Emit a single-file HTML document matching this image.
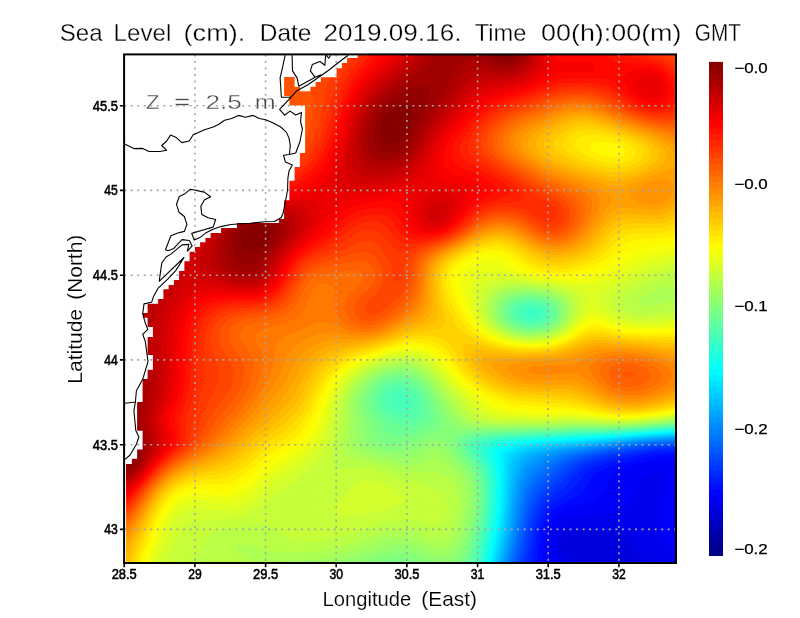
<!DOCTYPE html>
<html><head><meta charset="utf-8"><title>Sea Level</title>
<style>
html,body{margin:0;padding:0;background:#fff;}
body{width:800px;height:618px;overflow:hidden;}
svg{display:block;font-family:"Liberation Sans",sans-serif;}
</style></head><body>
<svg width="800" height="618" viewBox="0 0 800 618">
<rect width="800" height="618" fill="#fff"/>
<defs><clipPath id="c"><rect x="124.1" y="54.4" width="551.9" height="508.6"/></clipPath><clipPath id="h"><rect x="126.6" y="54.4" width="549.4" height="507.70000000000005"/></clipPath></defs>
<g clip-path="url(#c)">
<g clip-path="url(#h)">
<rect x="124.1" y="54.4" width="551.9" height="508.6" fill="#0000df"/>
<path fill="#0000ec" d="M676.1 50.4v516h-26l-2-2.7l-1.1-1.3l-2.9-2.8l-0.9-1.2l-2.5-4l-0.6-1.2l-1.2-2.8l-1.7-4l-1.1-2.4l-0.8-1.6l-2.5-4l-0.7-0.8l-3.2-3.2l-0.8-0.6l-4-2.2l-3.8-1.2h-0.2l-4-0.6l-4-0.2h-4l-4 0.2l-4 0.1l-4 0.2h-8l-8-0.6l-4-0.1l-4 0.1l-4 0.8l-0.2 0.1l-3.8 2l-2.2 2l-1.8 2.3l-0.9 1.7l-1.2 4l-0.2 4l1 4l1.3 2.4l1.2 1.6l2.8 2.6l2.1 1.4l1.9 1.4l4 2.2l0.8 0.4l3.2 2.4l2.6 1.6h-458.6v-516z"/>
<path fill="#0000f9" d="M676.1 50.4v502.2l-3.5-2.2l-0.5-0.3l-3.6-3.7l-0.4-0.5l-2.6-3.5l-1.4-2.3l-0.9-1.7l-1.7-4l-1.3-4l-0.1-0.7l-0.7-3.3l-0.6-4l-0.4-4l-0.1-4l0.2-4l0.4-4l0.6-4l0.6-2.5l0.2-1.5l1.8-8l1.1-4l1-4l0.1-4l-0.2-0.8l-1.9-3.2l-2.1-1.1l-4-0.5l-4 0.3l-4 1l-0.9 0.3l-3.1 1.8l-2.9 2.2l-1.1 1.8l-1.1 2.2l-1.6 8l-1.3 3.7l-0.1 0.3l-2.2 4l-4 4l-1.7 1.2l-4 2.4l-0.7 0.4l-3.3 1.5l-4 1.6l-2.6 0.9l-1.4 0.4l-4 1.2l-4 1.1l-4 0.9l-1.9 0.4l-2.1 0.4l-4 0.7l-4 0.5l-8 0.6l-4 0.4l-4 0.5l-3.9 0.9h-0.1l-4 1.6l-4 2.3l-0.1 0.1l-3.9 3.6l-0.3 0.4l-2.7 4l-1 1.9l-0.8 2.1l-1.2 4l-0.8 4l-0.4 4l0.2 4l0.8 4l1.5 4l0.7 1.7l1.3 2.3l1.4 4h-434.7v-516z"/>
<path fill="#0006ff" d="M676.1 50.4v409l-4-0.1l-4-0.2l-4 0.1l-4 0.4l-4 0.5l-8 1.4l-4 0.9h-0.2l-3.8 1.2l-8 2.4l-1.4 0.4l-2.6 1.1l-4 1.6l-3.5 1.3l-0.5 0.3l-4 2.3l-2.4 1.4l-1.6 1.6l-2.2 2.4l-1.8 3.9l-0.1 0.1l-1 4l-1.6 4l-1.3 1.7l-1.7 2.3l-2.3 1.9l-2.8 2.1l-1.2 0.7l-4 2.1l-2.6 1.2l-1.4 0.5l-4 1.4l-4 1.2l-3.1 0.9l-0.9 0.2l-4 1.2l-4 1.4l-2.8 1.2l-1.2 0.5l-4 2.2l-1.8 1.3l-2.2 1.7l-2.3 2.3l-1.7 1.9l-1.4 2.1l-2.4 4l-1.6 4l-1.3 4l-1.1 4l-0.2 1.1l-0.5 2.9l-0.4 4l-0.2 4l0.1 4l0.4 4l1 8h-424.4v-516z"/>
<path fill="#0013ff" d="M676.1 50.4v403.9h-8l-1.9 0.1l-2.1 0.1l-4 0.4l-4 0.5l-4 0.6l-4 0.7l-4 0.8l-4 0.7l-1 0.2l-3 0.9l-4 1.1l-4 1l-4 0.9l-0.2 0.1l-3.8 1.2l-4 1.3l-4 1.1l-1.4 0.4l-2.6 1.1l-4 1.6l-3 1.3l-1 0.7l-4 2.7l-0.8 0.6l-3.2 3.7l-0.3 0.3l-2.4 4l-1.3 2.2l-1.1 1.8l-2.9 3.7l-0.2 0.3l-3.8 3.3l-0.9 0.7l-3.1 2l-3.5 2l-0.5 0.2l-4 2.1l-3.1 1.7l-0.9 0.5l-4 2.3l-1.7 1.2l-2.3 1.7l-2.6 2.3l-1.4 1.3l-2.3 2.7l-1.7 2.3l-1 1.7l-2.1 4l-0.9 1.9l-0.8 2.1l-1.3 4l-1.1 4l-0.8 3.1l-0.2 0.9l-0.7 4l-1 8l-0.3 4l-0.2 4l-0.2 8h-417.4v-516z"/>
<path fill="#0020ff" d="M676.1 50.4v401.2h-4l-4 0.1l-4 0.2l-4 0.3l-8 0.8l-8 1.2l-1.6 0.2l-2.4 0.6l-8 1.8l-4 0.8l-3.7 0.8l-0.3 0.1l-4 1.1l-8 2l-3.4 0.8l-0.6 0.2l-8 2.6l-3.4 1.2l-0.6 0.3l-4 2.1l-2.9 1.6l-1.1 0.9l-3.6 3.1l-0.4 0.4l-3 3.6l-1 1.4l-2 2.6l-2 2.5l-1.3 1.5l-2.7 2.7l-1.4 1.3l-2.6 2l-2.7 2l-1.3 0.8l-4 2.8l-0.6 0.4l-3.4 2.5l-1.8 1.5l-2.2 1.9l-2 2.1l-2 2.2l-1.3 1.8l-2.7 4v0.1l-1.9 3.9l-1.7 4l-0.4 1.1l-0.9 2.9l-1.1 4l-1 4l-0.9 4l-0.1 0.3l-0.7 3.7l-1.2 8l-0.7 4l-0.6 4l-0.5 4l-0.3 3.9v0.1h-412v-516z"/>
<path fill="#002dff" d="M676.1 50.4v399l-4 0.1h-4l-8 0.4l-4 0.3l-2 0.2l-10 1.5l-12 2.1l-2.2 0.4l-1.8 0.4l-4 1l-4 0.9l-4 0.8l-4 0.9h-0.2l-3.8 1l-4 1.1l-4 1l-3.3 0.9l-0.7 0.3l-4 1.5l-4 1.7l-1.2 0.5l-2.8 1.8l-3.3 2.2l-0.7 0.6l-3.6 3.4l-0.4 0.4l-3.1 3.6l-0.9 1l-2.6 3l-4 4l-1.4 1.3l-3.2 2.7l-0.8 0.6l-4 3.2l-0.3 0.2l-3.7 3.1l-0.9 0.9l-3.1 3l-4 5l-2.4 4l-1.6 3.1l-0.4 0.9l-1.6 4l-1.3 4l-0.7 2.1l-0.5 1.9l-1 4l-0.9 4l-0.8 4l-0.8 3.7v0.3l-0.8 4l-0.7 4l-0.8 4l-0.9 4l-0.8 4v0.4l-0.4 3.6h-407.6v-516z"/>
<path fill="#0039ff" d="M676.1 50.4v397.3h-4l-4 0.1l-4 0.2l-8 0.6l-4 0.4l-4 0.5l-4 0.4l-3.6 0.5l-0.4 0.1l-4 0.7l-8 1.6l-8 1.4l-1 0.2l-3 0.7l-8 1.8l-4 0.8l-3.2 0.7l-0.8 0.2l-4 1.2l-4 1.1l-4 1.3l-0.6 0.2l-3.4 1.5l-4 2l-0.8 0.5l-3.2 2.3l-2.2 1.7l-1.8 1.7l-2.4 2.3l-1.6 1.7l-2.2 2.3l-1.8 1.9l-2.1 2.1l-1.9 1.7l-2.5 2.3l-1.5 1.3l-3.1 2.7l-0.9 0.8l-3.5 3.2l-0.5 0.5l-3.2 3.5l-0.8 0.9l-2.2 3.1l-1.8 2.8l-0.7 1.2l-1.9 4l-1.4 3.4l-0.2 0.6l-1.3 4l-1.2 4l-1 4l-0.3 1.1l-0.6 2.9l-0.9 4l-2.4 12l-0.1 0.3l-0.8 3.7l-0.9 4l-1 4l-0.9 4l-0.4 3.1l-0.1 0.9h-403.9v-516z"/>
<path fill="#0046ff" d="M676.1 50.4v395.7h-4l-8 0.2l-1 0.1l-3 0.2l-8 0.8l-8 1l-4 0.6l-4 0.5l-4 0.6l-1.9 0.3l-2.1 0.4l-8 1.6l-4 0.7l-4 0.8l-3.1 0.5l-0.9 0.2l-16 3.6l-0.7 0.2l-3.3 1l-4 1.4l-4 1.5l-0.3 0.1l-3.7 2l-3.4 2l-0.6 0.5l-4 3.1l-0.5 0.4l-3.5 3.3l-0.7 0.7l-3.3 3.2l-0.8 0.8l-3.2 3l-1.1 1l-2.9 2.6l-1.5 1.4l-2.5 2.3l-1.8 1.7l-2.2 2.3l-1.4 1.7l-2.6 3.4l-0.4 0.6l-2.3 4l-1.3 2.4l-0.7 1.6l-1.5 4l-1.4 4l-0.4 1.3l-0.7 2.7l-1 4l-1.8 8l-0.5 2.3l-0.3 1.7l-1.6 8l-0.9 4l-1 4l-0.2 0.9l-0.8 3.1l-2 8l-0.5 4h-400.7v-516z"/>
<path fill="#0053ff" d="M676.1 50.4v394.4l-8 0.2l-8 0.4l-8 0.6l-4 0.4h-0.3l-3.7 0.5l-20 3l-3.2 0.5l-0.8 0.2l-4 0.7l-4 0.8l-4 0.7l-4 0.8l-4 0.7l-0.6 0.1l-3.4 0.8l-4 0.9l-8 2l-1.1 0.3l-2.9 1.1l-4 1.6l-3 1.3l-5 3l-1.5 1l-2.5 2l-2.4 2l-1.6 1.5l-2.8 2.5l-1.2 1.1l-3.2 2.9l-0.8 0.7l-3.7 3.3l-0.3 0.3l-3.9 3.7l-0.1 0.1l-3.5 3.9l-0.5 0.6l-2.4 3.4l-1.6 2.5l-0.8 1.5l-1.9 4l-1.3 3.2l-0.3 0.8l-2.4 8l-1 4l-0.3 1.3l-0.6 2.7l-3.2 16l-0.2 0.9l-0.6 3.1l-0.9 4l-1 4l-1.1 4l-0.4 1.3l-0.7 2.7l-1 4l-0.5 4h-397.8v-516z"/>
<path fill="#0060ff" d="M676.1 50.4v393.2l-8 0.2l-8 0.4l-4 0.3l-4 0.4l-4 0.3l-4 0.5l-4 0.4l-2.6 0.3l-1.4 0.2l-4 0.6l-4 0.7l-8 1.2l-4 0.7l-4 0.6h-0.2l-3.8 0.7l-4 0.8l-4 0.7l-4 0.8l-4 0.7l-1.6 0.3l-6.4 1.6l-8 2.2l-0.5 0.2l-3.5 1.5l-4 1.8l-1.4 0.7l-2.6 1.7l-3.4 2.3l-0.6 0.5l-4 3.2l-0.3 0.3l-3.7 3.2l-1 0.8l-3 2.6l-1.6 1.4l-2.4 2.2l-1.9 1.8l-2.1 2.2l-1.5 1.8l-2.5 3.2l-0.5 0.8l-2.3 4l-1.2 2.4l-0.7 1.6l-1.5 4l-1.3 4l-0.5 1.8l-0.6 2.2l-1.8 8l-0.8 4l-0.8 3.9v0.1l-0.8 4l-0.7 4l-0.8 4l-0.9 4l-0.8 3.5l-0.1 0.5l-1 4l-1.1 4l-1.2 4l-1 4l-0.5 4h-395.1v-516z"/>
<path fill="#006cff" d="M676.1 50.4v392h-4l-12 0.6l-4 0.3l-12 1.2l-12 1.5l-3.6 0.4l-0.4 0.1l-4 0.6l-4 0.7l-16 2.4l-1.1 0.2l-2.9 0.5l-4 0.8l-4 0.7l-8 1.6l-2.2 0.4l-1.8 0.5l-4 1.1l-4 1.2l-3.5 1.2l-0.5 0.2l-4 1.9l-3.6 1.9l-0.4 0.3l-4 2.7l-1.4 1l-2.6 2l-4 3.2l-3.4 2.8l-0.6 0.6l-3.8 3.4l-0.2 0.2l-3.5 3.8l-0.5 0.5l-2.5 3.5l-1.5 2.4l-0.8 1.6l-1.8 4l-1.6 4l-1.2 4l-2 8l-0.6 2.8l-0.2 1.2l-0.8 4l-1.4 8l-1.6 8v0.2l-0.7 3.8l-1.8 8l-1.1 4l-0.4 1.4l-0.7 2.6l-1.1 4l-1 4l-0.5 4h-392.7v-516z"/>
<path fill="#0079ff" d="M676.1 50.4v391h-4l-4 0.2l-4 0.1l-4 0.3l-4 0.2l-2.3 0.2l-1.7 0.2l-8 0.8l-24 3h-0.1l-3.9 0.6l-4 0.7l-18 2.7l-2 0.4l-8 1.4l-4 0.8l-4 0.9l-2.4 0.5l-1.6 0.5l-4 1.2l-4 1.4l-2.4 0.9l-1.6 0.8l-4 2.1l-2 1.1l-2 1.4l-3.8 2.6l-0.2 0.2l-4 3l-1 0.8l-3 2.5l-1.7 1.5l-2.3 2.3l-1.5 1.7l-2.5 3.2l-0.5 0.8l-2.3 4l-1.2 2.4l-0.7 1.6l-1.4 4l-1.2 4l-0.7 2.5l-0.3 1.5l-0.9 4l-0.8 4l-0.7 4l-0.8 4l-0.5 3.1l-0.2 0.9l-0.6 4l-1.4 8l-0.8 4l-0.9 4l-0.1 0.3l-0.9 3.7l-1 4l-1.1 4l-1 3.2l-0.2 0.8l-0.9 4l-0.5 4h-390.4v-516z"/>
<path fill="#0086ff" d="M676.1 50.4v390l-8 0.2l-8 0.4l-12 0.9l-4 0.4l-0.9 0.1l-3.1 0.4l-28 3.5l-0.6 0.1l-3.4 0.5l-20 3l-3.2 0.5l-0.8 0.1l-12 2.4l-4 0.9l-2.5 0.6l-1.5 0.5l-4 1.4l-4 1.5l-1.5 0.6l-2.5 1.3l-4 2.3l-0.8 0.4l-3.2 2.2l-2.7 1.8l-1.3 1l-3.6 3l-0.4 0.3l-3.6 3.7l-0.4 0.5l-2.6 3.5l-1.4 2.2l-0.9 1.8l-1.8 4l-1.3 3.6l-0.1 0.4l-1.1 4l-1 4l-0.9 4l-0.7 4l-0.2 0.8l-0.5 3.2l-0.7 4l-1.2 8l-1.4 8l-0.2 1.1l-0.5 2.9l-1.6 8l-1 4l-0.9 3.3l-0.2 0.7l-2.2 8l-0.9 4l-0.5 4h-388.2v-516z"/>
<path fill="#0093ff" d="M676.1 50.4v389l-8 0.2l-4 0.2l-16 1.2l-12 1.2l-1.9 0.2l-2.1 0.3l-28 3.5l-1.3 0.2l-2.7 0.4l-8 1.2l-4 0.5l-12 1.8l-0.8 0.1l-3.2 0.6l-4 0.8l-4 0.9l-4 1l-2.7 0.7l-1.3 0.5l-4 1.5l-5 2l-3 1.6l-4 2.3l-0.1 0.1l-3.9 2.8l-1.6 1.2l-2.4 2.2l-1.7 1.8l-2.3 2.9l-0.8 1.1l-2.2 4l-1 2l-0.8 2l-1.3 4l-1.1 4l-1 4l-2.1 12l-1.2 8l-0.5 3.4l-0.1 0.6l-1.2 8l-1.4 8l-0.8 4l-0.5 2.4l-0.3 1.6l-2 8l-1.1 4l-0.6 2l-0.5 2l-0.9 4l-0.5 4h-386.1v-516z"/>
<path fill="#009fff" d="M676.1 50.4v388l-4 0.1l-8 0.4l-4 0.3l-4 0.2l-4 0.4l-4 0.3l-20 2l-2.5 0.3l-1.5 0.2l-28 3.5l-2.6 0.3l-1.4 0.2l-4 0.6l-4 0.5l-4 0.6l-4 0.5l-8 1.2l-2.7 0.4l-1.3 0.3l-4 0.8l-8 2l-3.1 0.9l-0.9 0.3l-4 1.6l-4 1.7l-0.9 0.4l-3.1 1.8l-3.4 2.2l-0.6 0.4l-3.9 3.6l-0.1 0.1l-3 3.9l-1 1.6l-1.2 2.4l-1.7 4l-1.1 3.2l-1.2 4.8l-0.9 4l-1.4 8l-0.5 3.3l-0.1 0.7l-0.5 4l-0.6 4l-1 8l-1.2 8l-0.6 3.4l-0.1 0.6l-0.7 4l-1.6 8l-1 4l-0.6 2.3l-0.4 1.7l-2.2 8l-0.9 4l-0.4 4h-384.1v-516z"/>
<path fill="#00acff" d="M676.1 50.4v387.2l-8 0.2l-8 0.4l-2.4 0.2l-1.6 0.1l-4 0.4l-4 0.3l-24 2.4l-4 0.5l-4 0.4l-16 2l-4 0.4l-8 1l-4 0.4l-8 1l-4 0.6l-4 0.5l-8 1.2l-4 0.7l-0.8 0.1l-3.2 0.7l-4 1.1l-4 1l-3.9 1.2h-0.1l-4 1.7l-4 1.9l-0.7 0.4l-3.3 2.3l-1.9 1.7l-2.1 2.3l-1.2 1.7l-2.3 4l-0.5 1.1l-1.1 2.9l-1.2 4l-1 4l-0.7 3.3l-0.1 0.7l-0.7 4l-0.5 4l-0.6 4l-2 16l-0.1 1l-0.4 3l-0.5 4l-0.6 4l-1.4 8l-1.6 8l-2 8l-1.1 4l-1 4l-0.8 4l-0.5 4h-382.1v-516z"/>
<path fill="#00b9ff" d="M676.1 50.4v386.3l-4 0.1l-12 0.6l-12 0.9l-1.1 0.1l-2.9 0.3l-20 2l-4 0.5l-12 1.2l-4 0.5l-4 0.4l-4 0.5l-4 0.4l-4 0.5l-16 1.6l-0.5 0.1l-3.5 0.4l-4 0.6l-4 0.5l-4 0.6l-4 0.7l-4 0.6l-3 0.6l-1 0.3l-4 1l-4 1.2l-4 1.3l-0.5 0.2l-3.5 1.8l-3.7 2.2l-0.3 0.3l-3.5 3.7l-0.5 0.7l-1.8 3.3l-1.6 4l-0.6 1.9l-0.5 2.1l-0.9 4l-0.7 4l-0.6 4l-1 8l-0.3 2.3l-0.2 1.7l-0.8 8l-0.5 4l-0.4 4l-0.5 4l-1.2 8l-0.4 2.6l-0.2 1.4l-0.7 4l-0.8 4l-1.8 8l-0.5 1.9l-0.5 2.1l-1.1 4l-1 4l-0.8 4l-0.4 4h-380.2v-516z"/>
<path fill="#00c6ff" d="M676.1 50.4v385.5l-8 0.2l-4 0.3l-4 0.2l-16 1.2l-4 0.4l-2.3 0.2l-1.7 0.2l-36 3.6l-1.8 0.2l-2.2 0.2l-4 0.5l-24 2.4l-4 0.3l-4 0.5l-1.4 0.1l-2.6 0.4l-4 0.5l-12 2.1l-4 0.8l-0.8 0.2l-3.2 1l-4 1.3l-4 1.6l-0.2 0.1l-3.8 2.7l-1.5 1.3l-2.5 3.5l-0.3 0.5l-1.5 4l-1 4l-0.8 4l-0.4 2.1l-0.3 1.9l-0.5 4l-1.2 12l-0.3 4l-1.2 12l-0.5 4v0.1l-0.5 3.9l-0.5 4l-1.2 8l-0.7 4l-0.8 4l-0.3 1.3l-0.6 2.7l-0.9 4l-2 8l-0.5 1.9l-0.5 2.1l-0.8 4l-0.4 4h-378.3v-516z"/>
<path fill="#00d2ff" d="M676.1 50.4v384.6l-4 0.1l-8 0.4l-20 1.5l-4 0.4l-4 0.3l-4 0.4l-3.2 0.3l-0.8 0.1l-24 2.4l-4 0.3l-8 0.8l-4 0.3l-0.9 0.1l-3.1 0.3l-4 0.4l-4 0.3l-4 0.4l-4 0.3l-16 1.6l-4 0.5l-1.9 0.2l-2.1 0.3l-4 0.7l-8 1.6l-4 0.9l-1.8 0.5l-2.2 0.8l-4 1.8l-2.7 1.4l-1.3 1.1l-2.6 2.9l-1.4 3l-0.4 1l-0.9 4l-0.7 4l-0.4 4l-0.5 4l-0.3 4l-0.4 4l-0.3 4l-0.1 1.6l-0.2 2.4l-0.6 8l-1.2 12l-1 8l-0.6 4l-0.4 2.6l-0.2 1.4l-0.7 4l-0.8 4l-1.8 8l-2 8l-0.9 4l-0.8 4l-0.4 4h-376.4v-516z"/>
<path fill="#00dfff" d="M676.1 50.4v383.8l-4 0.1l-2.8 0.1l-1.2 0.1l-4 0.2l-20 1.5l-4 0.4l-4 0.3l-8 0.8l-4 0.3l-4 0.4h-0.3l-3.7 0.4l-4 0.3l-8 0.8l-4 0.3l-4 0.4l-4 0.3l-4 0.4l-12 0.9l-2.8 0.2l-1.2 0.1l-4 0.3l-4 0.4l-4 0.3l-12 1.2l-12 1.5l-1.3 0.2l-2.7 0.5l-4 0.9l-4 1l-4 1.1l-1.7 0.5l-2.3 1.1l-4 2.6l-0.4 0.3l-2.6 4l-1 3.7l-0.1 0.3l-0.8 8l-0.4 8l-0.3 4l-0.4 8l-0.3 4l-0.2 4l-0.3 4l-0.4 4l-0.3 4l-0.5 4v0.3l-0.4 3.7l-0.6 4l-0.5 4l-1.4 8l-0.8 4l-0.3 1.3l-0.6 2.7l-0.9 4l-1 4l-0.9 4l-1 4l-0.7 4l-0.4 4h-374.5v-516z"/>
<path fill="#00ecff" d="M676.1 50.4v383l-4 0.1l-8 0.4l-4 0.3l-3.4 0.2h-0.6l-4 0.4l-8 0.6l-4 0.4l-4 0.3l-4 0.4l-4 0.3l-4 0.4l-4 0.3l-4 0.4l-4 0.3l-2.5 0.2l-1.5 0.1l-4 0.4l-4 0.3l-4 0.4l-20 1.5l-4 0.2l-12 0.9l-3.2 0.2l-0.8 0.1l-4 0.3l-4 0.4l-4 0.5l-4 0.4l-4 0.5l-8 1.2l-3.5 0.6l-0.5 0.1l-4 1l-4 1.2l-4 1.4l-0.7 0.3l-3.3 2.5l-1.5 1.5l-1.5 4l-0.4 4l-0.2 8v4l-0.2 8l-0.2 4v0.5l-0.1 3.5l-0.2 4l-0.3 4l-0.2 4l-0.3 4l-0.8 8l-1 8l-0.6 4l-0.5 2.9l-0.2 1.1l-0.7 4l-0.8 4l-1.8 8l-0.5 2.2l-0.4 1.8l-1 4l-0.9 4l-0.7 4l-0.4 4h-372.6v-516z"/>
<path fill="#00f9ff" d="M676.1 50.4v382.1l-12 0.6l-16 1.2l-1.3 0.1l-2.7 0.2l-4 0.4l-4 0.3l-4 0.4l-8 0.6l-4 0.4l-20 1.5l-2.4 0.2l-1.6 0.1l-20 1.5l-4 0.2l-4 0.3l-4 0.2l-8 0.6l-4 0.2l-4 0.4l-4 0.3l-2.3 0.2l-1.7 0.2l-8 1l-8 1.2l-8 1.4l-0.8 0.2l-3.2 1l-4 1.6l-2.9 1.4l-1.1 1.1l-2.1 2.9l-0.6 4l0.1 4l0.4 8l0.2 8v4l-0.2 8l-0.6 12l-0.3 4l-0.9 9l-0.4 3l-0.5 4l-0.6 4l-1.4 8l-0.8 4l-0.3 1.3l-0.6 2.7l-1.8 8l-1 4l-0.6 2.8l-0.3 1.2l-0.6 4l-0.4 4h-370.7v-516z"/>
<path fill="#06fff9" d="M676.1 50.4v381.3l-12 0.6l-20 1.5l-4 0.4l-2.8 0.2l-1.2 0.1l-4 0.3l-4 0.4l-32 2.4l-4 0.2l-4 0.3l-4 0.2l-1.2 0.1l-2.8 0.2l-4 0.2l-4 0.3l-4 0.2l-4 0.3l-4 0.2l-4 0.3l-4 0.2l-8 0.6l-12 1.2l-3.2 0.3l-0.8 0.1l-8 1.2l-4 0.7l-4 0.8l-4 0.9l-1.2 0.3l-2.8 1.2l-4 2.4l-0.5 0.4l-1.9 4l0.1 4l1.2 8l0.4 4l0.3 4l0.2 8v8l-0.2 4l-0.1 4l-0.9 12l-0.4 4l-0.5 4l-1.2 8l-0.5 3l-0.2 1l-0.7 4l-0.8 4l-1.8 8l-0.5 2.1l-0.4 1.9l-1 4l-0.9 4l-0.6 4l-0.3 4h-368.8v-516z"/>
<path fill="#13ffec" d="M676.1 50.4v380.5l-4 0.1l-4 0.3l-4 0.2l-16 1.2l-4 0.4l-12 0.9l-4 0.4h-0.5l-3.5 0.3l-12 0.9l-4 0.2l-4 0.3l-4 0.2l-4 0.3l-4 0.2l-4 0.3l-12 0.6l-4 0.3l-8 0.4h-0.3l-3.7 0.2l-4 0.3l-4 0.2l-16 1.2l-8 0.8l-4 0.5l-4 0.4l-3.1 0.4l-0.9 0.1l-4 0.7l-4 0.8l-4 1l-4 1.2l-0.7 0.2l-3.3 2.3l-1.7 1.7l-0.7 4l0.7 4l1 4l0.7 3.3l0.2 0.7l0.6 4l0.4 4l0.3 4l0.2 4v8l-0.2 8l-0.2 4l-0.3 4l-0.8 8l-0.5 4l-1.2 8l-0.7 4l-1.8 9l-0.7 3l-2.7 12l-0.6 2.8l-0.3 1.2l-0.6 4l-0.4 4h-366.7v-516z"/>
<path fill="#20ffdf" d="M676.1 50.4v379.7l-4 0.1l-2.7 0.2l-1.3 0.1l-4 0.2l-8 0.6l-4 0.4l-16 1.2l-4 0.4l-8 0.6l-4 0.2l-3.7 0.3h-0.3l-4 0.3l-4 0.2l-4 0.3l-12 0.6l-4 0.3l-36 1.8l-4 0.3l-3.7 0.2h-0.3l-8 0.6l-4 0.4l-4 0.3l-4 0.4l-4 0.5l-4 0.4l-8 1l-2.4 0.4l-1.6 0.3l-4 1l-4 1.3l-3.4 1.4l-0.6 0.6l-2.5 3.4l0.1 4l1.3 4l1.1 3l1.5 5l0.8 4l0.6 4l0.4 4l0.4 8v4l-0.2 8l-0.2 4l-0.3 4l-0.8 8l-0.5 4l-1.2 8l-0.5 2.7l-0.2 1.3l-0.8 4l-2.7 12l-0.3 1.5l-0.6 2.5l-1.8 8l-0.6 4l-0.3 4h-364.7v-516z"/>
<path fill="#2dffd2" d="M676.1 50.4v378.9l-4 0.1l-4 0.3l-4 0.2l-4 0.4l-1.8 0.1l-2.2 0.2l-16 1.2l-4 0.4l-8 0.6l-4 0.2l-8 0.6l-12 0.6l-3 0.2l-1 0.1l-4 0.2l-4 0.1l-44 2.2l-4 0.3l-4 0.2l-12 0.9h-0.2l-3.8 0.3l-12 1.2l-8 1l-8 1.4l-0.4 0.1l-3.6 1.2l-4 2l-1.2 0.8l-1.8 4l0.8 4l1.8 4l0.4 0.9l1.4 3.1l1.4 4l1.1 4l0.1 0.7l0.6 3.3l0.5 4l0.3 4l0.2 4v8l-0.1 4l-0.2 4l-0.3 4l-0.8 8l-0.2 1.5l-0.3 2.5l-0.6 4l-0.7 4l-2.4 12l-1.8 8l-1 4l-0.9 4l-0.3 1.6l-0.5 2.4l-0.7 4l-0.3 4h-362.5v-516z"/>
<path fill="#39ffc6" d="M676.1 50.4v378l-8 0.4l-4 0.3l-4 0.4l-8 0.6l-3.6 0.3h-0.4l-4 0.4l-16 1.2l-4 0.2l-4 0.3l-28 1.4l-4 0.1l-8 0.4h-0.6l-3.4 0.2l-4 0.1l-28 1.4l-4 0.3l-4 0.2l-4 0.3l-4 0.2l-12 0.9l-4 0.4h-0.2l-3.8 0.4l-4 0.4l-8 1.2l-4 0.8l-4 1l-0.6 0.2l-3.4 2l-2.5 2l-0.8 4l1.4 4l1.9 3.5l0.2 0.5l2.2 4l1.6 3.7l0.1 0.3l1.2 4l0.9 4l0.6 4l0.4 4l0.3 4l0.1 4v4l-0.6 12l-0.4 4l-1 8l-0.6 4l-0.7 4l-1.6 8l-1.8 8l-0.9 3.8l-0.1 0.2l-0.9 4l-1 4l-0.8 4l-0.7 4l-0.3 4h-360.2v-516z"/>
<path fill="#46ffb9" d="M676.1 50.4v377.2l-8 0.4l-4 0.3l-4 0.4l-12 0.9l-4 0.4l-4 0.3l-1.5 0.1l-2.5 0.2l-8 0.6l-4 0.2l-4 0.3l-12 0.6l-4 0.1l-4 0.2l-4 0.1l-4 0.2l-4 0.1l-4 0.2l-4 0.1l-8 0.4l-4 0.1l-12 0.6h-0.4l-3.6 0.2l-20 1l-8 0.6l-4 0.2l-16 1.2l-4 0.4l-3.6 0.4l-0.4 0.1l-4 0.6l-4 0.8l-4 1.2l-3.4 1.3l-0.6 0.5l-3.3 3.5l-0.1 4l1.7 4l1.7 2.5l3.3 5.5l0.7 1.2l1.3 2.8l1.5 4l1 4l0.2 0.9l0.5 3.1l0.5 4l0.3 4l0.1 4v4l-0.2 8l-0.3 4l-0.4 4l-0.5 4v0.1l-0.6 3.9l-0.6 4l-0.8 4l-0.7 4l-0.9 4l-0.4 1.9l-0.5 2.1l-1 4l-0.9 4l-1 4l-0.6 2.6l-0.3 1.4l-1 4l-0.7 4l-0.3 4h-357.7v-516zM527.3 310.4l-2.2 4l3 2.4l4 1.4l4-0.8l4-3l-2.8-4l-1.2-0.5l-4-0.4l-4 0.5z"/>
<path fill="#53ffac" d="M676.1 50.4v376.4l-4 0.1l-8 0.6l-4 0.4l-12 0.9l-4 0.4l-16 1.2h-0.7l-3.3 0.2l-16 0.8l-12 0.3l-4 0.2l-8 0.2l-4 0.2l-4 0.1l-4 0.2l-4 0.1l-16 0.8l-4 0.1l-12 0.6l-3.3 0.2h-0.7l-4 0.3l-8 0.4l-4 0.3l-4 0.2l-16 1.2l-8 1l-3.2 0.6l-0.8 0.2l-4 1.3l-4 1.8l-1.2 0.7l-2.5 4l0.3 4l2 4l1.4 1.9l1.4 2.1l2.6 3.7l0.2 0.3l2.2 4l1.6 3.6l0.1 0.4l1.2 4l0.8 4l0.6 4l0.3 4l0.2 4l0.1 4l-0.1 4l-0.2 4l-0.3 4l-0.4 4l-0.5 4l-0.6 4l-0.7 4l-0.5 2.9l-0.2 1.1l-2.7 12l-1 4l-0.1 0.6l-0.9 3.4l-2 8l-0.9 4l-0.2 0.9l-0.6 3.1l-0.4 4h-355v-516zM523.7 306.4l-3.6 2.5l-1.5 1.5l-0.6 4l2.1 3.2l0.6 0.8l3.4 1.8l4 1.3l4 0.5l4-0.3l4-1.1l4-2.2l2.1-4l-0.9-4l-1.2-1.2l-4-2.8h-0.1l-3.9-0.9l-4-0.4l-4 0.3l-4 0.9zM391.2 394.4l-2.3 4l0.2 4l2.5 4l0.5 0.4l4 2.6l2.8 1l1.2 0.3l4 0.3l3.2-0.6l0.8-0.3l4-3.7l0.5-4l-0.5-2l-0.7-2l-3-4l-0.3-0.3l-4-2.1l-4-0.9l-4 0.6l-4 2z"/>
<path fill="#60ff9f" d="M676.1 50.4v375.5l-4 0.2l-8 0.6l-4 0.4l-12 0.9l-4 0.4l-12 0.9l-4 0.2l-4 0.3l-8 0.4l-4 0.1l-1.9 0.1l-2.1 0.1l-32 0.8l-8 0.4l-4 0.1l-8 0.4l-4 0.1l-12 0.6l-4 0.1l-24 1.2l-3.2 0.2h-0.8l-4 0.3l-4 0.2l-4 0.3l-8 0.8l-4 0.6l-4 0.8l-3.9 1h-0.1l-4 2.1l-2.4 1.9l-1.6 3.9v0.3l0.7 3.8l2.2 4l1.1 1.5l1.8 2.5l2.2 2.8l0.9 1.2l2.5 4l0.6 1.1l1.3 2.9l1.4 4l1 4l0.3 1.9l0.3 2.1l0.4 4l0.2 4l0.1 4l-0.1 4l-0.2 4l-0.3 4l-0.4 4v0.3l-0.5 3.7l-1.4 8l-1.6 8l-0.5 2.2l-0.4 1.8l-1.1 4l-2 8l-0.5 1.8l-0.6 2.2l-1.2 4l-1 4l-0.8 4l-0.4 3.8v0.2h-352v-516zM526.3 302.4l-2.2 0.4l-4 1.4l-3.9 2.2l-0.1 0.1l-2.7 3.9l-0.3 4l2.2 4l0.8 0.7l4 2.7l1.1 0.6l2.9 1l4 0.8l4 0.4l4-0.2l4-0.8l3.6-1.2l0.4-0.2l4-3.1l0.6-0.7l1.7-4l-0.5-4l-1.8-2.6l-1.4-1.4l-2.6-1.6l-4-1.6l-3.6-0.8l-0.4-0.1l-4-0.3l-4 0.2zM392.7 386.4l-0.6 0.2l-4 2.1l-2.3 1.7l-1.7 1.9l-1.5 2.1l-1.5 4v4l1.4 4l1.6 2.3l1.4 1.7l2.6 2.3l2.5 1.7l1.5 1l4 1.8l4 1.1l4 0.5l4-0.1l1.4-0.3l2.6-0.6l4-2.1l1.5-1.3l2.3-4l0.2-1l0.3-3l-0.3-2.2l-0.3-1.8l-1.4-4l-2.2-4l-0.1-0.1l-3.5-3.9l-0.5-0.4l-4-2.7l-2.3-0.9l-1.7-0.6l-4-0.5l-4 0.3z"/>
<path fill="#6cff93" d="M676.1 50.4v374.6l-4 0.2l-4 0.3l-4 0.4l-4 0.3l-1.8 0.2l-2.2 0.2l-8 0.6l-4 0.4l-8 0.6l-4 0.2l-4 0.3l-12 0.6l-20 0.5h-4l-12 0.3l-4 0.2l-3.8 0.1h-0.2l-4 0.2l-4 0.1l-8 0.4l-4 0.1l-8 0.4l-4 0.1l-4 0.2l-4 0.1l-8 0.4l-4 0.1l-12 0.6l-4 0.1l-4 0.3l-8 0.4l-4 0.4l-1.5 0.1l-2.5 0.3l-4 0.5l-4 0.8l-4 1.1l-3.3 1.3l-0.7 0.5l-3.5 3.5l-0.5 2.2l-0.3 1.8l1 4l2.3 4l1 1.3l2.1 2.7l1.9 2.3l1.3 1.7l2.7 3.7l0.2 0.3l2.1 4l1.6 4l0.1 0.2l1 3.8l0.7 4l0.5 4l0.3 4l0.1 4l-0.1 4l-0.2 4l-0.3 4l-0.4 4l-1.2 8l-0.4 2.2l-0.4 1.8l-0.8 4l-1 4l-0.9 4l-0.9 3.5l-0.1 0.5l-1.2 4l-1.1 4l-1.2 4l-0.4 1.4l-0.9 2.6l-1.2 4l-1 4l-0.5 4h-348.4v-516zM516.1 302.4l-4 2.9l-1.1 1.1l-2 4l0.1 4l1.9 4l1.1 1.1l3.4 2.9l0.6 0.3l4 1.8l4 1.3l2.8 0.6l1.2 0.2l4 0.2l4-0.1l2.2-0.3l1.8-0.3l4-1.4l4-2l0.5-0.3l3.5-3.6l0.3-0.4l1.5-4l-0.3-4l-1.5-2.9l-0.7-1.1l-3.3-2.6l-2.4-1.4l-1.6-0.7l-4-1.1l-4-0.7l-4-0.3h-4l-4 0.4l-4 0.9zM390.8 382.4l-2.7 1.1l-4 2.2l-1 0.7l-3 2.7l-1.2 1.3l-2.6 4l-0.2 0.7l-1 3.3l-0.2 4l0.9 4l0.3 0.7l1.7 3.3l2.3 3.1l0.8 0.9l3.2 3.2l1 0.8l3 2.5l2.5 1.5l1.5 1l4 1.8l4 1l2.2 0.2l1.8 0.2l2.8-0.2l1.2-0.1l4-0.7l4-1.2l4-1.8l0.4-0.2l3.6-2.9l1-1.1l1.7-4l0.3-4l-0.6-4l-1.2-4l-1.2-3.1l-0.4-0.9l-2.2-4l-1.4-2l-1.5-2l-2.5-2.7l-1.5-1.3l-2.5-1.8l-4-2.1l-0.3-0.1l-3.7-1l-4-0.4l-4 0.2l-4 0.8z"/>
<path fill="#79ff86" d="M676.1 50.4v373.7l-4 0.2l-4 0.3l-8 0.8l-4 0.3l-4 0.4l-3.4 0.3h-0.6l-4 0.4l-4 0.3l-4 0.2l-4 0.3l-4 0.2l-4 0.3l-4 0.1l-4 0.2l-12 0.3h-8l-4 0.1h-4l-16 0.4l-8 0.4l-4 0.1l-12 0.6l-3.7 0.1h-0.3l-4 0.2l-8 0.2l-4 0.2l-8 0.2l-4 0.2l-4 0.1l-4 0.2l-4 0.1l-16 0.8l-8 0.6l-4 0.5l-4 0.6l-4 1l-4 1.7l-2.3 1.4l-1.7 2.5l-0.8 1.5l-0.1 4l0.9 2.4l0.5 1.6l2.4 4l1.1 1.3l2.1 2.7l1.9 2.2l1.5 1.8l2.5 3.1l0.6 0.9l2.5 4l0.9 1.9l0.9 2.1l1.2 4l0.9 4l0.6 4l0.3 4l0.1 2.1l0.1 1.9l-0.1 4v0.4l-0.2 3.6l-0.3 4l-0.5 4l-0.6 4l-0.7 4l-0.8 4l-0.9 4v0.2l-1 3.8l-2.2 8l-0.8 3l-0.3 1l-1.4 4l-1.3 4l-1 3l-2 5l-1.3 4l-0.7 3.9v0.1h-344v-516zM516.1 299.3l-4 1.9l-1.8 1.2l-2.2 2.2l-1.4 1.8l-1.4 4l0.2 4l1.8 4l0.8 0.9l3 3.1l1 0.7l4 2.2l2.5 1.1l1.5 0.5l4 1l4 0.6l4 0.2l4-0.1l4-0.6l4-1l1.7-0.6l2.3-1.1l4-2.7l0.3-0.2l3.1-4l0.6-1.5l0.9-2.5l-0.1-4l-0.8-2l-0.9-2l-3.1-3.2l-1-0.8l-3-1.7l-4-1.5l-2.8-0.8l-1.2-0.3l-4-0.6l-4-0.3h-4l-4 0.3l-4 0.6zM391.2 378.4l-3.1 1l-4 1.8l-2.1 1.2l-1.9 1.3l-3.3 2.7l-0.7 0.7l-2.8 3.3l-1.2 2.1l-1 1.9l-1.3 4l-0.4 4l0.6 4l1.4 4l0.7 1.5l1.4 2.5l2.6 3.9l0.1 0.1l3 4l0.9 1.5l2.1 2.5l1.9 2.7l4 4l2.1 1.3l1.9 0.9l4 1l4 0.1l4-0.6l4-1l1-0.4l3-1l4-1.5l3.7-1.5l0.3-0.1l4-1.8l3.9-2.1l0.1-0.1l4-3.7l0.1-0.2l1.5-4l0.1-4l-0.8-4l-0.9-3.1l-0.3-0.9l-1.6-4l-1.8-4l-0.3-0.5l-1.9-3.5l-2.1-3.1l-0.6-0.9l-3.3-4l-0.1-0.1l-4-3.6l-0.5-0.3l-3.5-2.2l-4-1.7l-0.4-0.1l-3.6-0.8l-4-0.3l-4 0.2l-4 0.7z"/>
<path fill="#86ff79" d="M676.1 50.4v372.8l-4 0.2l-4 0.3l-8 0.8l-4 0.3l-8 0.8l-8 0.6l-2.1 0.2l-1.9 0.1l-4 0.3l-12 0.6l-8 0.2h-4l-4 0.1h-16l-4 0.1h-4l-4 0.1l-4 0.2l-4 0.1l-4 0.2l-4 0.1l-8 0.4l-4 0.1l-4 0.2l-8 0.2l-4 0.2l-20 0.5l-4 0.2l-4 0.1h-0.1l-3.9 0.1l-4 0.1l-4 0.2l-4 0.1l-12 0.6l-8 0.8l-4 0.6l-4 0.9l-1.9 0.6l-2.1 1.4l-2.3 2.6l-0.4 4l0.8 4l1.9 4v0.1l2.5 3.9l1.5 1.9l1.7 2.1l2.3 2.5l1.3 1.5l2.7 3.2l0.6 0.8l2.8 4l0.6 1.1l1.4 2.9l1.5 4l1.1 4v0.1l0.6 3.9l0.4 4l0.2 4l-0.2 8l-0.8 8l-0.2 1.1l-0.5 2.9l-1.6 8l-1 4l-0.9 3.7l-0.1 0.3l-2.4 8l-1.3 4l-0.2 0.6l-1.3 3.4l-1.6 4l-1.1 2.6l-0.8 1.4l-2.1 4l-1.1 2.5l-0.9 1.5l-1.4 4h-37.8l-3.9-3.7l-0.4-0.3l-3.6-1.7l-4-1.5l-4-1l-4-0.2l-4 0.1l-2.1 0.3l-1.9 0.3l-4 1.1l-4 1.3l-3.4 1.3l-0.6 0.4l-4.8 3.6h-255.2v-516zM511.1 298.4l-3 1.8l-2.6 2.2l-1.4 1.8l-1.3 2.2l-1.1 4l0.4 4l1.7 4l0.3 0.3l3.2 3.7l0.8 0.6l4 2.7l1.3 0.7l2.7 1.2l4 1.3l4 0.9l4 0.6h0.7l3.3 0.2l4-0.2h0.3l3.7-0.5l4-0.9l4-1.5l2.2-1.1l1.8-1.2l3.4-2.8l0.6-0.7l2.3-3.3l1.4-4l0.1-4l-1.3-4l-2.5-3.3l-0.6-0.7l-3.4-2.3l-3.2-1.7l-0.8-0.3l-4-1.2l-4-0.9l-4-0.6l-4-0.3l-4-0.1l-4 0.2l-4 0.5l-4 0.9l-4 1.3zM394.4 374.4l-2.3 0.4l-4 1.1l-4 1.5l-2 1l-2 1.1l-4 2.6l-0.4 0.3l-3.6 3.3l-0.7 0.7l-3 4l-0.3 0.5l-1.9 3.5l-1.3 4l-0.5 4l0.2 4l0.9 4l1.5 4l1.1 2.5l0.8 1.5l1.8 4l1.4 3.7l0.1 0.3l2.6 8l1.3 2.4l1.1 1.6l2.9 2.5l2.2 1.5l1.8 0.8l4 1.3l4 0.9l4 0.4l4-0.2l4-0.8l4-1.4l4-2l4-2.1l1.7-0.9l2.3-1.1l4-1.8l2.7-1.1l1.3-0.6l4-1.6l3.9-1.8l0.1-0.1l4-3.6l0.2-0.3l0.9-4l-0.3-4l-0.8-3.1l-0.2-0.9l-1.4-4l-1.7-4l-0.7-1.4l-1.2-2.6l-2.1-4l-0.7-1.2l-1.6-2.8l-2.4-3.7l-0.2-0.3l-3.1-4l-0.7-0.8l-3.1-3.2l-0.9-0.9l-4-3l-0.2-0.1l-3.8-2l-4-1.4l-2.7-0.6l-1.3-0.2l-4-0.3l-4 0.2z"/>
<path fill="#93ff6c" d="M676.1 50.4v371.8l-2.5 0.2l-1.5 0.1l-4 0.3l-12 1.2l-4 0.3l-4 0.4l-20 1.5l-4 0.2h-1.1l-2.9 0.1l-8 0.2h-20l-4-0.1l-4 0.1h-4l-12 0.3l-8 0.4l-4 0.1l-4 0.2l-8 0.2l-4 0.2l-12 0.3h-4l-28 0.7h-4l-8 0.2h-4l-4 0.1h-4l-8-0.2l-4-0.3l-4-0.8l-3.4-1.7l-0.6-0.5l-2.7-3.5l-1.3-2.4l-0.7-1.6l-1.8-4l-1.5-3.2l-0.4-0.8l-2.1-4l-1.5-2.7l-0.7-1.3l-2.3-4l-1-1.5l-1.5-2.5l-2.5-3.8l-0.1-0.2l-2.9-4l-1-1.2l-2.4-2.8l-1.6-1.6l-2.6-2.4l-1.4-1.1l-4-2.6l-0.6-0.3l-3.4-1.5l-4-1.2l-4-0.7l-4-0.2l-4 0.3l-4 0.7l-4 1l-4 1.3l-0.7 0.3l-3.3 1.5l-4 2.2l-4 3l-1.6 1.3l-2.4 2.4l-1.4 1.6l-2.6 3.5l-0.3 0.5l-2.1 4l-1.4 4l-0.2 1.2l-0.5 2.8v4l0.5 4l1 4l1.2 4l1.1 4l0.7 3.6l0.1 0.4l1 8l1 4l1.9 3.1l0.7 0.9l3.3 2.6l2.3 1.4l1.7 0.8l4 1.5l4 1.3l1.3 0.4l2.7 0.7l4 0.7l4 0.5l4 0.2l4-0.4l4-0.9l1.9-0.8l2.1-0.9l4-2.3l1.3-0.8l2.7-1.6l4-2.3l0.3-0.1l3.7-1.6l4-1.2l4-0.7l4 0.2l4 1.8l1.2 1.5l2.8 3.8l0.1 0.2l2.4 4l1.5 2l1.3 2l2.7 3.1l0.7 0.9l3.3 3.6l0.4 0.4l3.6 4l3 4l1 1.5l1.4 2.5l1.8 4l0.8 2.5l0.4 1.5l0.8 4l0.5 4l0.2 4v4l-0.2 4l-0.3 4l-0.5 4l-0.6 4l-0.3 1.4l-0.6 2.6l-0.9 4l-2.2 8l-0.3 1.2l-1 2.8l-2.8 8l-0.2 0.4l-1.7 3.6l-2 4l-0.3 0.5l-2.5 3.5l-1.5 2l-2.2 2l-1.8 1.9l-3.5 2.1l-0.5 0.5l-4 1.8l-4 0.1l-4-1.3l-1.8-1.1l-2.2-0.7l-4-1.7l-3.2-1.6l-0.8-0.3l-8-3.6l-0.4-0.1l-3.6-1.4l-4-1.1l-4-0.8l-4-0.2l-4 0.2l-4 0.6l-4 0.8l-4 1.1l-2.6 0.8l-1.4 0.5l-4 1.3l-4 1.4l-2.2 0.8l-1.8 0.8l-4 1.7l-3.7 1.5l-0.3 0.2l-4 2.9l-1.2 0.9h-234.8v-516zM514.3 294.4l-2.2 0.6l-4 1.7l-2.9 1.7l-1.1 0.9l-2.9 3.1l-1.1 1.9l-1 2.1l-0.7 4l0.5 4l1.2 2.9l0.5 1.1l3.2 4l0.3 0.3l4 3.1l0.9 0.6l3.1 1.6l4 1.6l2.6 0.8l1.4 0.4l4 0.7l4 0.5l4 0.2l4-0.2l4-0.4l4-0.8l1.4-0.4l2.6-0.9l4-2l1.9-1.1l2.1-1.7l2.4-2.3l1.6-2.3l1.1-1.7l1.4-4l0.2-4l-0.9-4l-1.8-2.9l-0.8-1.1l-3.2-2.8l-1.8-1.2l-2.2-1.1l-4-1.5l-4-1.2l-1.2-0.2l-2.8-0.5l-4-0.5l-4-0.4l-4-0.1l-4 0.1l-4 0.3l-4 0.7z"/>
<path fill="#9fff60" d="M676.1 50.4v370.8l-4 0.2l-4 0.4l-4 0.5l-0.9 0.1l-3.1 0.3l-8 0.8l-8 0.6l-4 0.4l-4 0.2l-4 0.3l-8 0.4l-12 0.3h-8l-4-0.1h-4l-8-0.2h-4l-4 0.1h-4l-4 0.1l-4 0.2l-4 0.1l-8 0.4l-2.4 0.1l-1.6 0.1l-20 0.5h-4l-4 0.1h-4l-4 0.1h-4l-8 0.2h-4l-4 0.1h-8l-12-0.3l-4-0.3l-3.9-0.5h-0.1l-4-0.9l-4-1.5l-2.6-1.6l-1.4-1.2l-2.4-2.8l-1.6-2.4l-0.9-1.6l-2.3-4l-0.8-1.3l-1.6-2.7l-2.4-3.8l-0.1-0.2l-2.6-4l-1.3-1.9l-1.4-2.1l-2.6-3.8l-0.1-0.2l-2.9-4l-1-1.3l-2.2-2.7l-1.8-2.1l-1.9-1.9l-2.1-1.9l-2.6-2.1l-1.4-1l-4-2.2l-1.8-0.8l-2.2-0.8l-4-1.1l-4-0.5l-4-0.1l-4 0.4l-4 0.6l-4 0.9l-1.9 0.6l-2.1 0.7l-4 1.6l-3.5 1.7l-0.5 0.3l-4 2.5l-1.8 1.2l-2.2 1.8l-2.4 2.2l-1.6 1.8l-1.9 2.2l-2.8 4l-2 4l-1.3 3.5l-0.2 0.5l-0.8 4l-0.3 4l0.2 4l0.5 4l0.6 3.4l0.1 0.6l0.6 4l0.4 4v8l0.3 4l1.4 4l1.2 1.7l2 2.3l2 1.4l4 2.2l0.9 0.4l3.1 1.2l8 2.6l0.7 0.2l3.3 0.9l4 1.1l4 0.9l4 0.7l3 0.4l1 0.1l4 0.2l3.4-0.3l0.6-0.1l4-0.9l4-1.6l2.5-1.4l1.5-0.8l4-2.5l1.3-0.7l2.7-1.4l4-1.3l4-0.2l4 1.3l2.2 1.6l1.8 1.4l2.4 2.6l1.6 1.5l2.3 2.5l1.7 1.7l2.2 2.3l1.8 1.8l2.1 2.2l1.9 2l1.6 2l2.4 3.2l0.5 0.8l2.1 4l1.6 4l0.9 4l0.6 4l0.4 4v4l-0.1 4l-0.4 4l-0.5 4l-0.7 4l-0.4 2.3l-0.4 1.7l-2.2 8l-1.2 4l-0.2 0.6l-1.3 3.4l-1.7 4l-1 2.4l-0.9 1.6l-2.4 4l-0.7 1.1l-2.6 2.9l-1.4 1.3l-4 2.5l-0.7 0.2l-3.3 1l-4 0.3l-4-0.5l-3.3-0.8l-0.7-0.2l-4-1.4l-4-1.6l-1.8-0.8l-2.2-1l-4-1.7l-3.3-1.3l-0.7-0.3l-4-1.1l-4-0.7l-4-0.2l-4 0.2l-4 0.6l-4 0.9l-2.1 0.6l-1.9 0.5l-4 1.3l-4 1.4l-2.2 0.8l-1.8 0.6l-4 1.4l-4 1.3l-4 1.4l-4 1.2l-4 1.3l-2.7 0.8l-1.3 0.5l-4 1.4l-4 1.3l-2.8 0.8l-1.2 0.7l-4 2l-2.9 1.3h-209.1v-516zM506.2 294.4l-2.1 1.1l-3.9 2.9l-0.1 0.1l-3 3.9l-1 2.5l-0.5 1.5l-0.5 4l0.7 4l0.3 0.8l1.4 3.2l2.6 3.5l0.4 0.5l3.6 3.2l1.1 0.8l2.9 1.7l4 2l0.8 0.3l3.2 1.1l4 1l4 0.7l4 0.4l4 0.2l4-0.2l4-0.4l4-0.7l4-1.2l2.3-0.9l1.7-0.8l4-2.4l1.1-0.8l2.9-2.8l1.2-1.2l2.6-4l0.2-0.7l1.2-3.3l0.4-4l-0.6-4l-1-2l-1.1-2l-2.9-3.1l-1.1-0.9l-2.9-1.8l-4-1.8l-1.1-0.4l-2.9-0.9l-4-0.9l-4-0.7l-4-0.5l-4-0.4l-4-0.2h-4l-4 0.2l-4 0.5l-4 0.8l-4 1.3z"/>
<path fill="#acff53" d="M676.1 50.4v369.7l-4 0.3l-4 0.4l-4 0.5l-4 0.4l-4 0.5l-2.1 0.2l-1.9 0.2l-4 0.3l-4 0.4l-4 0.3l-4 0.2l-4 0.3l-8 0.4l-4 0.1h-4l-4 0.1l-4-0.1h-4l-16-0.4h-12l-8 0.2l-4 0.2l-4 0.1l-4 0.2l-4 0.1l-4 0.2l-12 0.3h-4l-4 0.1h-8l-4 0.1h-8l-4 0.1h-8l-8-0.2l-8-0.4l-4-0.5l-4-0.6l-4-1.1l-1.8-0.6l-2.2-1.1l-4-2.9l-3.4-4l-0.6-0.9l-2-3.1l-2-3l-0.7-1l-2.7-4l-0.6-0.8l-2.3-3.2l-1.7-2.3l-1.2-1.7l-2.8-3.9l-0.1-0.1l-2.9-4l-1-1.3l-2.1-2.7l-1.9-2.3l-1.5-1.7l-2.5-2.5l-1.6-1.5l-2.4-1.9l-3-2.1l-1-0.6l-4-2l-4-1.4l-4-0.9l-4-0.3h-4l-4 0.3l-4 0.7l-1.1 0.2l-2.9 0.7l-4 1.2l-4 1.5l-1.5 0.6l-2.5 1.2l-4 2.1l-1.1 0.7l-2.9 2l-2.6 2l-1.4 1.2l-2.9 2.8l-1.1 1.3l-2.2 2.7l-1.8 2.7l-0.9 1.3l-2 4l-1.1 2.9l-0.4 1.1l-1 4l-0.5 4l-0.1 4l0.2 4l0.3 4l0.2 4l-0.1 4l-0.6 8l-0.1 4l0.4 4l1.5 4l0.2 0.3l3.5 3.7l0.5 0.4l4 2.1l3.6 1.5l0.4 0.1l4 1.3l4 1.1l4 1.2l1.2 0.3l2.8 0.8l8 2.4l3.1 0.8l0.9 0.3l4 1l4 0.8l4 0.6l4 0.2l4-0.2l4-0.7l4-1.2l2.3-0.8l1.7-0.7l4-1.7l4-1.3l4-0.2l4 1.1l4 2.3l0.6 0.5l3.4 2.5l1.7 1.5l2.3 2l4 4l1.6 2l2.4 3.3l0.4 0.7l2 4l1.5 4l0.8 4l0.5 4l0.2 4l-0.1 4l-0.3 4l-0.5 4l-0.5 3l-0.2 1l-1 4l-1.1 4l-1.2 4l-0.5 1.3l-1.1 2.7l-1.8 4l-1.1 2.3l-1.1 1.7l-2.8 4l-0.1 0.1l-4 3.4l-0.9 0.5l-3.1 1.3l-4 0.6l-4-0.3l-4-0.9l-1.9-0.7l-2.1-0.8l-4-1.8l-3.2-1.4l-0.8-0.4l-4-1.8l-4-1.4l-1.5-0.4l-2.5-0.7l-4-0.6l-4-0.1l-4 0.2l-4 0.7l-2.4 0.5l-1.6 0.4l-4 1.1l-4 1.3l-3.3 1.2l-0.7 0.2l-4 1.5l-4 1.4l-4 1.5l-8 2.6l-2.6 0.8l-1.4 0.4l-4 1.2l-4 1.1l-8 2l-4 0.9l-4 0.8l-8 1.4l-1.6 0.2l-2.4 0.4l-8 1.2l-16 1.6l-4 0.5l-2.5 0.3l-1.5 0.4l-4 1.3l-4 1.8l-0.8 0.5h-155.2v-516zM508.8 290.4l-0.7 0.2l-4 1.4l-4 2.2l-0.3 0.2l-3.7 3.4l-0.5 0.6l-2.4 4l-1.1 4l-0.2 4l0.2 0.8l0.6 3.2l1.7 4l1.7 2.4l1.2 1.6l2.8 2.7l1.5 1.3l2.5 1.6l4 2.3l0.2 0.1l3.8 1.5l4 1.3l4 1l1.3 0.2l2.7 0.4l4 0.4l4 0.1l4-0.1l4-0.4l2.5-0.4l1.5-0.3l4-1.1l4-1.5l2.3-1.1l1.7-1l4-2.9l0.1-0.1l3.8-4l0.1-0.1l2.4-3.9l1.6-4v-0.3l0.6-3.7l-0.4-4l-1.6-4l-2.6-3.3l-0.6-0.7l-3.4-2.4l-2.9-1.6l-1.1-0.5l-4-1.4l-4-1.1l-4-0.9l-0.8-0.1l-3.2-0.5l-4-0.5l-4-0.4l-4-0.2l-4-0.1l-4 0.1l-4 0.3l-4 0.5z"/>
<path fill="#b9ff46" d="M676.1 50.4v235.2l-4 0.1l-4 0.4l-1.5 0.3l-2.5 0.6l-8 2.8l-1.4 0.6l-2.6 1.4l-4 2l-1.3 0.6l-2.7 2l-2.9 2l-1.1 2.1l-1 1.9l1 1.1l4 2.1l4 0.5l4-0.3l4-0.8l8-1.8l3-0.8l1-0.4l4-1.5l4-0.8v119.4l-4 0.3l-8 0.8l-4 0.5l-4 0.4l-4 0.5l-8 0.8h-0.5l-3.5 0.3l-4 0.2l-4 0.3l-4 0.2l-8 0.2h-12l-8-0.2l-4-0.2l-12-0.3h-12l-4 0.2l-8 0.2l-4 0.2l-20 0.5h-32l-4-0.1h-4l-4-0.1l-4-0.2l-4-0.3l-4-0.5l-2.6-0.4l-1.4-0.3l-4-1.3l-4-1.7l-1.1-0.7l-2.9-2.4l-1.6-1.6l-2.4-3.1l-0.7-0.9l-2.8-4l-0.5-0.6l-2.5-3.4l-1.5-1.9l-1.6-2.1l-2.4-2.9l-0.8-1.1l-3.1-4l-0.1-0.1l-4-5.2l-2.1-2.7l-1.9-2.3l-1.4-1.7l-2.6-2.9l-1.1-1.1l-2.9-2.7l-1.6-1.3l-2.4-1.8l-3.8-2.2l-0.2-0.1l-4-1.8l-4-1.2l-4-0.7l-3.4-0.2h-2.2l-2.4 0.1l-4 0.4l-4 0.7l-4 0.9l-4 1.1l-2.3 0.8l-1.7 0.6l-4 1.7l-3.6 1.7l-0.4 0.2l-4 2.4l-2.2 1.4l-1.8 1.4l-3.2 2.6l-4 4l-0.8 1l-2.3 3l-1.7 2.5l-0.9 1.5l-2.1 4l-1 2.6l-0.6 1.4l-1.1 4l-0.7 4l-0.3 4l-0.2 4v4l-0.2 4l-0.3 4l-0.5 4l-0.1 0.3l-0.6 3.7l-0.5 4l-0.3 4l0.2 4l1.1 4l0.1 0.2l2.7 3.8l1.3 1l4 2.2l2.4 0.8l1.6 0.5l8 1.8l4 0.8l4 0.9l4 1.1l8 2.4l1.5 0.5l2.5 0.9l4 1.4l4 1.2l1.9 0.5l2.1 0.6l4 0.9l4 0.7l4 0.3l4 0.1l4-0.2l8-0.8l4-0.3l4 0.1l4 0.9l4 1.6l0.1 0.1l3.9 2.7l1.5 1.3l2.5 2.6l1.1 1.4l2.5 4l0.4 0.8l1.1 3.2l1 4l0.6 4l0.2 4l-0.2 4l-0.5 4l-0.8 4l-0.9 4l-0.5 1.6l-0.8 2.4l-1.7 4l-1.5 3.1l-0.6 0.9l-2.9 4l-0.5 0.6l-4 2.9l-1.4 0.5l-2.6 0.7h-4l-3.7-0.7l-0.3-0.1l-4-1.5l-4-1.7l-1.7-0.7l-2.3-1l-4-1.6l-4-1.3l-0.6-0.1l-3.4-0.8l-4-0.4l-4-0.1l-4 0.4l-4 0.6l-1.2 0.3l-2.8 0.6l-4 1.1l-4 1.3l-2.9 1l-1.1 0.4l-4 1.4l-4 1.5l-12 4.2l-1.6 0.5l-2.4 0.7l-12 3.6l-12 2.7l-4 0.8l-1.2 0.2l-2.8 0.4l-8 1l-4 0.3l-8 0.4h-4l-8-0.2l-4-0.2l-8-0.8l-4-0.5l-3-0.4l-5-1l-4-1l-4-1.2l-2.2-0.8l-1.8-0.6l-4-1l-4-0.6l-4 0.4l-4 1.8l0.9 4l3.1 2.4l1.7 1.6l2.3 1.9l1.7 2.1l2.1 4l0.8 4h-128.6v-516zM499.9 290.4l-3.8 2.4l-1.9 1.6l-2.1 2.5l-1 1.5l-1.7 4l-0.8 4l0.1 4l0.9 4l1.7 4l0.8 1.1l2 2.9l2 2l2.1 2l1.9 1.4l4 2.6l4 1.9l4 1.5l2 0.6l2 0.5l4 0.9l4 0.5l4 0.4l4 0.1l4-0.1l4-0.4l4-0.6l4-1l1-0.3l3-1.1l4-1.9l1.7-1l2.3-1.6l3-2.4l1-1.1l2.6-2.9l1.4-2.2l1.2-1.8l1.6-4l0.8-4v-4l-1.1-4l-2.5-3.8l-0.2-0.2l-3.8-3.2l-1.2-0.8l-2.8-1.4l-4-1.6l-3.2-1l-0.8-0.2l-4-0.9l-4-0.8l-4-0.6l-4-0.5l-4-0.4l-4-0.3l-4-0.2h-4l-4 0.1l-4 0.4l-4 0.6l-4 1.1l-4 1.6z"/>
<path fill="#c6ff39" d="M676.1 50.4v224h-0.1l-3.9 0.4l-4 0.8l-4 1.1l-4 1.2l-1.4 0.5l-2.6 1l-4 1.7l-2.9 1.3l-1.1 0.5l-4 2l-3.2 1.5l-0.8 0.4l-4 2.1l-2.8 1.5l-1.2 0.7l-4 2.6l-1 0.7l-3 2.9l-1 1.1l-1.6 4l0.7 4l1.9 2.4l1.6 1.6l2.4 1.2l4 1.5l4 0.9l3.4 0.4h0.6l4 0.1l2.2-0.1l1.8-0.1l4-0.5l4-0.6l4-0.7l4-0.8l4-0.7l3.2-0.6l0.8-0.2l4-0.5v108.3l-4 0.3l-0.9 0.1l-3.1 0.3l-8 1l-20 2l-4 0.3l-4 0.2l-3.5 0.2h-0.5l-4 0.2h-4l-4 0.1l-8-0.2l-3.9-0.1h-0.1l-16-0.8l-8-0.2h-8l-4 0.1l-4 0.2l-4 0.1l-4 0.2l-4 0.1l-4 0.2l-4 0.1h-4l-4 0.1h-8l-4-0.1h-4l-4-0.1h-4l-16-0.4l-8-0.6l-4-0.6l-4-0.8l-4-1.1l-1.1-0.4l-2.9-1.6l-3.3-2.4l-0.7-0.6l-3-3.4l-1-1.2l-2.1-2.8l-1.9-2.3l-1.3-1.7l-2.7-3.2l-0.7-0.8l-3.3-3.8l-0.2-0.2l-3.4-4l-0.4-0.4l-2.9-3.6l-1.1-1.3l-2.1-2.7l-1.9-2.3l-1.4-1.7l-2.6-3.1l-0.8-0.9l-3.2-3.3l-0.8-0.7l-3.2-2.7l-1.8-1.3l-2.2-1.4l-4-2.1l-1.2-0.5l-2.8-1l-4-1l-4-0.6l-4-0.1l-4 0.2l-4 0.4l-4 0.8l-4 0.9l-1.6 0.4l-2.4 0.7l-4 1.3l-4 1.5l-1.1 0.5l-2.9 1.3l-4 2.1l-1.1 0.6l-2.9 1.9l-3 2.1l-1 0.8l-3.6 3.2l-0.4 0.4l-3.3 3.6l-0.7 0.9l-2.4 3.1l-1.6 2.5l-0.9 1.5l-2.1 4l-1.6 4l-1.2 4l-0.9 4l-0.6 4l-1.2 12l-0.6 4l-0.8 4l-1.8 8l-0.3 1.7l-0.5 2.3l-0.8 4l-0.7 4l-0.6 4l-0.5 4l-0.1 4l1.5 4l1.7 1.5l4 0.9l4-0.1l12-0.9h4l4 0.2l4 0.5l4 0.7l4 0.9l1 0.3l3 1l8 3h0.1l3.9 1.6l4 1.5l2.8 0.9l1.2 0.4l4 1.3l4 1.1l4 0.8l2.1 0.4l1.9 0.4l4 0.8l4 0.9l4 1l3.1 0.9l0.9 0.4l4 1.9l2.8 1.7l1.2 0.9l3.1 3.1l0.9 1.2l1.5 2.8l1.4 4l0.6 4l-0.2 4l-0.8 4l-1.5 4l-1 1.9l-1.8 2.1l-2.2 1.9l-4 1.3l-4-0.1l-4-1l-4-1.2l-3.1-0.9l-0.9-0.3l-4-1.1l-4-0.8l-4-0.5l-4-0.1l-4 0.2l-4 0.5l-4 0.7l-4 0.9l-1.9 0.5l-2.1 0.5l-8 2.4l-3.1 1.1l-0.9 0.3l-8 2.6l-3.2 1.1l-0.8 0.2l-4 1.3l-4 1.2l-4 1.3l-12 3.3l-2.5 0.7l-1.5 0.3l-4 0.9l-4 0.8l-4 0.7l-4 0.5l-4 0.4l-4 0.1h-4l-4-0.4l-4-0.7l-4-1l-4-1.4l-0.4-0.2l-3.6-2.1l-2.9-1.9l-1.1-0.9l-3.6-3.1l-0.4-0.4l-4-3.1l-0.8-0.5l-3.2-1.5l-4-0.8l-4-0.2l-4 0.3l-4 0.4l-12 1.5l-4 0.6l-4 0.7l-4 0.8l-4 0.9l-4 1.1l-0.6 0.2l-3.4 1.5l-4 2.2l-0.6 0.3l-3.4 3.2l-0.8 0.8l-2.7 4l-0.5 1.2l-1.4 2.8l-1.7 4l-0.9 1.9l-1.5 2.1l-2.5 2.2l-3.7 1.8l-0.3 0.1l-4 1.7l-4 2.1l-0.2 0.1l-3.2 4h-60.6v-516zM500.4 286.4l-0.3 0.1l-4 1.7l-3.4 2.2l-0.6 0.5l-3.3 3.5l-0.7 1.2l-1.5 2.8l-1.1 4l-0.4 4l0.3 4l1.1 4l1.6 3.6l0.2 0.4l2.7 4l1.1 1.2l2.7 2.8l1.3 1l4 2.9l0.2 0.1l3.8 2l4 1.8l0.5 0.2l3.5 1.1l4 1.1l4 0.7l4 0.6l4 0.3l4 0.1l4-0.2l4-0.3l4-0.6l4-0.9l4-1.3l1.6-0.6l2.4-1.1l4-2.3l1-0.6l3-2.4l1.9-1.6l3.5-4l2.6-4l1.9-4l1.1-4l0.3-4l-0.7-4l-2-4l-0.6-0.7l-3.4-3.3l-0.6-0.4l-4-2.2l-3.2-1.4l-0.8-0.3l-4-1.2l-4-1l-8-1.4l-0.7-0.1l-3.3-0.5l-4-0.5l-8-0.8l-4-0.3l-4-0.2h-4l-4 0.1l-4 0.4l-4 0.7z"/>
<path fill="#d2ff2d" d="M676.1 50.4v216.8l-4 0.5l-4 0.8l-4 0.9l-3.3 1l-0.7 0.2l-4 1.4l-4 1.5l-8 3.6l-16 8l-2.5 1.3l-1.5 0.8l-4 2.4l-1.3 0.8l-2.7 2.2l-2.1 1.8l-1.9 3l-0.6 1l-0.6 4l1.1 4l0.1 0.1l2.7 3.9l1.3 1.1l3.7 2.9l0.3 0.1l4 1.8l4 1.3l3.7 0.8l0.3 0.1l4 0.4l4 0.2h4l4-0.2l4-0.3l2.2-0.2l1.8-0.2l8-1.2l4-0.7l4-0.6l4-0.3v101.3l-4 0.3l-4 0.5l-6 0.9l-2 0.2l-4 0.5l-12 1.2l-8 0.6l-12 0.6h-8l-8-0.2l-8-0.4l-4-0.3l-4-0.2l-4-0.3l-4-0.1l-4-0.2h-12l-4 0.1l-4 0.2l-8 0.2l-4 0.2h-4l-4 0.1h-4l-4-0.1h-4l-24-0.6l-8-0.4l-4-0.4l-4-0.5l-1.3-0.2l-2.7-0.7l-4-1.3l-4-1.9l-0.1-0.1l-3.9-3.2l-0.8-0.8l-3.2-3.6l-0.3-0.4l-3.4-4l-0.3-0.3l-3.4-3.7l-0.6-0.6l-3.3-3.4l-0.7-0.7l-3-3.3l-1-1l-2.6-3l-1.4-1.6l-4-4.8l-1.3-1.6l-2.7-3.2l-0.7-0.8l-3.3-3.7l-0.3-0.3l-3.7-3.5l-0.6-0.5l-3.4-2.6l-2.2-1.4l-1.8-1.1l-4-1.8l-3.4-1.1l-0.6-0.2l-4-0.8l-4-0.4h-4l-4 0.3l-4 0.5l-2.9 0.6l-1.1 0.2l-4 1l-4 1.1l-4 1.2l-1.4 0.5l-2.6 1l-4 1.6l-3 1.4l-1 0.5l-4 2.2l-2.1 1.3l-1.9 1.3l-3.5 2.7l-0.5 0.4l-3.9 3.6l-0.1 0.1l-3.4 3.9l-3 4l-1.6 2.6l-0.9 1.4l-2 4l-1.1 2.5l-0.6 1.5l-1.3 4l-1.1 4l-0.8 4l-0.2 1.4l-0.4 2.6l-1.4 8l-0.8 4l-1 4l-0.4 1.4l-0.7 2.6l-2.6 8l-0.7 1.7l-0.9 2.3l-2 4l-1.1 1.9l-1.4 2.1l-2.6 3.5l-0.4 0.5l-3.6 3.9l-4.1 4.1l-3.9 3.8l-0.3 0.2l-3.7 3.5l-0.6 0.5l-3.4 3.1l-1.2 0.9l-2.8 2.3l-2.3 1.7l-1.7 1.3l-4 2.7l-4 2.9l-1.7 1.1l-2.3 1.7l-3.3 2.3l-0.7 0.5l-4 3l-0.6 0.5l-3.4 2.7l-1.6 1.3l-2.4 1.8l-3.1 2.2l-0.9 0.6l-4 2.5l-1.5 0.9l-2.5 1.3l-4 1.7l-2.7 1l-1.3 0.5l-4 1.1l-4 1l-4 0.7l-4 0.5l-2.4 0.2l-1.6 0.2l-4 0.3l-16 0.8l-4 0.4l-4 0.7l-4 1l-1.4 0.6l-2.6 1.4l-3.3 2.6l-0.7 0.7l-2.5 3.3l-1.5 2.3l-0.9 1.7l-1.9 4l-1.2 2.5l-0.6 1.5l-1.7 4l-1.7 3.1l-0.4 0.9l-2.1 4l-1.5 2.4l-0.8 1.6l-1.8 4l-1.1 4h-44.3v-516zM500.5 282.4l-0.4 0.1l-4 1.1l-4 1.7l-1.8 1.1l-2.2 1.7l-2.3 2.3l-1.7 2.6l-0.8 1.4l-1.3 4l-0.6 4v4l0.6 4l1.2 4l0.9 1.9l1 2.1l2.7 4l0.3 0.4l3.3 3.6l0.7 0.5l4 3.2l0.4 0.3l3.6 2.1l4 2l4 1.5l4 1.3l4 0.9l1 0.2l3 0.5l4 0.5l4 0.2l4 0.1l4-0.1l4-0.3l4-0.6l4-0.8l4-1.2l4-1.6l1.6-0.7l2.4-1.3l4-2.6l0.1-0.1l3.9-3.3l0.8-0.7l3.2-3.7l0.3-0.3l2.8-4l0.9-1.8l1.3-2.2l1.6-4l0.8-4v-4l-1.3-4l-3.2-4l-3.2-2.2l-3.1-1.8l-0.9-0.4l-4-1.4l-4-1.2l-4-0.9l-0.4-0.1l-3.6-0.7l-4-0.7l-4-0.6l-4-0.5l-4-0.6l-4-0.4l-4-0.5h-0.4l-3.6-0.4l-8-0.6l-4-0.1l-4 0.1l-4 0.4zM360.1 481.6l4-1.3l4-0.5l4 0.2l4 0.9l4 1.2l0.8 0.3l3.2 1.5l4 1.8l1.6 0.7l2.4 1.5l4 2.2l0.7 0.3l3.3 2.7l1.9 1.3l2.1 3.6l0.3 0.4l-0.3 0.6l-1.6 3.4l-2.4 1.3l-4 2.1l-1.3 0.6l-2.7 0.9l-4 1.2l-4 1.3l-1.9 0.6l-2.1 0.5l-8 2l-4 0.9l-3.1 0.6l-0.9 0.2l-4 0.5l-4 0.4l-4 0.3l-4 0.1h-4l-4-0.5l-4-0.9l-0.2-0.1l-2.2-4l1.6-4l0.8-1l1.9-3l2.1-2.3l1.2-1.7l2.8-3.1l0.7-0.9l3.3-3.6l0.4-0.4l3.6-3.5l0.5-0.5l3.5-2.6l2.2-1.4z"/>
<path fill="#dfff20" d="M676.1 50.4v210.4l-4 0.5l-4 0.8l-1.1 0.3l-2.9 0.7l-8 2.2l-3.2 1.1l-4.8 1.8l-4 1.7l-1 0.5l-3 1.4l-4 2l-1.1 0.6l-2.9 1.4l-4 2.1l-1.1 0.5l-2.9 1.4l-4 1.9l-1.5 0.7l-2.5 1.2l-4 2l-1.5 0.8l-2.5 1.6l-3.8 2.4l-0.2 0.2l-4 3.5l-0.5 0.3l-2.4 4l1 4l1.9 1.7l1.5 2.3l2.5 2.2l1.6 1.8l2.4 1.8l2.6 2.2l1.4 0.9l4 2.3l1.6 0.8l2.4 0.9l4 1.3l4 0.9l4 0.7l2.3 0.2l1.7 0.1l4 0.2h4l4-0.1l3.7-0.2h0.3l8-0.8l12-1.5l4-0.3v95.7l-4 0.3l-4 0.5l-4 0.6l-4 0.5l-4 0.6l-4 0.5l-4 0.4l-4 0.3l-4 0.4l-4 0.2l-4 0.3l-12 0.3l-12-0.3l-4-0.3l-4-0.2l-16-1.2h-1l-3-0.2l-4-0.1h-8l-8 0.2l-2.5 0.1h-1.5l-12 0.3h-8l-12-0.3l-4-0.2l-4-0.1l-4-0.2l-4-0.3l-4-0.2l-8-0.8l-4-0.7l-4-0.8l-2.2-0.7l-1.8-0.7l-4-2.3l-1.5-1l-2.5-2.2l-4-4l-1.6-1.8l-2.4-2.2l-1.7-1.8l-2.3-2.1l-2-1.9l-2-1.8l-4-4l-2.1-2.2l-1.9-2l-1.7-2l-2.3-2.6l-1.2-1.4l-2.8-3.4l-0.5-0.6l-3.5-4l-3.8-4l-0.2-0.2l-4-3.5l-0.4-0.3l-3.6-2.5l-2.8-1.5l-1.2-0.6l-4-1.6l-4-1.1l-4-0.6l-1.2-0.1l-2.8-0.2l-4 0.1l-0.5 0.1l-3.5 0.4l-4 0.6l-4 0.8l-4 1l-4 1.1l-0.3 0.1l-3.7 1.1l-4 1.4l-4 1.5l-4 1.8l-4 1.9l-4 2.4l-3 1.9l-5 4l-4 3.9l-0.1 0.1l-3.4 4l-0.5 0.7l-2.4 3.3l-1.6 2.6l-0.8 1.4l-2.1 4l-1.1 2.6l-0.6 1.4l-1.4 4l-1.2 4l-0.8 3.4l-0.2 0.6l-0.9 4l-0.8 4l-1 4l-1.1 4l-1.2 4l-1.4 4l-1.6 4l-1.9 4l-1.9 3.3l-0.4 0.7l-3 4l-0.6 0.7l-3.2 3.3l-0.8 0.8l-3.8 3.2l-0.2 0.1l-4 3.1l-1.1 0.8l-2.9 2.2l-2.7 1.8l-1.3 1l-4 2.8l-0.4 0.2l-3.6 2.6l-2.1 1.4l-1.9 1.4l-3.8 2.6l-0.2 0.1l-4 3l-1.3 0.9l-2.7 2.1l-2.4 1.9l-1.6 1.3l-3.1 2.7l-4.5 4l-0.4 0.3l-4 3.4l-0.3 0.3l-3.7 2.8l-1.8 1.2l-2.2 1.4l-4 2.1l-1.2 0.5l-2.8 1.2l-4 1.2l-4 0.9l-4 0.5l-4 0.2l-4-0.1l-4-0.2l-4-0.4l-8-1l-4-0.3h-4l-4 0.4l-4 1l-1.5 0.6l-2.5 1.3l-3.8 2.7l-0.2 0.1l-3.5 3.9l-0.5 0.6l-2.2 3.4l-1.8 3.1l-0.4 0.9l-3.4 8l-0.2 0.6l-1.1 3.4l-1.4 4l-1.5 3.8l-0.1 0.2l-1.4 4l-1.8 4l-0.7 1.6l-1 2.4l-1.5 4l-0.9 4h-36.6v-516zM495.9 278.4l-3.8 0.8l-4 1.5l-2.8 1.7l-1.2 0.9l-3 3.1l-1 1.5l-1.3 2.5l-1.3 4l-0.5 4l0.1 4l0.4 4l0.9 4l1.4 4l0.3 0.6l1.6 3.4l2.4 3.5l0.3 0.5l3.6 4l0.1 0.1l4 3.3l0.7 0.6l3.3 2.1l3.4 1.9l0.6 0.3l4 1.7l4 1.4l1.9 0.6l2.1 0.6l4 0.8l4 0.6l4 0.5l4 0.2h4l4-0.1l4-0.3l4-0.5l4-0.8l3.8-1h0.2l4-1.5l4-1.8l1.3-0.7l2.7-1.7l3.3-2.3l0.7-0.6l3.8-3.4l0.2-0.3l3.4-3.7l0.6-0.8l2.7-3.2l1.3-2.2l1.5-1.8l2.5-4v-0.1l2.6-3.9l1.4-3.5l0.6-0.5l0.3-4l-0.9-0.6l-2.5-3.4l-1.5-0.8l-4-2.7l-0.8-0.5l-3.2-1.3l-4-1.5l-4-1.2l-4-0.9l-4-0.8l-4-0.7l-4-0.6l-4-0.5l-3.4-0.5l-0.6-0.1l-4-0.6l-4-0.5l-8-1.2l-12-1.5l-1.4-0.1l-2.6-0.3l-4-0.3l-4-0.1l-4 0.1l-4 0.6z"/>
<path fill="#ecff13" d="M676.1 50.4v204.1l-4 0.6l-4 0.8l-4 1l-4 0.9l-2.3 0.6l-1.7 0.4l-4 1.1l-4 1.2l-3.6 1.3l-0.4 0.1l-4 1.7l-4 1.9l-4 2l-4 2.2l-0.2 0.1l-3.8 2l-4 1.9l-0.2 0.1l-3.8 1.7l-4 1.7l-1.6 0.6l-2.4 1l-4 1.5l-4 1.3l-0.6 0.2l-3.4 1.1l-4 0.9l-4 0.5l-4-0.1l-4-0.3l-4-0.5l-4-0.6l-8-1h-0.3l-3.7-0.4l-20-2.5l-4-0.6l-3.2-0.5l-0.8-0.1l-20-4l-4-1l-8-1.6l-4-0.5l-4-0.3l-4 0.2l-4 0.8l-4 1.8l-1 0.7l-3 2.4l-1.3 1.6l-2.3 4l-0.4 1.4l-0.6 2.6l-0.4 4l0.1 4l0.5 4l0.4 2.2l0.3 1.8l0.9 4l1.2 4l1.6 3.8l2.1 4.2l1.9 2.8l0.8 1.2l3.2 3.6l0.4 0.4l4.5 4l3.1 2.1l3.1 1.9l0.9 0.5l4 1.9l4 1.6h0.1l3.9 1.2l4 1l4 0.8l4 0.6l4 0.3l1.1 0.1l2.9 0.1l4 0.1l4-0.1l0.9-0.1l3.1-0.2l4-0.5l4-0.7l4-1l4-1.3l0.7-0.3l3.3-1.4l4-2.1l0.8-0.5l3.2-2.2l2.5-1.8l1.5-1.3l3-2.7l1-1l3.1-3l0.9-1.1l3.2-2.9l0.8-1l4-3h0.1l3.9-1.7l4 0.1l4 1.3l0.5 0.3l3.5 1.5l4 2.2l0.5 0.3l3.5 1.6l4 1.7l1.9 0.7l2.1 0.6l4 1l4 0.7l4 0.6l4 0.3l4 0.2h8l4-0.2l8-0.6l4-0.4l4-0.3l4-0.4l4-0.2v90.5l-2.4 0.2l-1.6 0.1l-4 0.6l-4 0.5l-4 0.6l-12 1.5l-4 0.4l-2.7 0.3l-1.3 0.1l-4 0.3l-4 0.2l-8 0.2h-8l-8-0.4l-4-0.3l-1.8-0.1l-2.2-0.2l-4-0.4l-4-0.5l-4-0.4l-8-0.6l-4-0.2l-4-0.1h-12l-12 0.3h-8l-8-0.2l-20-1l-4-0.3l-3.9-0.4h-0.1l-4-0.6l-4-0.8l-4-1.1l-3.9-1.5h-0.1l-4-2.4l-2.1-1.6l-1.9-1.4l-2.9-2.6l-1.1-0.9l-3.5-3.1l-0.5-0.3l-4-3.4l-0.3-0.3l-3.7-3.1l-4-3.6l-1.3-1.3l-2.7-2.6l-1.3-1.4l-2.7-2.9l-0.9-1.1l-3.1-3.6l-0.4-0.4l-3.3-4l-0.3-0.3l-3.3-3.7l-0.7-0.8l-3.3-3.2l-0.7-0.7l-4-3.1l-0.3-0.2l-3.7-2.3l-3.6-1.7l-0.4-0.2l-4-1.3l-4-0.9l-4-0.4l-4-0.1l-4 0.2l-4 0.5l-4 0.8l-4 0.9l-2.1 0.5l-1.9 0.5l-4 1.1l-4 1.2l-3.7 1.2l-0.3 0.1l-8 3l-4 1.8l-4 2.1l-1.8 1l-2.2 1.4l-3.7 2.6l-0.3 0.2l-4 3.4l-0.4 0.4l-3.6 3.7l-0.3 0.3l-3.3 4l-0.4 0.6l-2.4 3.4l-1.6 2.7l-0.8 1.3l-2 4l-1.2 2.7l-0.5 1.3l-1.5 4l-1.3 4l-0.7 2.3l-0.5 1.7l-1.1 4l-1.2 4l-1.2 3.9v0.1l-1.4 4l-1.5 4l-1.1 2.7l-0.6 1.3l-2 4l-1.4 2.5l-1 1.5l-3 3.9l-4.1 4.1l-3.9 3.1l-1.2 0.9l-2.8 2l-3.2 2l-0.8 0.6l-4 2.5l-1.4 0.9l-2.6 1.7l-3.6 2.3l-0.4 0.3l-4 2.7l-1.4 1l-2.6 1.8l-3 2.2l-1 0.7l-4 3.1l-0.2 0.2l-3.8 3.1l-1 0.9l-3 2.6l-1.6 1.4l-2.4 2.2l-2.1 1.8l-1.9 1.6l-3 2.4l-1 0.7l-4 2.6l-1.2 0.7l-2.8 1.4l-4 1.6l-4 1l-4 0.6l-4 0.2l-4-0.2l-4-0.4l-1-0.2l-3-0.4l-8-1.2l-4-0.3h-4l-4 0.4l-4 0.9l-1.6 0.6l-2.4 1l-4 2.4l-0.8 0.6l-3.2 2.8l-1.1 1.2l-2.9 3.5l-0.4 0.5l-3.6 6l-2.7 6l-1.3 3l-0.4 1l-1.3 4l-1.4 4l-0.9 2.4l-0.5 1.6l-1.4 4l-1.6 4l-0.5 1.3l-1.1 2.7l-1.6 4l-1.3 3.4l-0.2 0.6l-0.7 4h-31.1v-516z"/>
<path fill="#f9ff06" d="M676.1 50.4v197.6l-4 0.6l-4 1l-3.6 0.8l-0.4 0.1l-8 1.6l-4 0.7l-4 0.9l-2.9 0.7l-1.1 0.3l-4 1.2l-4 1.6l-1.9 0.9l-2.1 1l-4 2.2l-1.3 0.8l-2.7 1.6l-4 2.3l-0.1 0.1l-3.9 2l-4 2h-0.1l-3.9 1.6l-4 1.5l-2.7 0.9l-1.3 0.4l-4 1.2l-4 1.1l-4 0.8l-3 0.5l-1 0.2l-4 0.4l-4 0.3l-4 0.1h-4l-4-0.1l-8-0.4l-4-0.3l-1.7-0.2l-2.3-0.2l-8-1.2l-4-0.7l-4-0.8l-4-0.9l-1-0.2l-3-0.9l-4-1.3l-4-1.4l-1.3-0.4l-2.7-1.3l-4-1.9l-1.8-0.8l-2.2-1.3l-4-2l-1.6-0.7l-2.4-0.9l-4-0.8l-4-0.1l-4 0.4l-4 1l-1.1 0.4l-2.9 1.3l-4 2.1l-0.9 0.6l-3.1 2.6l-1.5 1.4l-2.5 3.5l-0.3 0.5l-1.2 4l-0.4 4l0.4 4l0.9 4l0.6 2.2l0.5 1.8l1.3 4l1.4 4l0.8 2.2l0.6 1.8l1.6 4l1.8 3.9l0.1 0.1l2.1 4l1.8 2.5l1 1.5l3 3.4l0.5 0.6l3.5 3.2l1 0.8l3 2.2l2.8 1.8l1.2 0.7l4 2l2.9 1.3l1.1 0.5l4 1.4l4 1.1l4 0.9l0.4 0.1l3.6 0.6l4 0.5l4 0.4l8 0.2l4-0.2l4-0.3l4-0.4l4-0.7l0.5-0.1l3.5-0.8l4-1.2l4-1.5l1.1-0.5l2.9-1.4l4-2.4l0.4-0.2l3.6-2.6l1.9-1.4l2.1-1.8l2.8-2.2l1.2-1.1l3.8-2.9l0.2-0.2l4-2.4l4-1.2h4l4 0.7l4 1.3l4 1.7l0.3 0.1l3.7 1.3l4 1.3l4 1.2l0.9 0.2l3.1 0.6l4 0.6l4 0.5l4 0.3l4 0.2h8l8-0.2l4-0.2l8-0.6l8-0.4v85.4l-4 0.4l-8 1.4h-0.1l-3.9 0.6l-12 1.5l-4 0.4l-4 0.3l-4 0.4l-8 0.4h-8l-4-0.1l-4-0.2l-4-0.3l-8-0.8l-12-1.5l-4-0.4l-3.7-0.3h-0.3l-4-0.4l-4-0.2l-8-0.2h-8l-4 0.1h-4l-12-0.3l-8-0.4l-8-0.6l-8-0.8l-4-0.5l-4-0.6l-0.3-0.1l-3.7-0.9l-4-1.2l-4-1.7l-0.4-0.2l-3.6-2l-3-2l-1-0.6l-4-2.9l-0.7-0.5l-3.3-2.3l-2.2-1.7l-1.8-1.3l-3.4-2.7l-0.6-0.4l-4-3.3l-0.3-0.3l-3.7-3.4l-0.7-0.6l-3.3-3.4l-0.5-0.6l-3.5-3.9l-0.1-0.1l-3.3-4l-0.6-0.7l-2.8-3.3l-1.2-1.4l-2.4-2.6l-1.6-1.7l-2.6-2.3l-1.4-1.2l-4-2.8l-4-2.2l-4-1.5l-0.9-0.3l-3.1-0.8l-4-0.7l-4-0.3l-4 0.1l-4 0.4l-4 0.6l-3.1 0.7l-0.9 0.2l-4 0.9l-8 2.2l-2.2 0.7l-1.8 0.5l-4 1.3l-4 1.4l-2.4 0.8l-1.6 0.6l-4 1.7l-3.9 1.7l-0.1 0.1l-4 2.1l-3 1.8l-1 0.7l-4.4 3.3l-4.5 4l-3.1 3.3l-0.6 0.7l-3.1 4l-0.3 0.4l-2.5 3.6l-1.5 2.6l-0.8 1.4l-2 4l-1.2 2.8l-0.5 1.2l-1.6 4l-1.4 4l-0.5 1.5l-0.9 2.5l-2.8 8l-0.3 0.9l-1.2 3.1l-1.7 4l-1.1 2.6l-0.7 1.4l-2.1 4l-1.2 2.1l-1.3 1.9l-2.7 3.6l-4.4 4.4l-3.6 2.8l-1.8 1.2l-2.2 1.5l-4 2.4l-0.1 0.1l-3.9 2.3l-2.8 1.7l-1.2 0.8l-4 2.5l-1.1 0.7l-5.8 4l-1.1 0.8l-4 3l-0.3 0.2l-3.7 3l-1.3 1l-2.7 2.3l-2 1.7l-2 1.8l-2.6 2.2l-1.4 1.3l-3.3 2.7l-0.7 0.6l-4 2.9l-0.7 0.5l-3.3 2l-4 1.8l-0.5 0.2l-3.5 1.1l-4 0.7l-4 0.3l-4-0.2l-4-0.4l-4-0.5l-4-0.6l-4-0.4h-0.1l-3.9-0.2l-4 0.1l-0.5 0.1l-3.5 0.5l-4 1l-4 1.5l-1.9 1l-2.1 1.2l-3.9 2.8l-0.1 0.1l-4 3.9l-3 4l-1 1.3l-1.6 2.7l-2.3 4l-0.1 0.3l-1.6 3.7l-1.7 4l-0.7 1.6l-0.9 2.4l-2.8 8l-0.3 0.8l-1.1 3.2l-1.4 4l-1.5 3.6l-0.1 0.4l-1.6 4l-1.7 4l-0.6 1.9l-0.6 2.1l-0.7 4h-26.7v-516z"/>
<path fill="#fff900" d="M676.1 50.4v191l-4 0.7l-1.4 0.3l-2.6 0.6l-4 0.9l-4 0.7l-8 1l-4 0.4l-3.1 0.4l-0.9 0.1l-4 0.8l-4 1l-4 1.5l-1.3 0.6l-2.7 1.4l-4 2.6h-0.1l-3.9 2.8l-1.6 1.2l-6 4l-0.4 0.2l-4 2.3l-3.2 1.5l-0.8 0.4l-4 1.6l-4 1.4l-1.8 0.6l-2.2 0.7l-4 1.2l-4 1l-4 0.9l-1.2 0.2l-2.8 0.5l-4 0.6l-4 0.3l-4 0.2l-4 0.1l-4-0.1l-4-0.2l-4-0.3l-4-0.5l-3.7-0.6l-0.3-0.1l-4-0.9l-4-1.1l-4-1.2l-2-0.7l-2-0.9l-4-2l-2.1-1.1l-1.9-1.3l-3.9-2.7l-0.1-0.1l-4-2.8l-1.8-1.1l-2.2-1.2l-4-1.6l-4-1.1l-1-0.1l-3-0.2l-4 0.2h-0.2l-3.8 0.7l-4 1.2l-4 1.4l-1.8 0.7l-2.2 1.1l-4 2.1l-1.3 0.8l-2.7 2l-2.6 2l-1.4 1.5l-2 2.5l-2 3.7l-0.1 0.3l-0.9 4v4l0.5 4l0.5 1.9l0.6 2.1l1.6 4l1.7 4l0.1 0.3l1.7 3.7l1.9 4l0.4 0.8l1.5 3.2l2.1 4l0.4 0.7l1.9 3.3l2.1 2.9l0.8 1.1l3.2 3.7l0.3 0.3l3.7 3.4l0.6 0.6l3.4 2.5l2.2 1.5l1.8 1l4 2.2l1.7 0.8l2.3 1l4 1.5l4 1.3l4 1l4 0.8l4 0.7l4 0.4l4 0.3l4 0.1h4l4-0.1l4-0.3l4-0.4l4-0.6l4-0.9l3.1-0.8l0.9-0.3l4-1.4l4-1.7l1.3-0.6l2.7-1.5l4-2.5h0.1l3.9-2.8l1.8-1.2l2.2-1.7l3.6-2.3l0.4-0.3l4-2.1l4-1l4-0.1l4 0.6l4 1l4 1.2l2 0.7l2 0.6l8 2l4 0.7l4 0.6l0.9 0.1l3.1 0.3l4 0.3l4 0.2l4 0.1h12l4-0.2l4-0.1l8-0.4l4-0.1v80.6l-4 0.4l-4 0.6l-4 0.8l-4 0.7l-4 0.6l-1.2 0.2l-2.8 0.3l-4 0.5l-8 0.8l-4 0.3l-4 0.2l-8 0.2l-8-0.2l-8-0.6l-4-0.5l-4-0.4l-4-0.6h-0.1l-3.9-0.7l-8-1.2l-8-1l-4-0.3l-8-0.4l-12-0.3h-4l-3.2-0.1h-0.8l-12-0.6l-4-0.3l-8-0.8l-4-0.5l-4-0.6l-4-0.8l-1.8-0.4l-2.2-0.6l-4-1.2l-4-1.6l-1.3-0.6l-2.7-1.2l-4-2.2l-0.9-0.6l-3.1-1.8l-3.4-2.2l-0.6-0.3l-4-2.7l-1.4-1l-2.6-1.8l-2.9-2.2l-1.1-0.8l-3.7-3.2l-0.3-0.2l-4-3.8l-3.7-4l-0.3-0.4l-3.1-3.6l-0.9-1.1l-2.3-2.9l-1.7-2.1l-1.6-1.9l-2.4-2.7l-1.2-1.3l-2.8-2.7l-1.6-1.3l-2.4-1.9l-4-2.4l-4-1.8l-4-1.3l-4-0.8l-4-0.4l-4-0.1l-4 0.2l-3.4 0.5l-0.6 0.1l-4 0.7l-8 2l-4 1.1l-0.2 0.1l-3.8 1.1l-8 2.4l-1.5 0.5l-2.5 0.8l-8 2.8l-0.9 0.4l-3.1 1.3l-4 1.9l-1.6 0.8l-2.4 1.4l-4 2.5l-0.1 0.1l-3.9 3l-1.2 1l-2.8 2.6l-1.4 1.4l-2.6 2.9l-1 1.1l-3 4l-2.6 4l-1.4 2.5l-0.9 1.5l-1.9 4l-1.2 2.6l-0.6 1.4l-1.7 4l-1.5 4l-3.2 8l-1 2.4l-0.7 1.6l-1.9 4l-1.4 2.9l-0.6 1.1l-2.2 4l-1.2 1.9l-1.5 2.1l-2.5 3.3l-0.6 0.7l-3.4 3.3l-0.8 0.7l-3.2 2.5l-2.2 1.5l-1.8 1.2l-4 2.4l-0.7 0.4l-3.3 1.9l-3.6 2.1l-0.4 0.3l-4 2.5l-1.9 1.2l-5.6 4l-0.5 0.4l-4 3l-0.7 0.6l-3.3 2.7l-1.6 1.3l-2.4 2l-2.3 2l-1.7 1.4l-3.1 2.6l-0.9 0.8l-4 3.1l-0.1 0.1l-3.9 2.6l-2.5 1.4l-1.5 0.8l-4 1.5l-4 1l-4 0.4h-4l-4-0.2l-4-0.4l-4-0.3l-4-0.2l-4 0.1l-4 0.3l-4 0.6l-1.5 0.4l-2.5 0.7l-4 1.5l-4 2l-4 2.8l-1.2 1l-2.8 2.5l-1.4 1.5l-2.6 3.1l-0.7 0.9l-2.7 4l-0.6 1l-1.6 3l-2.1 4l-0.3 0.6l-1.4 3.4l-1.7 4l-0.9 2.3l-0.6 1.7l-1.5 4l-1.4 4l-0.5 1.2l-1 2.8l-1.5 4l-1.5 3.6l-0.2 0.4l-1.5 4l-1.6 4l-0.7 2.3l-0.5 1.7l-0.5 4h-23v-516z"/>
<path fill="#ffec00" d="M676.1 50.4v184.7l-4 0.8l-4 1l-4 0.8l-4 0.6l-1.6 0.1l-2.4 0.2l-12 0.6l-4 0.3l-4 0.5l-4 0.9l-4 1.4l-0.2 0.1l-3.8 2.1l-2.6 1.9l-1.4 1.1l-3.4 2.9l-0.6 0.5l-3.9 3.5h-0.1l-4 3.2l-1.2 0.8l-2.8 1.8l-4 2.2h-0.1l-3.9 1.8l-4 1.6l-1.7 0.6l-2.3 0.8l-4 1.3l-4 1.1l-3.1 0.8l-0.9 0.2l-4 0.9l-4 0.6l-4 0.5l-4 0.3h-4l-4-0.1l-4-0.3l-4-0.6l-4-0.8l-2.9-0.7l-1.1-0.3l-4-1.5l-4-1.8l-0.8-0.4l-3.2-1.9l-4-2.8l-4-3.1l-0.3-0.2l-3.7-2.6l-2.1-1.4l-1.9-1l-4-1.7l-4-1.3h-0.2l-3.8-0.5h-4l-4 0.3l-0.9 0.2l-3.1 0.7l-4 1.2l-4 1.4l-1.8 0.7l-2.2 1l-4 2l-2.1 1l-1.9 1.2l-4 2.5l-0.5 0.3l-3.5 3.1l-1 0.9l-2.9 4l-0.1 0.2l-1.5 3.8l-0.7 4l-0.1 4l0.5 4l0.9 4l0.9 2.8l0.5 1.2l1.7 4l1.8 3.8l0.1 0.2l2.1 4l1.8 3.4l0.3 0.6l2.2 4l2.5 4l2.9 4l0.1 0.2l3.3 3.8l0.7 0.7l3.7 3.3l0.3 0.2l4 3l1.2 0.8l2.8 1.7l4 2.1l0.3 0.2l3.7 1.7l4 1.6l2.1 0.7l1.9 0.6l4 1.2l4 0.9l4 0.7l4 0.5l4 0.4l4 0.3l4 0.1l8-0.2l4-0.3l2.2-0.2l1.8-0.2l4-0.5l4-0.8l4-1l4-1.3l0.6-0.2l3.4-1.3l4-1.9l1.5-0.8l6.5-3.9l0.1-0.1l3.9-2.5l2.6-1.5l1.4-0.9l4-1.7l4-1l4-0.1l4 0.4l4 0.8l10 2.5l6 1.2l4 0.7l4 0.5l4 0.4l4 0.3l4 0.2l12 0.3h8l8-0.2h4l4-0.1v75.7l-4 0.5l-2.6 0.5l-1.4 0.2l-12 2.1l-4 0.6l-8 1l-0.7 0.1l-3.3 0.3l-4 0.3l-4 0.2l-4 0.1h-4l-4-0.1l-8-0.4l-3.6-0.4l-0.4-0.1l-4-0.5l-8-1.4l-4-0.8l-4-0.7l-2.8-0.5l-1.2-0.3l-4-0.7l-8-1.2l-4-0.4l-8-0.6l-8-0.4l-4-0.1l-4-0.2l-1.8-0.1l-2.2-0.1l-4-0.2l-8-0.6l-4-0.4l-4-0.5l-4-0.6l-4-0.7l-3.7-0.9l-0.3-0.1l-4-1.1l-4-1.3l-3.6-1.5l-0.4-0.1l-4-1.8l-4-2.1l-4-2.2l-2.9-1.8l-1.1-0.6l-4-2.6l-1.1-0.8l-2.9-2.1l-2.5-1.9l-1.5-1.2l-3.1-2.8l-0.9-0.8l-3.1-3.2l-0.9-1l-2.6-3l-1.4-1.7l-1.8-2.3l-2.2-2.9l-0.9-1.1l-3.1-4l-3.5-4l-0.5-0.5l-4-3.5l-4-2.7l-2.5-1.3l-1.5-0.7l-4-1.4l-4-1l-4-0.5l-4-0.2l-4 0.1l-4 0.4l-4 0.7l-4 0.9l-4 1.1l-2.2 0.6l-1.8 0.5l-8 2.4l-3.7 1.1l-0.3 0.1l-8 2.4l-4 1.3l-0.6 0.2l-3.4 1.1l-4 1.5l-4 1.6l-4 1.9l-3.4 1.9l-0.6 0.4l-4 2.6l-1.4 1l-2.6 2.1l-2.2 1.9l-4 4l-1.8 2.1l-1.5 1.9l-2.5 3.4l-0.4 0.6l-2.5 4l-2.2 4l-1.9 4l-1 2.2l-0.8 1.8l-1.7 4l-1.5 3.5l-0.2 0.5l-1.8 4l-1.9 4l-0.1 0.2l-2 3.8l-2 3.6l-0.3 0.4l-2.5 4l-1.2 1.8l-1.6 2.2l-2.4 2.9l-1 1.1l-3 2.9l-1.3 1.1l-2.7 2.1l-2.8 1.9l-1.2 0.8l-4 2.4l-1.4 0.8l-2.6 1.5l-4 2.4l-0.2 0.1l-3.8 2.4l-2.3 1.6l-1.7 1.2l-3.8 2.8l-0.2 0.2l-4 3.1l-0.8 0.7l-3.2 2.6l-1.6 1.4l-2.4 2l-2.5 2l-1.5 1.3l-3.4 2.7l-0.6 0.4l-4 2.9l-1.1 0.7l-2.9 1.7l-4 1.9l-1.4 0.4l-2.6 0.8l-4 0.7l-4 0.3h-12l-4 0.1l-4 0.3l-4 0.5l-4 0.8l-2 0.5l-2 0.6l-4 1.6l-3.8 1.8l-0.2 0.1l-4 2.6l-1.7 1.3l-2.3 2l-2.1 2l-1.9 2.1l-1.6 1.9l-2.4 3.3l-0.5 0.7l-2.4 4l-1.1 1.9l-1 2.1l-2 4l-1 2.3l-0.7 1.7l-1.6 4l-1.7 4v0.1l-1.4 3.9l-1.6 4l-1 2.6l-0.6 1.4l-1.5 4l-1.7 4l-1.6 4l-1.4 4l-1 4l-0.2 1.4l-0.3 2.6h-19.7v-516zM592.8 142.4l-0.7 0.5l-2.3 3.5l2.3 3.6l0.3 0.4l3.7 2.3l2.8 1.7l1.2 0.4l4 1.3l4 1l4 0.5l4-0.2l4-1l4-2v-0.1l0.8-3.9l-0.8-0.8l-3.4-3.2l-0.6-0.3l-4-1.5l-4-1.4l-2.8-0.8l-1.2-0.2l-4-0.5l-4-0.2l-4 0.2z"/>
<path fill="#ffdf00" d="M676.1 50.4v179l-4 0.8l-0.7 0.2l-3.3 0.9l-4 0.9l-4 0.5l-4 0.3l-8 0.2h-8l-4 0.2l-4 0.5l-2.3 0.5l-1.7 0.4l-4 1.6l-3.5 2l-0.5 0.3l-4 3.3l-0.5 0.4l-8 8l-3.5 3l-1.2 1l-2.8 2l-3.3 2l-0.7 0.4l-4 1.9l-3.9 1.7h-0.1l-4 1.5l-4 1.4l-3.9 1.1h-0.1l-4 1.1l-4 0.8l-4 0.7l-4 0.4l-4 0.2l-4-0.1l-4-0.4l-4-0.7l-4-1l-3-1l-1-0.4l-4-1.9l-2.9-1.7l-1.1-0.7l-4-2.8l-0.7-0.5l-5.5-4l-1.8-1.1l-4-2.5l-0.7-0.4l-3.3-1.5l-4-1.4l-4-1l-1.5-0.1l-2.5-0.2l-4 0.1l-0.7 0.1l-3.3 0.5l-4 0.9l-4 1.3l-3.8 1.3l-0.2 0.1l-8 3.6l-0.7 0.3l-3.3 1.8l-4 2.1l-0.2 0.1l-3.8 2.6l-1.9 1.4l-2.1 2l-1.8 2l-2.2 3.3l-0.4 0.7l-1.3 4l-0.7 4l-0.2 4l0.4 4l0.7 4l1.1 4l0.4 1.3l1 2.7l1.7 4l1.3 2.7l0.7 1.3l2 4l1.3 2.4l0.9 1.6l2.3 4l0.8 1.2l1.9 2.8l2.1 2.6l1.1 1.4l2.9 2.8l1.4 1.2l2.6 2l2.9 2l1.1 0.6l4 2.3l2.1 1.1l1.9 0.9l4 1.8l3.3 1.3l0.7 0.3l4 1.3l4 1.2l4 0.9l1.3 0.3l2.7 0.6l4 0.6l4 0.5l4 0.3l4 0.2l4 0.1l8-0.2l4-0.3l4-0.4l4-0.5l4-0.7l0.8-0.2l3.2-0.7l4-1.1l4-1.5l1.8-0.7l2.2-1l6-3l2-1.2l4-2.3l1.1-0.5l2.9-1.6l4-1.6l3.7-0.8l0.3-0.1l4-0.2l4 0.3h0.1l3.9 0.6l4 0.8l4 0.9l4 0.8l4 0.7l8 1l4 0.4l4 0.3l12 0.6l8 0.2h4l4 0.1h12v70.8l-4 0.4l-4 0.8l-4 0.9l-4 0.8l-12 1.8l-4 0.5l-4 0.4l-4 0.3l-4 0.2l-4 0.1h-4l-4-0.1l-4-0.3l-4-0.4l-4-0.5l-8-1.4l-3.6-0.7l-8.4-2.1l-8-1.8l-8-1.6l-4-0.6l-4-0.5l-4-0.4l-4-0.3l-4-0.2l-4-0.3l-4-0.2h-0.8l-3.2-0.2l-8-0.4l-4-0.3l-4-0.4l-4-0.5l-4-0.6l-4-0.8l-3.1-0.8l-0.9-0.2l-4-1.1l-4-1.4l-3.2-1.3l-0.8-0.3l-4-1.8l-4-2l-4-2.2l-2.8-1.7l-1.2-0.7l-4-2.7l-0.9-0.6l-3.1-2.4l-2-1.6l-2-1.8l-2.3-2.2l-1.7-1.8l-1.9-2.2l-2.1-2.6l-1.1-1.4l-2.9-4l-2.8-4l-1.2-1.9l-1.6-2.1l-2.4-3l-0.9-1l-3.1-3l-1.2-1l-2.8-1.9l-4.2-2.1l-3.8-1.4l-4-0.9l-4-0.6l-4-0.2h-4l-4 0.4l-4 0.6l-4 0.8l-4 1.1l-0.7 0.2l-3.3 1l-8 2.4l-1.8 0.6l-2.2 0.7l-8 2.4l-3.1 0.9l-0.9 0.3l-8 2.4l-4 1.3h-0.1l-3.9 1.4l-4 1.6l-2.2 1l-1.8 0.9l-4 2.3l-1.4 0.8l-2.6 1.8l-2.9 2.2l-1.1 0.9l-3.4 3.1l-0.6 0.6l-3.1 3.4l-0.9 1.1l-2.3 2.9l-1.7 2.5l-1 1.5l-2.4 4l-0.6 1.2l-1.5 2.8l-1.9 4l-0.6 1.4l-1.2 2.6l-1.9 4l-0.9 2.1l-1 1.9l-2 4l-1 1.8l-1.3 2.2l-2.5 4l-0.2 0.3l-2.6 3.7l-1.4 1.9l-1.8 2.1l-2.2 2.5l-1.5 1.5l-2.5 2.3l-2 1.7l-2 1.5l-3.6 2.5l-0.4 0.2l-4 2.5l-2.1 1.3l-1.9 1.1l-4 2.5l-0.7 0.4l-3.3 2.2l-2.5 1.8l-1.5 1.1l-3.8 2.9l-0.2 0.2l-4 3.3l-0.7 0.5l-3.3 2.8l-1.5 1.2l-2.5 2.1l-2.4 1.9l-1.6 1.3l-3.7 2.7l-0.3 0.2l-4 2.6l-2.3 1.2l-1.7 0.9l-4 1.5l-4 1.1l-3.2 0.5l-4.8 0.6l-8 0.6l-4 0.4l-4 0.5l-4 0.7l-4 0.9l-0.9 0.3l-3.1 1l-4 1.6l-3 1.4l-1 0.5l-4 2.5l-1.4 1l-2.6 2l-2.1 2l-1.9 1.9l-1.9 2.1l-2.1 2.6l-1 1.4l-2.7 4l-0.3 0.5l-1.9 3.5l-2.1 3.9l-0.1 0.1l-3.6 8l-0.3 0.7l-1.3 3.3l-1.7 4l-3.2 8l-1.7 4l-0.1 0.3l-1.5 3.7l-1.7 4l-0.8 2.1l-0.7 1.9l-1.2 4l-0.9 4l-0.4 4h-16.8v-516zM577.5 138.4l-1.4 1.7l-1.6 2.3l0.2 4l1.4 2l1.5 2l2.5 1.7l3.3 2.3l0.7 0.4l4 1.9l3.6 1.7l0.4 0.1l4 1.5l4 1.3l3.9 1.1h0.1l4 0.7l4 0.5h4l4-0.3l4-0.8l0.2-0.1l3.8-1.5l4-2.2l0.5-0.3l3.2-4l-0.2-4l-3.3-4l-0.2-0.1l-4-2.4l-2.7-1.5l-1.3-0.5l-4-1.5l-4-1.4l-2-0.6l-6-1.5l-8-1.6l-4-0.6l-4-0.3l-4 0.2l-4 0.8l-4 1.5z"/>
<path fill="#ffd200" d="M676.1 50.4v173.7l-4 0.9l-4 1.2l-4 1l-4 0.6l-4 0.3l-4 0.1h-4l-8-0.2h-4l-4 0.3l-4 0.6l-4 1.1l-1 0.4l-3 1.4l-4 2.5l-0.1 0.1l-3.9 3.5l-0.5 0.5l-3.5 3.7l-0.2 0.3l-3.8 4l-4 3.8l-0.2 0.2l-3.8 2.9l-1.7 1.1l-2.3 1.4l-5.2 2.6l-2.8 1.2l-4 1.5l-4 1.3h-0.1l-3.9 1.1l-4 0.9l-4 0.8l-4 0.5l-4 0.2l-4-0.1l-4-0.5l-4-0.8l-4-1.3l-1.9-0.8l-2.1-0.9l-4-2.2l-1.4-0.9l-2.6-1.6l-3.5-2.4l-0.5-0.3l-4-2.6l-1.6-1.1l-2.4-1.4l-4-2.2l-0.9-0.4l-3.1-1.2l-4-1.2l-4-0.8l-4-0.2l-4 0.3l-4 0.6l-4 1.1l-4 1.2l-4 1.6l-4 1.7l-2 0.9l-2 1l-4 1.9l-2.2 1.1l-1.8 1l-4 2.3l-1.2 0.7l-2.8 2.1l-2.4 1.9l-1.6 1.7l-1.9 2.3l-2.1 3.7l-0.2 0.3l-1.2 4l-0.6 4l-0.2 4l0.2 4l0.5 4l0.8 4l0.7 2.7l0.4 1.3l1.3 4l1.5 4l0.8 1.9l0.9 2.1l1.8 4l1.3 3l0.5 1l1.9 4l1.6 2.8l0.8 1.2l3.2 3.9l0.1 0.1l3.9 3.1l1.3 0.9l2.7 1.5l4 1.9l1.3 0.6l2.7 1.1l4 1.6l3.3 1.3l0.7 0.2l4 1.5l4 1.2l3.9 1.1h0.1l4 1l4 0.9l4 0.7l4 0.5l4 0.4l4 0.2l8 0.2l8-0.2l8-0.6l4-0.5l4-0.6l4-0.8l4-1.1l0.3-0.1l3.7-1.1l4-1.6l3-1.3l1-0.5l4-1.9l3.1-1.6l0.9-0.5l4-1.9l4-1.4l0.7-0.2l3.3-0.7l4-0.3l4 0.1l4 0.5l2.3 0.4l1.7 0.3l4 0.6l4 0.7l4 0.6l4 0.5l8 0.8l4 0.3l2.5 0.2l1.5 0.1l4 0.3l8 0.4l4 0.1l8 0.4l8 0.2h4v65.6l-4 0.6l-1.2 0.3l-2.8 0.5l-4 0.9l-12 2.4l-1.5 0.2l-2.5 0.3l-4 0.5l-4 0.4l-4 0.3l-4 0.2l-4 0.1l-8-0.2l-4-0.3l-4-0.5l-4-0.6l-1.3-0.2l-2.7-0.6l-8-2l-4-1.1l-1.2-0.3l-2.8-0.9l-4-1.2l-4-1.1l-3.4-0.8l-0.6-0.2l-8-1.6l-8-1l-4-0.3l-4-0.2l-4-0.3l-4-0.2l-4-0.1l-1-0.1l-3-0.1l-8-0.6l-4-0.4l-4-0.5l-4-0.6l-4-0.8l-4-1l-4-1.2l-4-1.4l-4-1.6l-4-1.8l-3.9-2l-0.1-0.1l-4-2.2l-2.7-1.7l-1.3-0.9l-4-2.8l-0.4-0.3l-3.6-3l-1.1-1l-2.9-2.9l-1-1.1l-3-3.7l-0.2-0.3l-2.8-4l-1-1.8l-1.3-2.2l-2.2-4l-0.5-1.1l-1.6-2.9l-2.4-3.9l-0.1-0.1l-3.4-4l-0.5-0.4l-4-2.7l-2.2-0.9l-1.8-0.7l-4-1.1l-4-0.6l-4-0.4l-4-0.1l-4 0.1l-4 0.4l-4 0.6l-4 0.8l-3.9 1h-0.1l-4 1.2l-8 2.6l-0.5 0.2l-3.5 1.2l-4 1.2l-4 1.3l-4 1.2l-8 2.2l-3.2 0.9l-0.8 0.2l-8 2.4l-4 1.4h-0.1l-3.9 1.6l-4 1.8l-1.1 0.6l-2.9 1.6l-3.6 2.4l-0.4 0.3l-4 3.1l-0.7 0.6l-3.3 3.1l-0.9 0.9l-3.1 3.5l-0.4 0.5l-2.9 4l-0.7 1l-1.9 3l-2.1 3.9l-0.1 0.1l-2 4l-1.9 4l-2 4l-1.9 4l-0.1 0.2l-2.1 3.8l-1.9 3.2l-0.5 0.8l-3.5 5l-2.4 3l-1.6 1.9l-4 4.2l-2 1.9l-2 1.8l-2.8 2.2l-1.2 0.9l-4 2.8l-0.4 0.3l-3.6 2.3l-2.6 1.7l-1.4 0.9l-4 2.6l-0.7 0.5l-3.3 2.3l-2.3 1.7l-1.7 1.3l-3.4 2.7l-0.6 0.5l-4 3.3l-0.2 0.2l-3.8 3.2l-4 3.2l-2.1 1.6l-1.9 1.4l-3.8 2.6l-0.2 0.1l-4 2.4l-3.3 1.5l-0.7 0.3l-4 1.5l-4 1l-4 0.8l-2.3 0.4l-1.7 0.3l-4 0.6l-4 0.7l-8 1.6l-2.8 0.8l-1.2 0.3l-4 1.4l-4 1.6l-1.5 0.7l-2.5 1.3l-4 2.3l-0.5 0.4l-3.5 2.6l-1.6 1.4l-2.4 2.2l-1.7 1.8l-2.3 2.6l-1.1 1.4l-2.9 4l-2.4 4l-1.6 2.7l-0.7 1.3l-2 4l-1.3 2.7l-0.6 1.3l-1.8 4l-1.6 3.6l-0.2 0.4l-3.4 8l-0.4 1l-1.3 3l-1.7 4l-1 2.2l-0.8 1.8l-1.6 4l-1.4 4l-0.2 0.7l-0.9 3.3l-0.6 4l-0.3 4h-14.2v-516zM578.5 130.4l-2.4 0.8l-4 1.9l-2.3 1.3l-1.7 1.4l-2.8 2.6l-1.2 2.2l-0.9 1.8v4l0.9 1.5l1.6 2.5l2.4 2l2.7 2l1.3 0.7l4 2.1l2.4 1.2l1.6 0.6l8.5 3.4l3.5 1.2l4 1.3l4 1.2l1.3 0.3l2.7 0.6l4 0.7l4 0.5l4 0.1l4-0.3l4-0.7l3.8-0.9l0.2-0.1l4-1.5l4-1.9l0.9-0.5l3.1-2.3l1.9-1.7l2.1-3.8l0.1-0.2l-0.4-4l-3.1-4l-0.6-0.4l-4-2.7l-1.5-0.9l-2.5-1.2l-4-1.7l-2.6-1.1l-1.4-0.5l-8-2.6l-2.8-0.9l-1.2-0.3l-4-1.1l-8-2l-2.9-0.6l-1.1-0.2l-4-0.6l-4-0.2l-4 0.1l-4 0.5z"/>
<path fill="#ffc600" d="M676.1 50.4v168.5l-4 1.1l-4 1.4l-3.6 1l-0.4 0.1l-4 0.7l-4 0.4l-4 0.1l-4-0.1l-4-0.2l-8-0.2l-4 0.1l-4 0.4l-4 0.8l-4 1.3l-1.1 0.6l-2.9 1.6l-3.3 2.4l-0.7 0.6l-3.6 3.4l-0.4 0.5l-3.1 3.5l-3.6 4l-1.3 1.4l-2.6 2.6l-1.4 1.3l-3.4 2.7l-0.6 0.4l-4 2.5l-2.1 1.1l-1.9 0.9l-4 1.7l-3.9 1.4h-0.1l-4 1.3l-4 0.9l-4 0.8l-4 0.5l-4 0.2l-4-0.2l-4-0.5l-4-1l-4-1.4l-1.2-0.6l-2.8-1.2l-4-2.2l-0.9-0.6l-3.1-1.7l-3.5-2.3l-4.5-2.7l-2.2-1.3l-1.8-1l-4-2l-2.5-1l-1.5-0.5l-4-1.1l-4-0.6l-4-0.1l-4 0.4l-4 0.7l-4 1.1l-0.4 0.1l-3.6 1.3l-4 1.6l-2.5 1.1l-1.5 0.7l-4 1.9l-3.1 1.4l-0.9 0.5l-7 3.5l-5 3l-1.6 1l-2.4 1.9l-2.4 2.1l-1.6 2l-1.5 2l-1.9 4l-0.6 1.8l-0.6 2.2l-0.6 4l-0.2 4l0.1 4l0.3 4l0.5 4l0.5 2.9l0.2 1.1l0.9 4l2 8l0.9 3.9v0.1l0.7 4l0.1 4l-0.8 2.7l-0.6 1.3l-3.4 2.2l-4 1.1l-4 0.6l-0.9 0.1l-3.1 0.3l-4 0.5l-4 0.6l-4 0.7l-4 0.9l-3.9 1h-0.1l-4 1.2l-4 1.4l-3.9 1.4h-0.1l-8 2.8l-3.4 1.2l-0.6 0.2l-4 1.3l-4 1.2l-4 1.1l-0.9 0.2l-3.1 0.8l-12 3l-0.7 0.2l-3.3 0.9l-4 1.3l-4 1.5l-0.6 0.3l-3.4 1.5l-4 2.2l-0.5 0.3l-3.5 2.3l-2.4 1.7l-1.6 1.3l-3.1 2.7l-0.9 0.9l-2.9 3.1l-1.1 1.4l-2.1 2.6l-1.9 2.9l-0.7 1.1l-2.4 4l-0.9 1.8l-1.2 2.2l-2 4l-0.8 1.8l-1.1 2.2l-2.1 4l-0.8 1.6l-1.4 2.4l-2.5 4l-0.1 0.1l-2.9 3.9l-1.1 1.4l-2.3 2.6l-1.7 1.8l-2.2 2.2l-1.8 1.7l-2.6 2.3l-1.4 1.2l-4 3.2l-4 2.9l-0.9 0.7l-3.1 2.1l-2.7 1.9l-1.3 0.9l-4 2.8l-4 3l-1.7 1.3l-2.3 1.8l-2.6 2.2l-1.4 1.1l-3.4 2.9l-0.6 0.5l-4 3.4l-0.1 0.1l-3.9 3.1l-1.3 0.9l-2.7 2l-4 2.5l-4 2.1l-3.1 1.4l-0.9 0.4l-4 1.4l-4 1.2l-4 1h-0.1l-3.9 0.9l-4 1l-4 0.9l-4 1.1l-0.3 0.1l-3.7 1.2l-4 1.4l-3.4 1.4l-0.6 0.2l-4 2.1l-3 1.7l-1 0.6l-4 2.8l-0.7 0.6l-3.3 2.9l-1.1 1.1l-2.9 3l-4 5l-2.6 4l-1.4 2.2l-1 1.8l-2.2 4l-0.8 1.5l-1.2 2.5l-2 4l-0.8 1.8l-1 2.2l-1.8 4l-1.2 2.6l-0.7 1.4l-1.8 4l-1.5 3.3l-0.3 0.7l-1.9 4l-1.7 4l-0.1 0.2l-1.5 3.8l-1.2 4l-1 4l-0.3 2.6l-0.2 1.4l-0.2 4h-11.6v-516zM574.7 126.4l-2.6 0.9l-4 1.7l-2.8 1.4l-1.2 0.8l-4 2.8l-0.6 0.4l-4 4l-2.1 4l-0.1 4l2 4l0.8 0.7l3.5 3.3l4.5 2.7l2.3 1.3l1.7 0.7l4 1.8l3.8 1.5l0.2 0.1l8 2.8l3.1 1.1l0.9 0.3l4 1.3l4 1.2l4 1.1l0.4 0.1l3.6 0.8l4 0.7l4 0.5l4 0.1l4-0.2l4-0.6l4-0.9l1.3-0.4l2.7-0.9l4-1.5l3.6-1.6l0.4-0.2l4-2.4l2.1-1.4l1.9-1.9l2-2.1l1.6-4l-0.7-4l-2.9-3.8l-0.1-0.2l-3.9-2.8l-1.7-1.2l-2.3-1.1l-4-1.9l-2.1-1l-1.9-0.7l-8-3l-0.9-0.3l-3.1-1l-8-2.6l-1.4-0.4l-2.6-0.8l-8-2.2l-4-1l-4-0.7l-4-0.5l-4-0.1l-4 0.2l-4 0.7zM588.1 337.8l4-0.9l4-0.3h4l4 0.3l4 0.5l4 0.6l3 0.4l1 0.1l8 1l4 0.4l4 0.3l4 0.4l12 0.9l4 0.2l8 0.6l2.1 0.1l1.9 0.1l4 0.3l4 0.2l4 0.1v60.2l-4 0.6l-4 0.9l-4 1l-2.3 0.6l-1.7 0.4l-4 0.7l-4 0.8l-4 0.6l-8 1l-4 0.3l-2.8 0.2l-1.2 0.1h-8l-1.2-0.1l-2.8-0.2l-4-0.4l-4-0.6l-4-0.8l-4-0.9l-4-1.1h-0.2l-3.8-1.3l-4-1.3l-4-1.4h-0.1l-3.9-1.4l-4-1.3l-4-1.1l-0.8-0.2l-3.2-0.7l-4-0.8l-4-0.5l-4-0.4l-8-0.6l-4-0.1l-4-0.2l-4-0.1l-4-0.2l-4-0.3l-1.6-0.1l-2.4-0.2l-4-0.4l-4-0.5l-4-0.7l-4-0.8l-4-1l-1.2-0.4l-2.8-0.9l-4-1.4l-4-1.7l-4-1.9l-3.9-2.1l-0.1-0.1l-4-2.4l-2.2-1.5l-1.8-1.3l-3.5-2.7l-0.5-0.5l-3.6-3.5l-0.4-0.4l-2.9-3.6l-1.1-1.7l-1.5-2.3l-1.9-4l-0.6-1.9l-0.7-2.1l-0.6-4l0.9-4l0.4-0.6l4-1.8l4-0.1l4 0.6l4 0.8l4 0.9l0.7 0.2l3.3 0.9l8 1.8l4 0.7l3.5 0.6l0.5 0.1l4 0.6l4 0.4l4 0.3l4 0.2l4 0.1h4l4-0.1l8-0.4l8-0.8l2.4-0.4l1.6-0.2l4-0.7l4-0.9l4-1.1l3.1-1.1l0.9-0.3l4-1.6l4-1.8l0.8-0.3l3.2-1.5l4-1.7l2.3-0.8z"/>
<path fill="#ffb900" d="M676.1 50.4v163.2l-2.4 0.8l-1.6 0.5l-4 1.7l-4 1.3l-2.3 0.5l-1.7 0.4l-4 0.4l-4 0.1l-4-0.1l-4-0.2l-4-0.3l-4-0.2h-4l-4 0.1l-4 0.6l-4 1.1l-4 1.8l-0.5 0.3l-3.5 2.3l-2 1.7l-2 1.8l-2 2.2l-2 2.1l-1.6 1.9l-2.4 2.9l-0.9 1.1l-3.1 3.4l-0.6 0.6l-3.4 3.2l-0.9 0.8l-3.1 2.3l-2.7 1.7l-1.3 0.7l-4 2l-3.2 1.3l-0.8 0.3l-4 1.3l-4 1l-4 0.7l-4 0.5l-4 0.2l-4-0.2l-4-0.6l-4-1l-4-1.4l-1.6-0.8l-2.4-1l-4-2.1l-1.6-0.9l-2.4-1.3l-4.5-2.7l-7-4l-0.5-0.3l-4-1.8l-4-1.5l-1.7-0.4l-2.3-0.5l-4-0.5h-4l-4 0.4l-4 0.8l-4 1.2l-4 1.5l-2.6 1.1l-1.4 0.6l-4 1.8l-3.3 1.6l-0.7 0.3l-4 2l-3.6 1.7l-0.4 0.2l-4 2.1l-3.3 1.7l-0.7 0.4l-4 2.6l-1.6 1l-2.4 2.1l-1.9 1.9l-2.1 2.9l-0.7 1.1l-1.7 4l-1.1 4l-0.5 3.3l-0.1 0.7l-0.2 4l-0.1 4l0.2 4l0.2 3.6v0.4l0.4 4l0.5 4l0.4 4l0.2 4l-0.2 4l-1 4l-0.3 0.4l-2.9 3.6l-1.1 0.7l-4 2l-3.4 1.3l-0.6 0.2l-8 2.2l-4 1.3l-4 1.2l-8 3l-0.2 0.1l-3.8 1.4l-4 1.6l-2.6 1l-1.4 0.5l-4 1.4l-4 1.3l-2.5 0.8l-1.5 0.4l-4 1.1l-4 1l-4 0.8l-3.1 0.7l-0.9 0.2l-4 0.8l-4 0.9l-4 1l-3.9 1.1h-0.1l-4 1.4l-4 1.7l-4 2l-4 2.5l-0.6 0.4l-3.4 2.5l-1.8 1.5l-2.2 2l-2 2l-2 2.3l-1.4 1.7l-2.6 3.7l-0.2 0.3l-2.4 4l-1.4 2.6l-0.8 1.4l-4 8l-2.1 4l-1.1 2l-1.2 2l-2.7 4l-0.1 0.2l-3 3.8l-1 1.1l-2.7 2.9l-1.3 1.4l-2.8 2.6l-1.2 1.1l-3.3 2.9l-0.7 0.6l-4 3.3l-0.1 0.1l-3.9 3.1l-4 3l-2.4 1.9l-1.6 1.1l-3.7 2.9l-0.3 0.2l-4 3.2l-0.8 0.6l-3.2 2.7l-1.5 1.3l-2.5 2.1l-2.2 1.9l-1.8 1.6l-2.8 2.4l-1.2 1l-3.9 3l-0.1 0.1l-4 2.8l-1.8 1.1l-2.2 1.3l-5.4 2.7l-2.6 1.1l-4 1.5l-4 1.3l-0.3 0.1l-3.7 1.2l-4 1.1l-4 1.2l-1.5 0.5l-2.5 0.8l-4 1.4l-4.8 1.8l-3.2 1.4l-4 2l-4 2.4l-3.2 2.2l-0.8 0.6l-4 3.3l-0.2 0.1l-4 4l-3.3 4l-0.5 0.6l-2.4 3.4l-1.6 2.3l-1.1 1.7l-2.3 4l-0.6 1l-1.6 3l-2.1 4l-0.3 0.7l-1.6 3.3l-2 4l-0.4 0.9l-1.5 3.1l-1.9 4l-2 4l-1.9 4l-2 4l-1.8 4l-0.9 2.5l-0.6 1.5l-1.2 4l-0.7 4l-0.4 4l-0.1 4h-9v-516zM573.6 122.4l-1.5 0.4l-4 1.4l-4 1.6l-1.2 0.6l-2.8 1.5l-4 2.4l-0.2 0.1l-3.8 2.8l-1.7 1.2l-4 4l-2.1 4l-0.2 4l2 4l2 2.1l1.9 1.9l2.1 1.5l3.8 2.5l0.2 0.1l4 2.1l3.9 1.8h0.1l4 1.6l4 1.5l2.6 0.9l1.4 0.5l8 2.6l2.8 0.9l1.2 0.4l4 1.3l4 1.2l4 1.1h0.2l3.8 0.9l4 0.8l4 0.4l4 0.2l4-0.2l4-0.6l4-0.9l2.1-0.6l1.9-0.5l4-1.4l4-1.6l1.2-0.5l2.8-1.3l4-2.1l1.1-0.6l2.9-2l2.6-2l1.4-1.7l1.8-2.3l0.9-4l-0.9-4l-1.8-2.3l-1.3-1.7l-2.7-2.1l-2.6-1.9l-1.4-0.7l-4-2.1l-2.5-1.2l-5.5-2.2l-4-1.5l-0.7-0.3l-3.3-1.1l-8-2.8l-0.4-0.1l-3.6-1.2l-8-2.6l-0.6-0.2l-3.4-1l-4-1.2l-4-1.1l-2.9-0.7l-1.1-0.2l-4-0.6l-4-0.3l-4 0.1l-4 0.5zM584.1 342.4l4-1.3l4-0.9l4-0.4l4-0.1l4 0.2l4 0.3l8 0.8l4 0.5l4 0.3l4 0.4l2.1 0.2l1.9 0.2l4 0.3l4 0.4l4 0.3l8 0.8l4 0.3l12 1.2l4 0.3l4 0.1v54.5l-4 0.7l-3.5 0.9l-0.5 0.1l-12 3l-4 0.8l-0.3 0.1l-3.7 0.6l-8 1l-4 0.3l-4 0.2h-4l-4-0.1l-4-0.3l-4-0.5l-4-0.6l-2.8-0.6l-1.2-0.3l-4-1.2l-4-1.3l-3.5-1.2l-12.5-5l-4-1.4l-4-1.2l-1.7-0.4l-2.3-0.5l-4-0.7l-4-0.5l-4-0.4l-4-0.2l-4-0.1l-4-0.2l-8-0.2l-8-0.4l-4-0.3l-4-0.5h-0.2l-3.8-0.5l-4-0.8l-4-0.9l-4-1.1l-2.2-0.7l-1.8-0.6l-4-1.6l-4-1.8l-4-2.1l-3.3-1.9l-0.7-0.5l-4-2.7l-1-0.8l-3-2.6l-1.6-1.4l-2.4-2.8l-1-1.2l-2.3-4l-0.7-2.2l-0.6-1.8l0.3-4l0.3-0.4l4-3.2l2.4-0.4l1.6-0.2l4 0.2h0.2l3.8 0.5l4 0.5l8 1.2l8 0.8l4 0.3l4 0.2l4 0.1h4l12-0.3l8-0.6l4-0.4l4-0.5l4-0.6l4-0.9l1.3-0.3l2.7-0.6l4-1.2l4-1.4l2.1-0.8l1.9-0.8z"/>
<path fill="#ffac00" d="M676.1 50.4v157.4l-4 1.6l-1.7 1l-2.3 1.1l-4 1.7l-4 1l-1.4 0.2l-2.6 0.3l-4 0.2l-4-0.1l-4-0.3l-8-0.8l-4-0.3h-4l-4 0.3l-3 0.7l-1 0.2l-4 1.6l-3.7 2.2l-0.3 0.2l-4 3.2l-0.5 0.6l-3.5 3.6l-0.4 0.4l-3.3 4l-0.3 0.3l-2.9 3.7l-1.1 1.3l-2.3 2.7l-1.7 1.8l-2.2 2.2l-1.8 1.6l-3.2 2.4l-0.8 0.5l-4 2.3l-2.5 1.2l-1.5 0.7l-4 1.4l-4 1.1l-4 0.7l-0.5 0.1l-3.5 0.4l-4 0.2l-4-0.2l-2.4-0.4l-1.6-0.2l-4-1l-4-1.4l-3.2-1.4l-0.8-0.3l-4-2l-3.1-1.7l-0.9-0.5l-4-2.3l-2-1.2l-2-1.1l-4-2.1l-1.6-0.8l-2.4-1l-4-1.4l-4-0.9l-4-0.4l-4 0.1l-4 0.5l-4 0.9l-4 1.2l-2.6 1l-1.4 0.5l-4 1.8l-3.5 1.7l-0.5 0.3l-4 2l-3.6 1.7l-4.4 2.2l-3.7 1.8l-0.3 0.1l-4 2.2l-3.3 1.7l-0.7 0.4l-4 2.7l-1.2 0.9l-2.8 2.7l-1.2 1.3l-2.6 4l-0.2 0.6l-1.3 3.4l-0.9 4l-0.6 4l-0.3 4l-0.2 4v4l0.1 4v8l-0.2 4l-0.5 4l-0.1 0.3l-1.3 3.7l-2.7 3.8l-0.2 0.2l-3.8 2.8l-2 1.2l-2 0.9l-4 1.7l-4 1.6l-4 1.5l-4 1.7l-1.3 0.6l-2.7 1.1l-4 1.7l-2.7 1.2l-1.3 0.5l-4 1.6l-4 1.5l-1.2 0.4l-2.8 0.9l-4 1.2l-4 1.1l-3.5 0.8l-4.5 0.9l-4 0.6l-4 0.7l-4 0.6l-4 0.7l-2.6 0.5l-1.4 0.3l-4 0.9l-4 1.2l-4 1.6h-0.1l-3.9 1.8l-3.8 2.2l-0.2 0.1l-4 2.7l-1.6 1.2l-2.4 2.1l-2.1 1.9l-1.9 2.1l-1.6 1.9l-2.4 3.3l-0.5 0.7l-2.5 4l-1 1.9l-1.2 2.1l-2.8 5.6l-1.3 2.4l-2.1 4l-0.6 1l-1.9 3l-2.1 3.2l-0.6 0.8l-3.3 4l-0.1 0.1l-3.7 3.9l-0.3 0.3l-3.8 3.7l-0.2 0.1l-4 3.7l-0.2 0.2l-3.8 3.3l-0.7 0.7l-3.3 2.8l-1.3 1.2l-2.7 2.2l-2 1.8l-2 1.6l-2.9 2.4l-1.1 0.9l-3.6 3.1l-0.4 0.3l-4 3.5l-0.2 0.2l-3.8 3.4l-0.7 0.6l-3.3 2.9l-1.2 1.1l-2.8 2.3l-2.1 1.7l-1.9 1.4l-3.7 2.6l-0.3 0.2l-4 2.4l-2.7 1.4l-1.3 0.6l-4 1.8l-3.9 1.6h-0.1l-8 3l-3 1l-1 0.3l-8 3l-1.8 0.7l-2.2 0.9l-4 1.8l-2.5 1.3l-1.5 0.8l-4 2.3l-1.3 0.9l-2.7 1.9l-2.6 2.1l-1.4 1.1l-3.1 2.9l-0.9 0.9l-2.8 3.1l-1.2 1.4l-2 2.6l-2 2.8l-0.8 1.2l-2.6 4l-0.6 1.1l-1.7 2.9l-2.2 4l-0.1 0.2l-2 3.8l-2 3.9v0.1l-2.1 4l-2 4l-2.1 4l-1.8 3.5l-0.3 0.5l-2.1 4l-1.6 3.1l-0.5 0.9l-1.9 4l-1.5 4l-0.1 0.3l-1.2 3.7l-0.6 4l-0.2 8h-6v-516zM574.9 118.4l-2.8 0.6l-4 1.1l-4 1.4l-2.1 0.9l-1.9 0.9l-6.2 3.1l-1.8 1.1l-4 2.3l-1 0.6l-3 2.2l-2.6 1.8l-1.4 1.4l-2.5 2.6l-2 4l0.1 4l0.4 0.7l1.7 3.3l2.3 2.4l1.5 1.6l2.5 1.9l2.8 2.1l1.2 0.7l4 2.3l1.8 1l2.2 1l4 1.8l2.9 1.2l1.1 0.4l8 2.8l2.4 0.8l1.6 0.5l8 2.6l2.8 0.9l1.2 0.4l4 1.3l4 1.2l3.7 1.1l0.3 0.1l4 1.1l4 0.8l4 0.6l4 0.2l4-0.2l4-0.6l4-0.9l3.5-1.1l0.5-0.1l4-1.4l4-1.5l2.6-1l1.4-0.6l4-1.7l3.8-1.7l0.2-0.1l4-2.1l3.1-1.8l0.9-0.7l3.7-3.3l0.3-0.4l2-3.6l0.2-4l-1.5-4l-0.7-0.8l-2.5-3.2l-1.5-1.1l-3.7-2.9l-0.3-0.1l-4-2.2l-3.3-1.7l-0.7-0.3l-8-3.2l-1.3-0.5l-2.7-1l-4-1.3l-4-1.5l-0.7-0.2l-3.3-1.1l-8-2.8l-0.4-0.1l-3.6-1.2l-8-2.8l-4-1.3l-4-1.1l-4-1l-3.1-0.6l-0.9-0.2l-4-0.4h-4l-4 0.4zM584.1 345.8l4-1.3l4-0.9l4-0.6l4-0.2h4l4 0.2l12 0.9l4 0.4l4 0.3l4 0.4l4 0.3l8 0.8l2.7 0.3l1.3 0.2l4 0.4l4 0.5l4 0.6l8 1l4 0.4l4 0.3v48.2l-1.9 0.4l-2.1 0.3l-4 1.1l-8 2.4l-0.6 0.2l-3.4 0.8l-8 1.6l-4 0.6l-4 0.5l-4 0.4l-2.4 0.1l-1.6 0.1h-4l-2.4-0.1l-1.6-0.1l-4-0.4l-4-0.6l-4-0.8l-4-1.1l-3.3-1l-0.7-0.2l-4-1.6l-4-1.7l-1.2-0.5l-2.8-1.3l-4-1.9l-2-0.8l-2-0.9l-4-1.5l-4-1.2l-1.9-0.4l-2.1-0.5l-4-0.6l-4-0.4l-4-0.3l-8-0.2h-4l-8-0.2l-8-0.4l-4-0.4l-4-0.5l-3.6-0.5l-0.4-0.1l-4-0.8l-4-1.1l-4-1.2l-2.3-0.8l-1.7-0.7l-4-1.8l-3.1-1.5l-0.9-0.5l-4-2.5l-1.5-1l-2.5-2l-2.4-2l-1.6-1.9l-1.7-2.1l-1.9-4l0.8-4l2.8-1.8l4-0.9l4-0.2l4 0.1l8 0.4l4 0.1l4 0.2h8l12-0.3l4-0.3l4-0.2l4-0.3l4-0.4l2.9-0.4l1.1-0.1l4-0.5l4-0.6l4-0.8l4-1.1l2.9-0.9l1.1-0.3l4-1.4l4-1.5l2.2-0.8z"/>
<path fill="#ff9f00" d="M676.1 50.4v102.9l-2.9-2.9l-1.1-0.6l-3.4-3.4l-0.6-0.4l-4.8-3.6l-3.2-1.8l-4-2.1l-0.2-0.1l-3.8-1.6l-6-2.4l-10-3.5l-1.4-0.5l-2.6-0.8l-8-2.8l-1.2-0.4l-2.8-1l-4-1.4l-4-1.5l-0.4-0.1l-3.6-1.3l-4-1.5l-3.5-1.2l-0.5-0.2l-4-1.2l-4-1l-4-0.8l-4-0.5l-4-0.1l-4 0.3l-4 0.6l-4 1l-4 1.2l-1.8 0.7l-2.2 0.9l-4 1.8l-2.9 1.3l-1.1 0.5l-4 2.1l-2.8 1.4l-1.2 0.7l-4 2.3l-1.8 1l-5.5 4l-3.5 4l-1.2 2.9l-0.4 1.1l0.4 4v0.1l2.1 3.9l3.8 4l2.1 1.6l3 2.4l1 0.6l4 2.6l1.3 0.8l2.7 1.4l4 2.1l1.1 0.5l2.9 1.3l4 1.6l2.9 1.1l1.1 0.4l4 1.4l4 1.3l2.8 0.9l1.2 0.4l8 2.6l2.8 1l1.2 0.4l4 1.5l4 1.4l2.3 0.7l1.7 0.6l4 1.4l4 1.1l4 0.7l2.1 0.2l1.9 0.2l4-0.1l0.4-0.1l3.6-0.5l4-1.1l4-1.4l2.4-1l5.6-2.1l4-1.6l0.7-0.3l3.3-1.3l12-4.5l4-1.4l2.4-0.8l1.6-0.7l4-1.7l4-1.5v34.2l-2.8 1.7l-1.2 0.6l-4 2.8l-1 0.6l-3 1.5l-4 1.3l-4 0.7l-4 0.2l-4-0.2l-4-0.4l-12-1.8l-4-0.4l-4-0.1l-4 0.6l-4 1.4l-1.8 1.2l-2.2 1.2l-3.3 2.8l-0.7 0.6l-3.3 3.4l-0.7 0.7l-2.7 3.3l-1.3 1.6l-1.8 2.4l-2.2 2.9l-0.8 1.1l-3.1 4l-0.1 0.1l-3.4 3.9l-0.6 0.6l-3.8 3.4l-0.2 0.2l-4 2.7l-1.9 1.1l-2.1 1.1l-4 1.6l-4 1.2l-0.4 0.1l-3.6 0.8l-4 0.5l-4 0.2l-4-0.2l-4-0.6l-2.9-0.7l-1.1-0.3l-4-1.3l-4-1.7l-1.4-0.7l-2.6-1.2l-4-2.2l-1-0.6l-3-1.7l-3.9-2.3h-0.1l-4-2.1l-4-1.8l-0.4-0.1l-3.6-1.2l-4-0.7l-4-0.4l-4 0.1l-4 0.6l-4 0.9l-2.1 0.7l-1.9 0.6l-4 1.7l-3.7 1.7l-0.3 0.1l-4 2.1l-4 2l-4 2.1l-3.5 1.7l-0.5 0.2l-4 2l-3.7 1.8l-0.3 0.2l-4 2.1l-3.1 1.7l-0.9 0.6l-4 2.9l-0.7 0.5l-3.3 3.6l-0.3 0.4l-2.3 4l-1.4 3.9v0.1l-0.9 4l-0.6 4l-0.6 8l-0.1 4l-0.2 4l-0.3 4l-0.4 4l-0.7 4l-0.2 0.6l-1.2 3.4l-2.5 4l-0.3 0.4l-4 3.5l-0.1 0.1l-3.9 2.4l-3 1.6l-1 0.5l-4 1.9l-3.3 1.6l-0.7 0.3l-4 1.9l-3.8 1.8l-0.2 0.1l-4 1.8l-4 1.7l-0.9 0.4l-3.1 1.2l-4 1.4l-4 1.2l-0.7 0.2l-3.3 0.8l-4 0.9l-8 1.2l-8 0.8l-3.7 0.3h-0.3l-4 0.4l-4 0.5l-4 0.7l-4 1l-4 1.3l-0.3 0.1l-3.7 1.5l-4 2.1l-0.7 0.4l-3.3 2l-2.8 2l-1.2 1l-3.5 3l-0.5 0.5l-3.1 3.5l-0.9 1.1l-2.1 2.9l-1.9 3.2l-0.5 0.8l-2.2 4l-1.3 2.7l-0.7 1.3l-2.1 4l-1.2 2.3l-1 1.7l-3 4.8l-2.4 3.2l-1.6 2l-1.7 2l-2.3 2.5l-1.4 1.5l-10.6 10.6l-1.3 1.4l-2.7 2.6l-1.4 1.4l-2.6 2.5l-1.6 1.5l-2.4 2.2l-4 3.6l-2.4 2.2l-1.6 1.4l-2.8 2.6l-1.2 1.1l-3.2 2.9l-0.8 0.8l-3.5 3.2l-0.5 0.4l-4 3.5l-0.1 0.1l-5.2 4l-2.7 1.8l-3.6 2.2l-0.4 0.2l-4 2.2l-3.4 1.6l-0.6 0.3l-8 3.4l-0.8 0.3l-3.2 1.3l-4 1.6l-2.7 1.1l-1.3 0.5l-4 1.8l-3.7 1.7l-0.3 0.1l-4 2.1l-4 2.4l-4 2.7l-0.9 0.7l-3.1 2.5l-1.6 1.5l-2.4 2.2l-1.7 1.8l-2.3 2.5l-1.2 1.5l-2.8 3.6l-0.3 0.4l-2.7 4l-1 1.5l-3.9 6.5l-0.1 0.2l-2.1 3.8l-1.9 3.5l-0.3 0.5l-2.1 4l-1.6 3l-0.5 1l-2.2 4l-1.3 2.4l-1 1.6l-2.3 4l-0.7 1.3l-1.7 2.7l-2.3 3.9l-0.1 0.1l-2.5 4l-1.4 3.1l-0.7 0.9l-1.8 4l-0.5 4l0.3 4l0.2 4h-1.5v-516zM600.1 346l4-0.1h4l4 0.1l8 0.4l8 0.6l8 0.8l4 0.5l4 0.4l4 0.6l4 0.5l3.8 0.6h0.2l4 0.7l4 0.8l4 0.7l4 0.6l4 0.4v41.2l-4 0.7l-4 1.3l-4 1.5l-0.4 0.1l-3.6 1.1l-4 1.1l-4 1l-3.8 0.8h-0.2l-4 0.7l-8 0.8l-4 0.2h-4l-4-0.2l-4-0.5l-4-0.6l-4-1l-4-1.3l-4-1.5l-1.5-0.6l-2.5-1.2l-4-1.9l-1.8-0.9l-2.2-1.2l-4-2l-1.7-0.8l-2.3-1.2l-4-1.6l-4-1.1l-0.4-0.1l-3.6-0.8l-4-0.5l-4-0.3l-4-0.1h-16l-4-0.1l-4-0.2l-4-0.3l-4-0.4l-4-0.5l-4-0.7l-0.3-0.1l-3.7-1l-4-1.2l-4.8-1.8l-3.2-1.6l-4-2.2l-0.3-0.2l-3.7-2.9l-1.3-1.1l-2.7-3.8l-0.2-0.2l0.2-1.2l0.6-2.8l3.4-1.4l4-0.8l4-0.4l4-0.3l4-0.1l4-0.2l4-0.3l4-0.2l4-0.3h0.7l3.3-0.2l8-0.4l12-0.9l4-0.4l4-0.6l4-0.7l3.6-0.8l0.4-0.1l4-0.9l4-1.2l4-1.4l1.1-0.4l2.9-1l4-1.2l4-1l4-0.8h0.3z"/>
<path fill="#ff9300" d="M676.1 50.4v94.2l-4-1.6l-0.9-0.6l-3.1-1.5l-4-2.1l-0.8-0.4l-3.2-1.3l-4-1.7l-2.6-1l-1.4-0.5l-4-1.3l-4-1.4l-2.3-0.8l-1.7-0.5l-4-1.3l-4-1.4l-2.3-0.8l-1.7-0.6l-4-1.3l-12-4.5l-4-1.6l-8-3l-3.2-1l-0.8-0.3l-4-1.1l-4-0.8l-4-0.5l-4-0.1l-4 0.2l-4 0.5l-4 0.9l-4 1.1l-0.4 0.1l-3.6 1.3l-4 1.6l-2.7 1.1l-1.3 0.6l-4 1.9l-3.4 1.5l-4.6 2.3l-3.5 1.7l-0.5 0.3l-4 2.3l-2.4 1.4l-1.6 1.3l-3.3 2.7l-0.7 0.8l-2.3 3.2l-1.2 4l0.5 4l2.2 4l0.8 0.8l3 3.2l5 4l4 2.7l2 1.3l2 1.2l4 2.3l0.9 0.5l3.1 1.6l4 1.9l1.2 0.5l2.8 1.2l4 1.5l3.5 1.3l0.5 0.2l4 1.4l4 1.3l3.2 1.1l0.8 0.3l4 1.4l4 1.5l2.2 0.8l1.8 0.8l4 1.7l3.6 1.5l0.4 0.2l4 2.1l3.5 1.7l0.5 0.4l4 2.7l1.6 0.9l1.9 4l-1.4 4l-2.1 2.7l-0.7 1.3l-3 4l-0.3 0.3l-2.6 3.7l-1.4 1.9l-1.3 2.1l-2.7 3.9l-0.1 0.1l-2.6 4l-1.3 1.8l-1.5 2.2l-2.5 3.2l-0.7 0.8l-3.3 3.5l-0.5 0.5l-3.5 2.9l-1.6 1.1l-2.4 1.5l-4 1.9l-1.7 0.6l-2.3 0.8l-4 1l-4 0.6l-4 0.2l-4-0.1l-4-0.6l-4-0.9l-2.8-1l-1.2-0.4l-4-1.7l-3.9-1.9l-0.1-0.1l-4-2.2l-3-1.7l-1-0.6l-4-2.3l-2.1-1.1l-1.9-1l-4-1.6l-4-1.2l-0.9-0.2l-3.1-0.6l-4-0.2l-4 0.1l-4 0.6l-0.3 0.1l-3.7 0.9l-4 1.4l-4 1.7l-4 2l-3.8 2l-0.2 0.1l-4 2.1l-3.3 1.8l-0.7 0.4l-4 2l-3.3 1.6l-0.7 0.4l-4 1.9l-3.6 1.7l-0.4 0.2l-4 2.2l-2.8 1.6l-1.2 0.8l-4 3.2l-3.3 4l-0.7 1.2l-1.4 2.8l-1.3 4l-0.8 4l-0.5 3.4l-0.1 0.6l-0.4 4l-0.3 4l-0.8 8l-0.5 4l-0.9 4l-1 3.3l-0.3 0.7l-2.1 4l-1.6 2l-1.9 2l-2.1 1.7l-3.2 2.3l-0.8 0.5l-4 2.3l-2.1 1.2l-1.9 1l-4 2.1l-1.6 0.9l-6.4 3.2l-1.7 0.8l-2.3 1l-4 1.6l-3.6 1.4l-0.4 0.1l-4 1.3l-4 1l-4 0.7l-4 0.6l-4 0.4l-4 0.2l-4 0.1h-4l-4-0.1h-4l-4 0.1l-4 0.4l-4 0.6l-4 1.1l-4 1.5l-4 1.8l-4 2.1l-0.1 0.1l-3.9 2.4l-2.2 1.6l-1.8 1.4l-2.8 2.6l-1.2 1.2l-2.4 2.8l-1.6 2.3l-1.1 1.7l-2.3 4l-2 4l-1.9 4l-0.7 1.3l-1.4 2.7l-2.2 4l-0.4 0.7l-2.1 3.3l-1.9 2.7l-0.9 1.3l-3.1 3.9l-0.1 0.1l-3.4 4l-0.5 0.6l-3 3.4l-1 1.1l-2.4 2.9l-1.6 1.8l-1.9 2.2l-3.5 4l-2.6 2.7l-1.2 1.3l-2.8 2.8l-1.1 1.2l-2.9 2.7l-1.3 1.3l-2.7 2.6l-1.5 1.4l-2.5 2.4l-1.6 1.6l-2.4 2.3l-1.8 1.7l-2.2 2.1l-2.1 1.9l-1.9 1.7l-2.8 2.3l-1.2 0.9l-4 2.9l-0.3 0.2l-3.7 2.3l-3 1.7l-8 4l-1 0.4l-4 1.9l-3.9 1.7h-0.1l-8 3.6l-0.7 0.4l-3.3 1.6l-4 2.2l-0.4 0.2l-3.6 2.2l-2.7 1.8l-1.3 0.9l-4 3.1l-4 3.6l-0.4 0.4l-3.6 3.8l-0.2 0.2l-3.3 4l-0.5 0.7l-2.4 3.3l-1.6 2.3l-1.1 1.7l-2.6 4l-0.3 0.6l-2 3.4l-2 3.5l-0.3 0.5l-2.2 4l-1.5 2.7l-0.8 1.3l-2.2 4l-1 1.7l-1.4 2.3l-2.5 4l-0.1 0.2l-2.7 3.8l-1.3 2.1l-1.8 1.9l-2.2 2.8l-2 1.2l-2 1.6v-493.6zM652.1 181.5l4-1.1l4-0.8l4-0.2l4 0.9l3.2 2.1l0.8 1.4l1.4 2.6l-0.5 4l-0.9 1.4l-1.2 2.6l-2.8 3.6l-0.3 0.4l-3.7 2.9l-2 1.1l-2 0.8l-4 0.9l-4 0.2l-4-0.3l-4-0.7l-3.7-0.9l-0.3-0.1l-4-1.9l-4-2v-0.1l-1.8-3.9l1.8-1.8l1.7-2.2l2.3-1.3l4-2.6l0.1-0.1l3.9-1.7l4-1.8l1.2-0.5zM596.1 350.2l4-0.7l4-0.4l4-0.2h8l8 0.4l8 0.6l4 0.5h0.4l3.6 0.5l8 1.2l4 0.8l4 0.7l3.6 0.8l8.4 2.1l4 0.9l4 0.6v32.8l-4 0.9l-4 1.6l-2.5 1.1l-1.5 0.5l-8 2.8l-2.5 0.7l-1.5 0.4l-4 0.9l-4 0.7l-4 0.6l-4 0.3l-4 0.2h-4l-4-0.3l-4-0.5l-4-0.9l-4-1.1l-1.1-0.3l-2.9-1.1l-4-1.8l-2.3-1.1l-1.7-0.9l-4-2.3l-1.5-0.8l-2.5-1.6l-4-2.3l-0.2-0.1l-3.8-2.1l-4-1.7l-0.7-0.2l-3.3-1.1l-4-0.8l-4-0.4h-8l-8 0.4l-4 0.1h-4l-4-0.1l-4-0.2l-4-0.4l-4-0.5l-4-0.7l-1.3-0.3l-2.7-0.8l-4-1.5l-4-1.7l-5-4l-0.1-4l1.1-0.5l4-1.5l4-1l4-0.8l0.9-0.2l3.1-0.3l4-0.4l16-1.2l4-0.2l8-0.6l4-0.4l4-0.5l2.1-0.4l1.9-0.3l4-0.7l4-1l4-1.3l1.8-0.7l2.2-0.7l8-2.6l2.9-0.7z"/>
<path fill="#ff8600" d="M676.1 50.4v89l-3.8-1l-0.2-0.1l-4-1.4l-4-1.5l-2.6-1l-1.4-0.5l-8-2.6l-2.8-0.9l-1.2-0.4l-4-1.2l-4-1.3l-3.5-1.1l-0.5-0.2l-8-2.6l-12-4.5l-1.6-0.7l-2.4-1l-8-3.2l-4-1.5l-4-1.4l-3.3-0.9l-0.7-0.2l-4-0.8l-4-0.5l-4-0.2l-4 0.1l-4 0.5l-4 0.7l-1.5 0.4l-2.5 0.7l-4 1.2l-4 1.5l-4 1.6l-4 1.7l-3 1.3l-1 0.4l-8 3.6l-4 1.9l-4 2.1h-0.1l-3.9 2.5l-2.3 1.5l-1.7 1.5l-2.6 2.5l-1.4 2.2l-1.1 1.8l-0.8 4l0.6 4l1.3 2.4l0.9 1.6l3.1 3.4l0.6 0.6l3.4 2.8l1.5 1.2l2.5 1.7l3.3 2.3l0.7 0.4l4 2.5l1.9 1.1l2.1 1.2l4 2.2l4 2l4 1.8l1.9 0.8l2.1 0.9l8 3l0.3 0.1l3.7 1.4l4 1.4l3.3 1.2l0.7 0.3l4 1.6l4 1.8l0.8 0.3l3.2 1.8l3.9 2.2l0.1 0.1l4 3.3l0.7 0.6l2.5 4l0.4 4l-0.7 4l-1.6 4l-1.3 2.6l-0.6 1.4l-2.1 4l-1.3 2.3l-0.9 1.7l-2.5 4l-0.6 0.9l-2.1 3.1l-1.9 2.4l-1.4 1.6l-2.6 2.6l-1.7 1.4l-2.3 1.7l-4 2.3l-4 1.6l-4 1.2l-4 0.7l-4 0.3l-4-0.1l-4-0.5l-4-0.9l-4-1.4l-2.2-0.9l-1.8-0.8l-4-2l-2.1-1.2l-1.9-1.1l-4-2.3l-1-0.6l-3-1.7l-4.6-2.3l-3.4-1.4l-4-1.1l-4-0.6l-4-0.3l-4 0.3l-4 0.6l-4 1l-4 1.4l-0.1 0.1l-3.9 1.7l-4 2.1l-0.4 0.2l-3.6 2l-3.5 2l-0.5 0.3l-4 2.2l-2.9 1.5l-1.1 0.6l-4 2l-3 1.4l-1 0.5l-4 1.9l-3.4 1.6l-0.6 0.3l-4 2.3l-2.4 1.4l-1.6 1.2l-3.3 2.8l-0.7 0.9l-2.3 3.1l-1.7 3.5l-0.2 0.5l-1.2 4l-0.8 4l-1 8l-0.4 4l-0.5 4l-0.7 4l-0.8 4l-1.3 4l-1.1 2.5l-0.8 1.5l-2.9 4l-0.3 0.4l-3.9 3.6l-0.1 0.1l-4 2.8l-1.6 1.1l-2.4 1.4l-4 2.5l-0.2 0.1l-3.8 2.1l-3.4 1.9l-0.6 0.3l-4 1.9l-3.9 1.8h-0.1l-4 1.5l-4 1.3l-4 1l-1 0.2l-3 0.5l-4 0.4l-4 0.2h-4l-4-0.2l-4-0.5l-3.3-0.4l-0.7-0.1l-4-0.7l-4-0.6l-4-0.5h-4l-4 0.4l-4 0.8l-2 0.7l-2 0.6l-4 1.6l-3.7 1.8l-0.3 0.1l-4 2.1l-3.2 1.8l-0.8 0.5l-4 2.7l-1.1 0.8l-2.9 2.7l-1.2 1.3l-2.8 4l-2.1 4l-1.7 4l-3.2 8l-1 2.2l-0.8 1.8l-2 4l-1.2 2.1l-1.1 1.9l-2.5 4l-0.4 0.6l-2.3 3.4l-1.7 2.2l-1.2 1.8l-2.8 3.7l-0.2 0.3l-3 4l-0.8 1l-2.2 3l-1.8 2.2l-1.4 1.8l-2.6 3.1l-0.8 0.9l-3.2 3.5l-0.4 0.5l-3.6 3.7l-8.3 8.3l-3.7 3.8l-4.2 4.2l-3.8 3.6l-0.5 0.4l-3.5 2.9l-1.3 1.1l-2.7 1.9l-3 2.1l-5 3l-1.7 1l-2.3 1.2l-4 2l-1.5 0.8l-2.5 1.2l-4 1.9l-1.7 0.9l-2.3 1.1l-4 2.1l-1.5 0.8l-2.5 1.4l-4 2.4l-0.3 0.2l-3.7 2.5l-1.9 1.5l-2.1 1.6l-2.7 2.4l-1.3 1.2l-2.8 2.8l-1.2 1.3l-2.3 2.7l-1.7 2l-1.6 2l-2.4 3.3l-0.5 0.7l-2.7 4l-0.8 1.3l-1.7 2.7l-2.3 3.8l-0.1 0.2l-2.4 4l-1.5 2.7l-0.8 1.3l-2.4 4l-0.8 1.5l-1.6 2.5l-2.4 3.7l-0.2 0.3l-3 4l-0.8 1.1l-3 2.9l-1 1.1l-4 2v-487.1zM600.1 353.5l4-0.8l4-0.5l8-0.4l8 0.2l4 0.3l4 0.4l8 1l4 0.7h0.1l3.9 0.8l8 2l4 1.1l0.2 0.1l3.8 1.4l4 1.5l3.5 1.1l0.5 0.3l4 1.1v21.5l-2.7 1.1l-1.3 0.4l-4 2l-2.9 1.6l-1.1 0.5l-8 3.4l-0.3 0.1l-3.7 1.1l-4 1l-4 0.9l-4 0.7l-2.8 0.3l-1.2 0.1l-4 0.2l-4-0.1l-2.9-0.2l-1.1-0.1l-4-0.7l-4-1l-4-1.3l-2.4-0.9l-5.6-2.8l-2.1-1.2l-1.9-1.3l-4-2.6l-0.1-0.1l-3.9-2.9l-1.6-1.1l-2.4-1.9l-3.2-2.1l-0.8-0.7l-4-2.4l-2.6-0.9l-1.4-0.8l-4-1.2l-4-0.2l-4 0.3l-4 0.7l-4 0.9l-1.4 0.3l-2.6 0.3l-4 0.2l-4 0.1l-4-0.1l-4-0.3l-1-0.2l-3-1l-4-2l-1.7-1l1.7-1.4l4-2.5l0.2-0.1l3.8-0.5l4-0.4l4-0.3l4-0.2h8l4 0.2l4 0.1l4-0.2l4-0.6l4-1.5l1-0.6l3-1l4-1.9l2-1.1l6-2.4l4-1.5l0.2-0.1z"/>
<path fill="#ff7900" d="M676.1 50.4v84.9l-4-0.8l-0.4-0.1l-3.6-1l-4-1.1l-4-1.2l-2.4-0.7l-1.6-0.4l-4-1.1l-8-2.4l-0.3-0.1l-3.7-1.1l-8-2.6l-0.8-0.3l-3.2-1.1l-4-1.5l-3.6-1.4l-0.4-0.2l-4-1.6l-4-1.7l-1.2-0.5l-2.8-1.2l-4-1.7l-2.9-1.1l-1.1-0.4l-4-1.4l-4-1.1l-4-0.9l-1.5-0.2l-2.5-0.3l-4-0.2l-4 0.1l-4 0.4h-0.3l-3.7 0.6l-4 1l-4 1.2l-3.7 1.2l-0.3 0.1l-4 1.5l-6 2.4l-2 0.9l-4 1.6l-3.6 1.5l-0.4 0.2l-4 1.7l-4 1.8l-0.6 0.3l-3.4 1.8l-4 2.2l-4 2.9l-1.4 1.1l-2.6 2.8l-1 1.2l-2.1 4l-0.7 4l0.7 4l2.1 4l1 1.1l2.6 2.9l1.4 1.2l3.3 2.8l0.7 0.5l4 2.8l1.1 0.7l2.9 1.8l3.4 2.2l0.6 0.3l4 2.4l2.3 1.3l1.7 0.9l4 2.1l1.9 1l2.1 1l4 1.8l2.8 1.2l1.2 0.5l8 3.2l0.9 0.3l3.1 1.2l4 1.7l2.7 1.1l1.3 0.6l4 2.1l2.4 1.3l1.6 1.1l3.6 2.9l0.4 0.5l2.7 3.5l1.3 4v4.1l-0.7 3.9l-1.3 4l-1.6 4l-0.4 0.7l-1.5 3.3l-2.3 4l-0.2 0.2l-2.6 3.8l-1.4 1.6l-2.2 2.4l-1.8 1.6l-3.3 2.4l-0.7 0.5l-4 1.9l-4 1.5l-0.6 0.1l-3.4 0.7l-4 0.4h-4l-4-0.5l-2.6-0.6l-1.4-0.3l-4-1.4l-4-1.8l-1-0.5l-3-1.6l-4-2.3l-0.2-0.1l-3.8-2.3l-2.9-1.7l-1.1-0.6l-4-2l-3.8-1.4l-0.2-0.1l-4-1l-4-0.6l-4-0.2l-4 0.3l-4 0.6l-3.6 1l-0.4 0.1l-4 1.5l-4 1.8l-1.1 0.6l-2.9 1.5l-4 2.4l-0.1 0.1l-3.9 2.3l-2.9 1.7l-1.1 0.6l-4 2.2l-4 2l-4 1.9l-2.8 1.3l-1.2 0.6l-4 1.9l-3.3 1.5l-0.7 0.4l-4 2.3l-2 1.3l-2 1.7l-2.5 2.3l-1.5 2l-1.3 2l-1.7 4l-1 3.6l-0.1 0.4l-0.8 4l-1 8l-0.6 4l-0.7 4l-0.8 3.9v0.1l-1.3 4l-1.7 4l-1 1.8l-1.5 2.2l-2.5 3l-1 1l-3 2.6l-1.8 1.4l-2.2 1.5l-3.5 2.5l-0.5 0.3l-4 2.5l-2 1.2l-6 3.3l-1.5 0.7l-2.5 1.1l-4 1.7l-3.6 1.2l-4.4 1.1l-4 0.6l-4 0.3h-4l-4-0.4l-4-0.6l-4-0.9l-0.3-0.1l-3.7-1.3l-4-1.5l-3-1.2l-1-0.6l-4-1.7l-4-1.4l-1.5-0.3l-2.5-0.6l-4-0.1l-2.7 0.7l-1.3 0.3l-4 1.5l-4.4 2.2l-3.6 1.7l-4 1.9l-8 3.2l-3.1 1.2l-0.9 0.4l-4 1.9l-3 1.7l-1 0.9l-2.8 3.1l-1.2 2.8l-0.4 1.2l-0.6 4l-0.4 4l-0.5 4l-0.6 4l-1 4l-0.5 1.7l-0.7 2.3l-1.5 4l-1.8 4l-2 4l-2 3.5l-0.3 0.5l-2.3 4l-1.4 2.1l-1.1 1.9l-2.7 4l-0.2 0.3l-2.5 3.7l-1.5 2.1l-1.4 1.9l-2.6 3.4l-0.5 0.6l-3.4 4l-0.1 0.1l-3.5 3.9l-0.5 0.5l-3.3 3.5l-0.7 0.7l-3.2 3.3l-0.8 0.8l-2.9 3.2l-1.1 1.1l-2.7 2.9l-1.3 1.4l-2.5 2.6l-1.5 1.4l-2.6 2.6l-1.4 1.1l-3.4 2.9l-0.6 0.4l-4 2.8l-1.1 0.8l-2.9 1.8l-3.7 2.2l-0.3 0.2l-4 2.2l-3 1.6l-1 0.5l-4 2.1l-2.6 1.4l-1.4 0.7l-4 2.3l-4 2.5l-3.7 2.5l-0.3 0.2l-4 3.1l-4 3.5l-1.2 1.2l-2.8 2.9l-1 1.1l-3 3.4l-0.5 0.6l-3.1 4l-0.4 0.5l-2.5 3.5l-1.5 2.2l-1.2 1.8l-2.6 4l-0.2 0.4l-2.2 3.6l-2.4 4l-2.5 4l-0.9 1.5l-1.6 2.5l-2.4 3.6l-0.3 0.4l-3.1 4l-0.6 0.7l-3.7 3.3l-0.3 0.3l-4 1.8v-482.1zM600.1 358.3l4-1.3l4-1l4-0.6l4-0.3l4-0.2l4 0.1l4 0.3l4 0.4l4 0.6l4 0.7l4 0.8l2.7 0.6l1.3 0.4l4 1.3l4 1.4l2.3 0.9l1.7 0.9l4 2.2l1.5 0.9l2.5 2.3l2 1.7l1.8 4l-1 4l-2.8 3.3l-0.5 0.7l-5 4l-2.5 1.4l-4 2.2l-0.8 0.4l-3.2 1.2l-4 1.3l-4 1.1l-2 0.4l-2 0.3l-4 0.5l-4 0.2l-4-0.1l-4-0.4l-3.1-0.5l-0.9-0.2l-4-1.2l-4-1.6l-2.2-1l-1.8-1l-4-2.5l-0.7-0.5l-3.3-2.7l-1.6-1.3l-2.4-2.5l-1.6-1.5l-2.4-3.3l-0.7-0.7l-1.8-4l0.3-4l2.2-2.8l1-1.2l3-1.9l3.7-2.1z"/>
<path fill="#ff6c00" d="M676.1 50.4v81.1l-4-0.5l-3.1-0.6l-0.9-0.2l-4-0.8l-4-0.9l-8-2l-0.2-0.1l-3.8-1l-4-1.1l-4-1.2l-2.1-0.7l-1.9-0.6l-4-1.3l-8-3l-4-1.7l-3.4-1.4l-0.6-0.3l-8-3.6l-0.3-0.1l-3.7-1.6l-4-1.6l-2.3-0.8l-1.7-0.6l-4-1.1l-4-0.8l-4-0.5l-4-0.3l-4 0.1l-4 0.4l-4 0.6l-4 0.8l-4 1.1l-1.1 0.3l-2.9 0.9l-8 3l-0.3 0.1l-3.7 1.5l-4 1.5l-4 1.6l-4 1.7l-4 1.6l-0.2 0.1l-3.8 1.7l-4 1.9l-0.7 0.4l-3.3 1.9l-3.2 2.1l-0.8 0.6l-3.9 3.4l-0.1 0.2l-2.9 3.8l-1.1 2.3l-0.7 1.7l-0.6 4l0.7 4l0.6 1.1l1.5 2.9l2.5 3l0.8 1l3.2 2.8l1.4 1.2l2.6 1.8l3 2.2l1 0.6l4 2.6l1.3 0.8l2.7 1.6l4 2.4l4 2.3l3 1.7l1 0.6l4 2.1l2.8 1.3l1.2 0.6l4 1.9l3.6 1.5l0.4 0.2l4 1.7l4 1.6l1.1 0.5l2.9 1.3l5.4 2.7l2.6 1.6l3.4 2.4l0.6 0.6l3.2 3.4l0.8 1.5l1.2 2.5l0.7 4l-0.1 4l-0.8 4l-1 3l-0.3 1l-1.7 4l-2 3.5l-0.3 0.5l-2.9 4l-0.8 0.9l-3.3 3.1l-0.7 0.6l-4 2.4l-2 1l-2 0.8l-4 1l-4 0.6h-4l-4-0.5l-4-0.9l-2.9-1l-1.1-0.4l-4-1.8l-3.3-1.8l-0.7-0.4l-4-2.4l-1.9-1.2l-2.1-1.3l-4-2.2l-1-0.5l-3-1.4l-4-1.5l-4-0.9l-1.4-0.2l-2.6-0.3l-4-0.1l-4 0.3l-0.7 0.1l-3.3 0.6l-4 1l-4 1.5l-1.8 0.9l-2.2 1l-4 2.3l-1.1 0.7l-2.9 1.7l-3.6 2.3l-0.4 0.3l-4 2.4l-2.3 1.3l-1.7 1l-4 2.1l-1.9 0.9l-2.1 1l-4 1.8l-2.6 1.2l-1.4 0.6l-4 1.9l-3.2 1.5l-0.8 0.5l-4 2.4l-1.7 1.1l-2.3 2.1l-1.9 1.9l-2.1 3.3l-0.4 0.7l-1.6 4l-1 4l-0.6 4l-0.4 2.6l-0.2 1.4l-0.6 4l-0.7 4l-0.9 4l-1.1 4l-0.5 1.3l-1.1 2.7l-2.2 4l-0.7 1l-2.5 3l-1.5 1.6l-2.6 2.4l-1.4 1.1l-3.6 2.9l-0.4 0.2l-4 2.8l-1.4 1l-2.6 1.6l-4 2.4l-4 2l-4 1.8l-0.6 0.2l-3.4 1.1l-4 0.9l-4 0.6l-4 0.1l-4-0.3l-4-0.7l-4-1.2l-1.5-0.5l-2.5-1.3l-4-2.5l-0.4-0.2l-3.6-3.5l-0.6-0.5l-2.7-4l-0.7-1.8l-1-2.2l-0.7-4l-0.1-4l0.3-4l0.4-4l-0.1-4l-1.9-4l-0.9-0.7l-4-1.6l-4-0.4l-4 0.8l-4 1.9l-3.7 4l-0.3 0.4l-1.8 3.6l-1.8 4l-0.4 1l-1 3l-1.6 4l-1.4 2.6l-0.7 1.4l-3.1 4l-0.2 0.2l-4 3.3l-0.7 0.5l-3.3 1.9l-4 1.7l-1.1 0.4l-2.9 1l-4 1.2l-4 1l-3.5 0.8l-0.5 0.1l-4 1.2l-4 1.4l-3.4 1.3l-0.6 0.4l-3.7 3.6l-0.3 1.5l-0.4 2.5l0.4 1.2l0.8 2.8l1.8 4l1.4 3l0.4 1l1.5 4l0.9 4l0.3 4l-0.2 4l-0.7 4l-1.1 4l-1.1 2.9l-0.4 1.1l-1.7 4l-1.9 4l-2.1 4l-1.9 3.4l-0.3 0.6l-2.5 4l-1.2 1.8l-1.5 2.2l-2.5 3.5l-4 5l-3.1 3.5l-0.9 1l-2.8 3l-1.2 1.3l-2.5 2.7l-1.5 1.7l-2.1 2.3l-1.9 2.2l-1.5 1.8l-2.5 2.8l-0.9 1.2l-3.1 3.4l-0.5 0.6l-4 4l-3.5 3l-1.1 1l-2.9 2.1l-2.6 1.9l-1.4 0.9l-4 2.5l-0.9 0.6l-3.1 1.8l-3.9 2.2l-0.1 0.1l-4 2.2l-2.8 1.7l-1.2 0.7l-4 2.5l-1.2 0.8l-2.8 1.9l-2.7 2.1l-1.3 1l-3.4 3l-0.6 0.5l-4 4l-3.1 3.5l-0.9 1l-2.5 3l-1.5 1.9l-1.6 2.1l-2.4 3.4l-0.5 0.6l-2.7 4l-0.8 1.3l-1.8 2.7l-2.2 3.5l-0.3 0.5l-2.5 4l-1.2 1.9l-1.5 2.1l-2.5 3.8l-0.2 0.2l-3.2 4l-0.6 0.8l-3.8 3.2l-0.2 0.2l-4 1.6v-477.8zM608.1 360.9l4-1.2l4-0.8l4-0.4l4-0.1l4 0.3l4 0.5l4 0.6l4 0.9l4 1.1l1.9 0.6l2.1 0.9l4 1.9l2.3 1.2l1.7 1.4l2.9 2.6l1.1 2.3l0.8 1.7l-0.5 4l-0.3 0.5l-2.4 3.5l-1.6 1.3l-3.7 2.7l-0.3 0.1l-4 1.8l-4 1.4l-2.4 0.7l-1.6 0.3l-4 0.6l-4 0.3l-4-0.1l-4-0.5l-3.1-0.6l-0.9-0.2l-4-1.5l-4.6-2.3l-3.4-2.5l-2-1.5l-2-2.2l-1.6-1.8l-2.3-4l-0.1-0.4l-0.8-3.6l0.8-2.6l0.4-1.4l3.6-3.5l0.7-0.5z"/>
<path fill="#ff6000" d="M676.1 50.4v77.6l-4-0.3l-4-0.5l-4-0.6l-1-0.2l-3-0.5l-8-1.8l-4-1l-2.7-0.7l-1.3-0.3l-4-1.2l-4-1.3l-3.5-1.2l-0.5-0.2l-4-1.5l-4-1.6l-1.7-0.7l-2.3-1l-4-1.9l-2.5-1.1l-1.5-0.7l-4-1.9l-3.1-1.4l-0.9-0.4l-4-1.6l-4-1.4l-4-1l-4-0.8l-4-0.5l-4-0.3l-4 0.1l-4 0.3l-4 0.5l-4 0.8l-1.3 0.3l-2.7 0.7l-4 1.2l-4 1.3l-2.3 0.8l-1.7 0.6l-4 1.6l-8 3l-4 1.6l-3.1 1.2l-0.9 0.4l-4 1.6l-4 1.8l-0.5 0.2l-3.5 1.7l-4 2.2l-0.2 0.1l-3.8 2.6l-1.8 1.4l-2.2 2.1l-1.8 1.9l-2.2 3.2l-0.5 0.8l-1.6 4l-0.4 4l0.6 4l1.9 3.9v0.1l3.2 4l0.8 0.7l3.7 3.3l0.3 0.3l4 2.9l1.1 0.8l2.9 1.9l3.3 2.1l0.7 0.4l4 2.5l1.9 1.1l2.1 1.3l4 2.3l0.6 0.4l3.4 2l3.7 2l0.3 0.2l4 2.1l4 2l4 1.9l4 1.8h0.1l3.9 1.8l4 1.9l0.6 0.3l3.4 1.9l3.4 2.1l0.6 0.5l4 3.5l2.8 4l1.2 3.6l0.1 0.4l0.4 4l-0.4 4l-0.1 0.3l-0.9 3.7l-1.6 4l-1.5 2.6l-0.8 1.4l-3.2 4l-4 3.3l-1.2 0.7l-2.8 1.4l-4 1.4l-4 0.7l-4 0.2l-4-0.5l-4-0.9l-4-1.5l-1.7-0.8l-2.3-1.2l-4-2.2l-0.9-0.6l-3.1-2l-3.4-2l-0.6-0.4l-4-2.2l-3.1-1.4l-0.9-0.4l-4-1.3l-4-0.9l-4-0.4h-4l-4 0.3l-4 0.7l-4 1.1l-2.3 0.9l-1.7 0.6l-4 2l-2.4 1.4l-1.6 0.9l-4 2.6l-0.7 0.5l-3.3 2.1l-2.8 1.9l-1.2 0.7l-4 2.4l-1.6 0.9l-2.4 1.3l-4 2l-1.5 0.7l-2.5 1.1l-4 1.8l-2.7 1.1l-1.3 0.6l-4 1.8l-3.3 1.6l-0.7 0.4l-4 2.5l-1.5 1.1l-2.5 2.5l-1.4 1.5l-2.3 4l-0.3 0.9l-1.1 3.1l-0.9 4l-0.7 4l-1.2 8l-0.1 0.4l-0.8 3.6l-1.1 4l-1.5 4l-0.6 1.3l-1.5 2.7l-2.5 3.7l-0.2 0.3l-3.8 4l-4 3.5l-0.6 0.5l-3.4 2.6l-1.8 1.4l-2.2 1.5l-3.7 2.5l-0.3 0.2l-4 2.2l-3.2 1.6l-0.8 0.3l-4 1.4l-4 1l-4 0.4l-4-0.1l-4-0.7l-4-1.4l-2-0.9l-2-1.4l-3-2.6l-1-1.5l-1.6-2.5l-1.1-4l-0.2-4l0.8-4l1.5-4l0.6-1.1l1.8-2.9l2.2-2.7l1.2-1.3l2.8-2.8l1.4-1.2l2.6-2.7l1.2-1.3l2.3-4l-0.3-4l-3.2-2.9l-3.3-1.1l-0.7-0.1l-4-0.1l-2.1 0.2l-1.9 0.2l-4 0.7l-8 1l-4 0.3l-4 0.4l-4 0.6l-3.9 0.8h-0.1l-4 1.7l-4 2.3l-4 3.9v0.1l-2.6 4l-1.4 2.3l-0.8 1.7l-1.8 4l-1.4 2.8l-0.5 1.2l-2.1 4l-1.4 2.3l-1.2 1.7l-2.8 3.2l-0.9 0.8l-3.1 2.4l-2.8 1.6l-1.2 0.6l-4 1.8l-4 1.2l-1.5 0.4l-2.5 0.7l-4 1l-4 0.8l-4 0.7l-4 0.8h-0.2l-3.8 1.1l-4 1.5l-3.2 1.4l-0.8 0.7l-3.3 3.3l-0.7 2.2l-0.5 1.8l0.5 3.5l0.1 0.5l1.8 4l2.1 3.1l0.6 0.9l2.9 4l0.5 0.8l2.1 3.2l1.9 4l1.2 4l0.4 4l-0.2 4l-0.6 4l-0.8 2.8l-0.3 1.2l-1.4 4l-1.7 4l-0.6 1.3l-1.3 2.7l-2.2 4l-0.5 0.9l-1.9 3.1l-2.8 4l-3 4l-0.3 0.3l-3.1 3.7l-3.6 4l-1.3 1.4l-2.3 2.6l-1.7 1.9l-1.8 2.1l-2.2 2.7l-1 1.3l-3 4l-3.1 4l-0.9 1.1l-2.3 2.9l-1.7 1.8l-2 2.2l-2 1.8l-2.4 2.2l-1.6 1.2l-3.6 2.8l-0.4 0.3l-4 2.6l-1.6 1.1l-2.4 1.5l-4 2.4l-0.1 0.1l-3.9 2.3l-2.6 1.7l-1.4 0.9l-4 2.8l-0.4 0.3l-3.6 2.8l-1.4 1.2l-2.6 2.3l-1.7 1.7l-2.3 2.2l-4 4.5l-1.1 1.3l-2.9 3.5l-0.4 0.5l-3.1 4l-0.5 0.7l-2.4 3.3l-1.6 2.4l-1.1 1.6l-2.7 4l-0.2 0.3l-2.4 3.7l-1.6 2.4l-1.1 1.6l-2.8 4l-0.1 0.2l-3.1 3.8l-0.9 1.1l-3.6 2.9l-0.4 0.4l-4 1.5v-473.9zM612.1 366l4-1.7l4-1l4-0.4l4 0.2l4 0.5l4 1l4 1.2l1.6 0.6l2.4 1.4l3.8 2.6l0.2 0.3l2.1 3.7l-0.4 4l-1.7 2l-1.9 2l-2.1 1.1l-4 1.7l-4 1.2h-0.2l-3.8 0.4l-4-0.1l-2.5-0.3l-1.5-0.3l-4-1.3l-4-1.9l-0.8-0.5l-3.2-2.8l-1.1-1.2l-2.2-4l-0.1-4l2.8-4z"/>
<path fill="#ff5300" d="M676.1 50.4v74.1l-4-0.1l-4-0.2l-4-0.3l-4-0.6l-4-0.7l-1.2-0.2l-2.8-0.6l-4-0.9l-8-2.2l-0.9-0.3l-3.1-1l-8-3l-4-1.7l-4-1.8l-8-4l-1.1-0.5l-2.9-1.5l-4-1.8l-1.8-0.7l-2.2-0.9l-4-1.3l-4-1l-4-0.8h-0.3l-3.7-0.4l-4-0.3l-4 0.1l-4 0.2l-3.1 0.4l-0.9 0.1l-4 0.7l-4 0.9l-4 1.1l-3.8 1.2l-0.2 0.1l-4 1.3l-4 1.5l-2.9 1.1l-1.1 0.4l-8 3l-4 1.6l-4 1.5l-3.7 1.5l-0.3 0.1l-4 1.8l-4 1.9l-0.4 0.2l-3.6 2.1l-3 1.9l-1 0.8l-3.9 3.2l-0.1 0.1l-3.4 3.9l-0.6 0.9l-1.9 3.1l-1.4 4l-0.5 4l0.6 4l1.8 4l1.4 1.9l1.6 2.1l2.4 2.3l1.9 1.7l2.1 1.6l3.2 2.4l0.8 0.5l4 2.6l1.3 0.9l2.7 1.6l3.9 2.4l0.1 0.1l12 7.2l1.1 0.7l2.9 1.7l4 2.2l0.1 0.1l3.9 2.1l8 4l3.9 1.9h0.1l4 2.2l3.3 1.8l0.7 0.4l4 2.9l0.8 0.7l3.2 3.5l0.4 0.5l2 4l0.8 4v4l-0.8 4l-1.6 4l-0.8 1.4l-1.6 2.6l-2.4 2.6l-1.6 1.4l-2.4 1.6l-4 1.8l-2.1 0.6l-1.9 0.4l-4 0.3l-4-0.4l-1.4-0.3l-2.6-0.7l-4-1.6l-3.5-1.7l-4.5-2.7l-4-2.6l-4.5-2.7l-3.5-1.9l-4-1.6l-1.7-0.5l-2.3-0.7l-4-0.7l-4-0.4l-4 0.1l-4 0.3l-4 0.8l-2.1 0.6l-1.9 0.5l-4 1.5l-3.9 2h-0.1l-4 2.4l-2.3 1.6l-1.7 1.1l-4 2.9l-4 2.7l-2 1.3l-2 1.2l-4 2.3l-0.9 0.5l-3.1 1.6l-4 1.8l-1.3 0.6l-2.7 1.1l-4 1.7l-3.1 1.2l-0.9 0.4l-4 1.8l-3.7 1.8l-0.3 0.2l-4 2.6l-1.7 1.2l-2.3 2.6l-1.2 1.4l-2.1 4l-0.7 2.2l-0.6 1.8l-0.9 4l-0.6 4l-1.4 8l-0.5 2l-0.6 2l-1.5 4l-1.9 4v0.1l-2.8 3.9l-1.2 1.6l-2.3 2.4l-1.7 1.6l-2.6 2.4l-1.4 1.1l-3.5 2.9l-0.5 0.4l-4 2.9l-0.9 0.7l-3.1 1.9l-3.8 2.1l-0.2 0.1l-4 1.5l-4 0.9l-4 0.3l-4-0.6l-4-1.5l-1.2-0.7l-2.8-2.9l-0.9-1.1l-1.2-4l0.2-4l1.4-4l0.5-0.7l2.3-3.3l1.7-1.9l2.2-2.1l4.5-4l1.3-1.3l2.6-2.7l1.4-2l1.3-2l1.4-4l0.3-4l-0.9-4l-2.1-3.9l-0.1-0.1l-3.9-3.3l-1.4-0.7l-2.6-1l-4-0.6l-4 0.1l-4 0.5l-5 1l-3 0.7l-8 1.8l-4 0.7l-4 0.8h-0.2l-3.8 0.8l-4 1.1l-4 1.4l-1.4 0.7l-2.6 1.4l-3.6 2.6l-0.4 0.3l-3.4 3.7l-0.6 0.8l-2.1 3.2l-1.9 3.3l-0.4 0.7l-1.9 4l-1.7 3.2l-0.4 0.8l-2.2 4l-1.4 2.1l-1.4 1.9l-2.6 2.8l-1.3 1.2l-2.7 2.1l-3.2 1.9l-0.8 0.4l-4 1.8l-4 1.3l-4 1l-4 0.9l-4 0.7l-8 1.2l-4 0.7l-4 1l-4 1.3l-4 1.7l-4 3.2l-0.8 0.8l-2.3 4l-0.8 4l0.4 4l1.4 4l2.1 3.7l0.2 0.3l2.9 4l0.9 1.1l2.2 2.9l1.8 2.6l0.9 1.4l2 4l1.1 3.8v0.2l0.4 4l-0.2 4l-0.2 1.1l-0.5 2.9l-1.2 4l-1.5 4l-0.8 1.8l-1.1 2.2l-2.2 4l-0.7 1.1l-1.9 2.9l-2.1 2.9l-0.9 1.1l-3.1 3.8l-0.2 0.2l-3.5 4l-0.3 0.3l-3.2 3.7l-3.2 4l-1.6 2.2l-1.3 1.8l-2.6 4l-0.1 0.1l-2.4 3.9l-1.6 2.4l-1 1.6l-2.8 4l-0.2 0.2l-3.2 3.8l-4 4l-0.8 0.6l-4 3.3l-0.2 0.1l-3.8 2.7l-1.8 1.3l-2.2 1.4l-8 5.2l-1.9 1.4l-2.1 1.4l-3.3 2.6l-0.7 0.5l-4 3.5l-4 4l-3.7 4l-0.3 0.4l-3.1 3.6l-0.9 1.1l-2.3 2.9l-1.7 2.2l-1.4 1.8l-2.6 3.6l-0.3 0.4l-2.8 4l-0.9 1.3l-1.9 2.7l-2.1 3.2l-0.6 0.8l-2.8 4l-0.6 0.8l-2.7 3.2l-1.3 1.6l-4 3.2l-4 1.6v-470.4zM286.5 106.4l-2.4 1.1l-2.3 2.9l-1.7 2.8l-0.4 1.2l-1.2 4l-0.8 4l-0.4 4v4l0.5 4l1.2 4l1.1 1.8l3.2 2.2l0.8 0.3l3.1-0.3l0.9-0.1l4-2.5l1.4-1.4l2.6-3.1l0.5-0.9l1.8-4l1.2-4l0.5-3.7v-1.4l-0.1-2.9l-1.1-4l-2.1-4l-0.7-1l-4-2.9l-0.5-0.1l-3.5-0.6zM624.1 372.3l4-1l4 1.5l2.1 1.6l-2.1 2.8l-4 1.1l-4-2.1l-1.7-1.8z"/>
<path fill="#ff4600" d="M267 50.4v4l-0.1 4v4l-0.1 4v20l-0.1 4v4l-0.2 4l-0.1 4l-0.2 4l-0.3 4l-0.2 4l-0.3 4l-0.2 4l-0.2 8v4l0.2 4l0.4 4l0.6 4l1 4l0.9 2.2l1.1 1.8l2.9 2.9l2.6 1.1l1.4 0.4l4 0.1l2.3-0.5l1.7-0.4l4-1.6l3.8-2l0.2-0.1l4-3l1-0.9l3-3l0.9-1l2.9-4l0.2-0.3l2-3.7l1.9-4l0.1-0.3l1.3-3.7l1.1-4l1-4l0.6-3.1l0.2-0.9l0.4-4l0.3-4l0.1-4l-0.2-4l-0.4-4l-0.4-1.8l-0.6-2.2l-1.6-4l-1.8-3.4l-0.4-0.6l-3.5-4l-0.1-0.2l-3.8-3.8l-0.2-0.3l-3-3.7l-1-1.9l-1-2.1l-0.9-4l0.4-4l1.5-3.8l0.1-0.2l3.4-4l0.5-0.8l4-1.6l4 2.3l0.1 0.1l3.9 2l4 1.7l1.3 0.3l2.7 0.5l4-0.3l0.7-0.2l3.3-1.3l3.7-2.7l0.3-0.3l1.6-3.7h342.4v70.5l-8 0.4l-4-0.2l-4-0.3l-4-0.6l-4-0.7l-4-0.9l-0.9-0.2l-3.1-0.8l-4-1.2l-4-1.3l-1.9-0.7l-2.1-0.8l-4-1.7l-3.5-1.5l-0.5-0.2l-4-2.1l-4-2l-4-2.2l-3.1-1.5l-0.9-0.5l-4-1.8l-4-1.6l-0.5-0.1l-3.5-1.1l-4-1l-4-0.7l-4-0.4l-4-0.2h-4l-4 0.2l-4 0.5l-4 0.6l-4 0.8l-4 1l-0.9 0.3l-3.1 0.9l-8 2.8l-8 3l-3.6 1.3l-0.4 0.2l-8 3l-2.2 0.8l-1.8 0.7l-4 1.6l-3.9 1.7h-0.1l-4 2l-3.6 2l-0.4 0.2l-4 2.8l-1.4 1l-2.6 2.3l-1.7 1.7l-2.3 2.8l-0.9 1.2l-2.3 4l-0.8 2.2l-0.7 1.8l-0.5 4l0.5 4l0.7 1.6l1 2.4l2.9 4l0.1 0.1l4 3.9l4 3.1l1.2 0.9l2.8 1.9l3.2 2.1l4.8 3l1.7 1l2.3 1.4l4 2.4l0.3 0.2l3.7 2.3l2.8 1.7l1.2 0.8l4 2.5l1.2 0.7l2.8 1.7l8 4.6l4 2l4 2.2l2.9 1.5l1.1 0.6l4 2.6l1.3 0.8l2.7 2.4l1.7 1.6l2.3 3.3l0.4 0.7l1.3 4l0.3 4l-0.6 4l-1.6 4l-3 4l-0.8 0.7l-4 2.7l-1.4 0.6l-2.6 0.8l-4 0.5l-4-0.3l-4-0.9l-0.2-0.1l-3.8-1.7l-4-2.1l-0.3-0.2l-3.7-2.5l-2.4-1.5l-1.6-1.1l-4-2.3l-4-2l-4-1.4l-4-1l-1.3-0.2l-2.7-0.4l-4-0.2l-4 0.1l-4 0.4l-0.4 0.1l-3.6 0.7l-4 1.1l-4 1.5l-1.3 0.7l-2.7 1.3l-4 2.5l-0.2 0.2l-3.8 2.6l-1.8 1.4l-2.2 1.6l-3.2 2.4l-0.8 0.5l-4 2.7l-1.2 0.8l-2.8 1.7l-4 2.1l-0.3 0.2l-3.7 1.7l-4 1.7l-4 1.6l-8 3l-4 1.7l-4 1.9l-0.7 0.4l-3.3 2.2l-2.4 1.8l-1.6 1.9l-1.7 2.1l-1.9 4l-0.4 1.4l-0.9 2.6l-0.8 4l-0.6 4l-0.8 4l-0.9 4l-1.7 4l-1.9 4l-0.4 0.6l-2.7 3.4l-1.3 1.6l-2.5 2.4l-1.5 1.4l-3.1 2.6l-0.9 0.7l-3.9 3.3l-0.1 0.1l-4 3l-1.3 0.9l-2.7 1.6l-4 1.9l-2 0.5l-2 0.3l-3.2-0.3l-0.8-0.2l-3.7-3.8l0.1-4l2.4-4l1.2-1.4l2.6-2.6l1.4-1.3l2.8-2.7l1.2-1.2l2.3-2.8l1.7-2.8l0.6-1.2l1.5-4l0.8-4l0.2-4l-0.5-4l-1.2-4l-1.4-2.9l-0.6-1.1l-3-4l-0.4-0.4l-4-3.3l-4-2l-4-0.8l-4 0.1l-4 0.7l-4 1l-2.2 0.7l-1.8 0.5l-8 2.6l-2.9 0.9l-1.1 0.3l-12 3.3l-1.4 0.4l-2.6 0.8l-4 1.5l-3.6 1.7l-0.4 0.2l-4 2.6l-1.4 1.2l-2.6 2.4l-1.4 1.6l-2.6 3.5l-0.3 0.5l-2.3 4l-1.4 2.6l-0.7 1.4l-2.1 4l-1.2 2.1l-1.1 1.9l-2.8 4l-0.1 0.1l-3.6 3.9l-0.4 0.4l-4 3l-1 0.6l-3 1.6l-4 1.6l-2.5 0.8l-1.5 0.5l-4 0.9l-4 0.7l-4 0.6l-8 1l-2.1 0.3l-1.9 0.3l-4 0.8l-4 1.1l-4 1.3l-1.1 0.5l-2.9 1.7l-3 2.3l-1 1.1l-2.2 2.9l-1.8 4l-0.8 4l-0.1 4l0.6 4l0.3 1l1 3l1.9 4l1.1 1.8l1.5 2.2l2.5 3.6l0.3 0.4l2.6 4l1.1 2.3l0.8 1.7l1 4l0.3 4l-0.4 4l-0.9 4l-0.8 2.2l-0.7 1.8l-2.1 4l-1.2 2.1l-1.3 1.9l-2.7 3.8l-0.2 0.2l-3.2 4l-0.6 0.7l-2.6 3.3l-1.4 1.8l-1.6 2.2l-2.4 3.5l-2.7 4.5l-1.3 2.3l-0.8 1.7l-2 4l-1.2 2.5l-0.7 1.5l-2 4l-1.3 2.1l-1 1.9l-3 4l-3.7 4l-0.3 0.2l-4 3.5l-0.3 0.3l-3.7 2.7l-1.7 1.3l-2.3 1.5l-3.5 2.5l-0.5 0.3l-4 2.9l-1 0.8l-3 2.3l-1.9 1.7l-2.1 1.8l-4 4l-2 2.2l-2 2.1l-1.6 1.9l-2.4 2.8l-1 1.2l-3 3.8l-0.2 0.2l-3.1 4l-0.7 1l-2.2 3l-1.8 2.5l-1.1 1.5l-2.8 4l-0.1 0.1l-2.9 3.9l-1.1 1.6l-2.1 2.4l-1.9 2.3l-2.2 1.7l-1.8 1.5l-4 1.5v-467z"/>
<path fill="#ff3900" d="M255.8 50.4l-0.1 4v4l-0.1 4v4l0.3 12l0.2 4v0.5l0.2 3.5l0.1 4l0.2 4l0.3 12l-0.1 4v4l-0.1 4v4l-0.2 8v4l0.1 4v4l0.2 4l0.4 4l0.6 4l1 4l1.3 3l0.6 1l3.4 3.9l0.2 0.1l3.8 1.8l4 0.8l4-0.1l4-0.7l4-1.3l1.2-0.5l2.8-1.3l4-2.1l0.9-0.6l3.1-2.1l2.5-1.9l1.5-1.3l2.8-2.7l1.2-1.3l2.3-2.7l1.7-2.3l1.1-1.7l2.3-4l0.6-1.2l1.3-2.8l1.6-4l1.1-2.9l0.4-1.1l1.2-4l1.1-4l1-4l0.3-1.1l0.6-2.9l0.9-4l2.4-12l0.1-0.4l0.7-3.6l0.9-4l1.1-4l1.3-3.3l0.2-0.7l1.8-4l2-3.3l0.4-0.7l2.7-4l0.9-1l2.2-3l1.8-2.1l1.4-1.9l2.6-3.4l0.4-0.6l2.1-4l1-4h316.8l3.7 3.8l0.2 0.2l3.8 2.6l2.4 1.4l1.6 0.9v58l-4 0.5l-4 0.4l-4 0.2l-4-0.2l-4-0.4l-4-0.7l-4-0.8l-4-1l-3.1-0.9l-0.9-0.3l-4-1.4l-4-1.5l-1.8-0.8l-2.2-1l-6-3l-2-1.2l-4-2.2l-1.2-0.6l-2.8-1.7l-4-2l-0.7-0.3l-3.3-1.6l-4-1.4l-3.4-1l-0.6-0.2l-4-0.8l-4-0.7l-4-0.3l-4-0.2h-4l-4 0.2l-4 0.3l-4 0.6l-4 0.8l-1.4 0.3l-2.6 0.6l-4 1.1l-4 1.3l-2.7 1l-1.3 0.4l-16 6l-4 1.4l-0.4 0.2l-3.6 1.3l-4 1.6l-2.9 1.1l-1.1 0.4l-4 1.8l-3.7 1.8l-0.3 0.1l-4 2.3l-2.4 1.6l-1.6 1.1l-3.5 2.9l-0.5 0.5l-3.4 3.5l-0.6 0.7l-2.4 3.3l-1.6 2.8l-0.7 1.2l-1.5 4l-0.7 4l0.4 4l1.5 4l1 1.5l1.7 2.5l4 4l2.3 1.8l2.8 2.2l1.2 0.8l4 2.7l4 2.5l3.3 2l0.7 0.4l4 2.5l1.9 1.1l2.1 1.3l4 2.5l0.3 0.2l3.7 2.5l2.4 1.5l1.6 1.1l4 2.6l0.5 0.3l3.5 2.4l2.8 1.6l1.2 0.8l4 2.3l1.8 0.9l2.2 1.3l4 2.3l0.7 0.4l3.3 2.3l2.2 1.7l1.8 1.9l1.7 2.1l2 4l0.3 1.7l0.3 2.3l-0.3 2.3l-0.3 1.7l-2.1 4l-1.6 1.6l-3.4 2.4l-0.6 0.3l-4 0.8l-4-0.1l-4-0.9l-4-2l-3.8-2.1l-0.2-0.1l-4-2.8l-1.8-1.1l-2.2-1.4l-4-2.2l-1-0.4l-3-1.3l-4-1.2l-4-0.8l-4-0.3l-4-0.1l-4 0.2l-4 0.5l-4 0.7l-4 1.2l-2.7 1.1l-1.3 0.5l-4 2l-4 2.5l-4 3l-4 3.1l-1.1 0.9l-2.9 2.2l-2.3 1.8l-1.7 1.1l-4 2.7l-0.4 0.2l-3.6 2l-4 2h-0.1l-3.9 1.6l-4 1.6l-2.4 0.8l-1.6 0.6l-4 1.3l-4 1.4l-1.9 0.7l-2.1 0.9l-4 1.7l-2.8 1.4l-1.2 0.8l-4 2.9l-0.4 0.3l-3.4 4l-0.2 0.4l-2.2 3.6l-1.2 4l-0.6 3.1l-0.3 0.9l-3 8l-0.7 1.5l-4 2.4l-1.8-3.9l-2-8l-0.2-0.5l-0.8-3.5l-1.5-4l-1.7-3l-0.5-1l-2.6-4l-0.9-1.3l-2.1-2.7l-1.9-2.3l-1.7-1.7l-2.3-2.2l-2.9-1.8l-1.1-0.6l-4-1l-4 0.1l-4 0.9l-1.4 0.6l-2.6 1l-4 1.9l-4 2l-4 1.9l-2.4 1.2l-1.6 0.7l-4 1.7l-4 1.5l-0.3 0.1l-3.7 1.3l-4 1.4l-3.7 1.3l-0.3 0.1l-4 1.7l-4 1.9l-0.6 0.3l-3.4 2.1l-2.5 1.9l-1.5 1.3l-2.6 2.7l-1.4 1.6l-1.7 2.4l-2.3 3.6l-0.2 0.4l-2.1 4l-1.7 3.1l-0.5 0.9l-2.3 4l-1.2 1.9l-1.4 2.1l-2.6 3.1l-0.9 0.9l-3.1 2.8l-1.7 1.2l-2.3 1.5l-4 1.9l-4 1.5l-4 1l-4 0.8l-4 0.6l-4 0.5l-2.4 0.2l-1.6 0.2l-4 0.4l-4 0.6l-4 0.7l-4 0.9l-4 1.2l-4 1.9l-3.3 2.1l-0.7 0.6l-3.3 3.4l-0.7 1l-1.8 3l-1.6 4l-0.6 2.5l-0.4 1.5l-0.4 4v4l0.3 4l0.5 2.9l0.2 1.1l1.1 4l1.2 4l1.4 4l0.1 0.4l1.3 3.6l1 4l0.5 4l-0.1 4l-0.9 4l-1.4 4l-0.4 0.7l-1.5 3.3l-2.1 4l-0.4 0.7l-1.6 3.3l-2.1 4l-0.3 0.5l-1.7 3.5l-1.9 4l-0.4 0.8l-1.4 3.2l-1.6 4l-1 2.9l-0.4 1.1l-1.2 4l-1.1 4l-1.3 3.6l-0.1 0.4l-1.8 4l-2.1 3.2l-0.5 0.8l-3.4 4l-0.1 0.1l-4 3.6l-0.3 0.3l-3.7 2.9l-1.4 1.1l-2.6 1.9l-4 3l-3.9 3.1l-0.1 0.1l-4 3.5l-0.4 0.4l-3.6 3.5l-0.4 0.5l-3.6 3.9l-0.1 0.1l-3.4 4l-0.5 0.6l-2.8 3.4l-1.2 1.5l-2.1 2.5l-1.9 2.5l-1.2 1.5l-2.8 3.8l-0.2 0.2l-3 4l-0.8 1.2l-2.2 2.8l-1.8 2.5l-1.3 1.5l-2.7 3.1l-1.2 0.9l-2.8 2.3l-4 1.4v-463.7z"/>
<path fill="#ff2d00" d="M247.7 50.4v8l-0.1 4v4l0.4 16l0.1 1.3l0.1 2.7l0.2 4l0.1 4l0.2 4l0.2 8v16l-0.1 4v20l0.2 4l0.3 4l0.6 4l1 4l1.2 2.9l0.5 1.1l2.9 4l0.6 0.6l4 2.9l1.1 0.5l2.9 1.1l4 0.7l4 0.1l4-0.4l4-0.9l2-0.6l2-0.7l4-1.7l4-2l4-2.5l1.6-1.1l2.4-1.8l2.7-2.2l1.3-1.2l2.8-2.8l1.2-1.3l2.2-2.7l1.8-2.5l1-1.5l2.4-4l0.6-1.1l1.4-2.9l1.7-4l0.9-2.2l0.7-1.8l2.6-8l0.7-2.1l0.6-1.9l2.2-8l1.2-4v-0.1l1-3.9l1.1-4l1.3-4l0.6-1.9l0.7-2.1l1.4-4l1.6-4l0.3-0.5l1.5-3.5l2.2-4l0.3-0.5l2-3.5l2-2.9l0.7-1.1l2.8-4l0.5-0.6l2.4-3.4l1.6-2.3l1.2-1.7l1.9-4l0.9-3.5l0.1-0.5h295.4l0.5 0.4l4 2.9l0.9 0.7l3.1 1.3l4 2l1 0.7l3 1.7l3.1 2.3l0.9 0.7l4 2.8v47.3l-4 0.9l-1 0.3l-3 0.6l-4 0.5l-4 0.1l-4-0.3l-4-0.6l-1.7-0.3l-2.3-0.5l-4-1l-4-1.2l-3.6-1.3l-0.4-0.2l-4-1.7l-4-1.9l-0.5-0.2l-7-4l-0.5-0.3l-4-2.5l-2.1-1.2l-1.9-1.2l-4-2.1l-1.7-0.7l-2.3-1.1l-4-1.3l-4-1l-3.2-0.6l-0.8-0.1l-4-0.6l-4-0.3l-4-0.1h-4l-4 0.1l-4 0.3l-4 0.5l-1 0.2l-3 0.5l-4 0.9l-4 1l-4 1.3l-0.8 0.3l-3.2 1.1l-4 1.5l-3.7 1.4l-0.3 0.1l-8 3l-2.5 0.9l-1.5 0.5l-4 1.5l-4 1.4l-1.5 0.6l-2.5 0.9l-4 1.6l-3.5 1.5l-0.5 0.2l-4 2l-3.2 1.8l-0.8 0.5l-5 3.5l-3 2.6l-1.5 1.4l-2.5 2.7l-1.1 1.3l-2.9 3.9l-0.1 0.1l-2.3 4l-1.6 3.8l-0.1 0.2l-0.9 4v4l1 3.3l0.2 0.7l2.5 4l4 4l1.3 1.1l3.8 2.9l0.2 0.1l4 2.8l1.7 1.1l2.3 1.4l4 2.4l0.3 0.2l3.7 2.2l4 2.4l4 2.5l1.5 0.9l2.5 1.7l3.4 2.3l0.6 0.5l4 2.9l0.8 0.6l3.2 2.6l2.1 1.4l1.9 1.6l3.5 2.4l0.5 0.4l4 2.6l1.8 1l2.2 1.4l4 2.4l0.3 0.2l3.7 2.9l1.2 1.1l2.8 3.8l0.1 0.2l0.8 4l-0.9 3.6l-0.2 0.4l-3.8 2.9l-4 0.5l-4-1l-4-1.9l-0.8-0.5l-3.2-2.2l-2.8-1.8l-1.2-0.8l-4-2.3l-2.1-0.9l-1.9-0.9l-4-1.2l-4-0.7l-4-0.4l-4-0.1l-4 0.1l-4 0.3l-4 0.6l-4 0.9l-4 1.2l-0.4 0.2l-3.6 1.3l-4 2.1l-0.9 0.6l-3.1 1.9l-2.7 2.1l-1.3 1l-3.5 3l-0.5 0.4l-4 3.4l-0.3 0.2l-3.7 2.9l-1.5 1.1l-2.5 1.6l-3.8 2.4l-4.2 2.1l-4 1.8l-0.3 0.1l-3.7 1.3l-4 1.4l-4 1.2l-0.4 0.1l-3.6 1l-8 2.4l-2.1 0.6l-1.9 0.7l-4 1.5l-4 1.4l-1.8 0.4l-2.2 0.8l-4 0.3l-2.8-1.1l-1.2-0.5l-4-3.3l-0.2-0.2l-3.5-4l-0.3-0.4l-3-3.6l-1-1.1l-2.9-2.9l-1.1-0.9l-4-2.4l-2.5-0.7l-1.5-0.4l-4-0.1l-3 0.5l-1 0.2l-4 1.3l-4 1.9l-0.9 0.6l-3.1 1.9l-3.2 2.1l-0.8 0.5l-4 2.8l-1.1 0.7l-2.9 1.8l-3.6 2.2l-0.4 0.2l-4 2.1l-3.7 1.7l-0.3 0.1l-4 1.8l-4 1.7l-0.8 0.4l-3.2 1.4l-4 2l-4 2.4l-3 2.2l-1 0.7l-3.5 3.3l-0.5 0.6l-2.7 3.4l-1.3 1.8l-1.3 2.2l-2.3 4l-0.4 0.7l-1.7 3.3l-2.3 4l-2.5 4l-1.5 2l-1.7 2l-2.3 2.4l-1.9 1.6l-2.1 1.6l-4 2.3l-0.3 0.1l-3.7 1.6l-4 1.2l-4 0.8l-2.7 0.4l-1.3 0.2l-4 0.5l-4 0.4l-4 0.3l-4 0.4l-4 0.5l-4 0.6l-4 0.8l-1.1 0.3l-2.9 1l-4 1.7l-2.3 1.3l-1.7 1.2l-3.2 2.8l-0.8 0.9l-2.3 3.1l-1.7 3l-0.5 1l-1.5 4l-1 4l-0.7 4l-0.3 3.2l-0.1 0.8l-0.1 4v4l0.1 4l0.1 3.7v0.3l0.2 4l0.1 4l-0.1 4l-0.2 4v0.3l-0.3 3.7l-0.5 4l-0.7 4l-0.8 4l-1 4l-0.7 2.3l-0.4 1.7l-1.2 4l-1.4 4l-1 2.9l-0.4 1.1l-1.3 4l-1.2 4l-0.8 4l-0.3 2.6l-0.2 1.4l-0.4 4l-0.7 4l-1.3 4l-1.4 2.5l-0.7 1.5l-3.2 4l-0.1 0.1l-4 3.9l-4 3.3l-0.8 0.7l-3.2 2.5l-1.8 1.5l-2.2 1.7l-2.5 2.3l-1.5 1.3l-4 4l-2.5 2.7l-1.5 1.7l-2 2.3l-2 2.4l-1.4 1.6l-2.6 3.2l-0.7 0.8l-3.2 4l-0.1 0.1l-3.1 3.9l-0.9 1.2l-2.2 2.8l-1.8 2.4l-1.3 1.6l-2.7 3.5l-0.5 0.5l-3.5 4l-4 3.1l-4 1.5v-460.6z"/>
<path fill="#ff2000" d="M239.8 50.4l-0.1 4v16l0.4 16v0.1l0.1 3.9l0.3 12v4l0.1 4v12l-0.1 4v20l0.1 4l0.3 4l0.5 4l0.8 4l1.4 4l0.5 1.1l1.5 2.9l2.5 3.2l0.7 0.8l3.3 2.6l2.1 1.4l1.9 0.9l4 1.4l4 0.9l4 0.4l4-0.1l4-0.5l4-0.9l4-1.2l2.6-0.9l1.4-0.6l4-1.8l2.9-1.6l1.1-0.6l4-2.6l1.1-0.8l2.9-2.2l2.1-1.8l1.9-1.8l2.1-2.2l1.9-2.1l1.5-1.9l2.5-3.4l0.4-0.6l2.4-4l1.2-2.3l0.8-1.7l1.8-4l1.4-3.3l0.3-0.7l1.4-4l1.3-4l1-2.9l0.4-1.1l2.4-8l1.2-3.9v-0.1l1.2-4l2.6-8l0.2-0.6l1.1-3.4l1.5-4l1.4-3.2l0.3-0.8l1.8-4l1.9-3.7l0.2-0.3l2.2-4l1.6-2.5l0.9-1.5l2.8-4l3-4l1.3-1.8l1.7-2.2l2.3-3.3l0.5-0.7l2.1-4l1.1-4h273.5l2.8 2.2l2.6 1.8l1.4 0.4l8 2.6l2.8 1l1.2 0.3l4 1.4l4 1.9l0.6 0.4l3.4 2.4l1.8 1.6l2.2 2.4l1.9 1.6l2.1 2.2v35.9l-4 1.6l-0.7 0.3l-3.3 1.1l-4 0.9l-4 0.3l-4-0.1l-4-0.5l-4-0.7l-4-1l-4-1.4l-4-1.5l-2.5-1.1l-1.5-0.7l-4-2.2l-1.9-1.1l-2.1-1.4l-4-2.6l-4-2.8l-2.1-1.2l-1.9-1.3l-4-2l-1.7-0.7l-2.3-1l-4-1.2l-4-0.8l-4-0.5l-4-0.4l-4-0.2l-8-0.2l-4 0.2l-2.1 0.1l-1.9 0.1l-4 0.4l-4 0.6l-4 0.8l-4 1.1l-3.2 1l-0.8 0.3l-4 1.3l-4 1.6l-2.1 0.8l-1.9 0.7l-4 1.5l-4 1.6l-0.7 0.2l-3.3 1.2l-4 1.4l-3.9 1.4h-0.1l-4 1.4l-4 1.5l-2.9 1.1l-1.1 0.4l-4 1.8l-3.7 1.8l-0.3 0.2l-4 2.3l-2.2 1.5l-1.8 1.3l-3.3 2.7l-0.7 0.6l-4 4l-2.9 3.4l-1.1 1.5l-1.9 2.5l-2.1 3.4l-0.4 0.6l-2 4l-1.4 4l-0.5 4l0.3 2.3l0.3 1.7l2 4l1.7 1.8l2.1 2.2l1.9 1.4l3.4 2.6l0.6 0.4l4 2.5l1.7 1.1l2.3 1.4l4 2.3l0.4 0.3l3.6 2.1l3.3 1.9l0.7 0.4l4 2.5l1.9 1.1l2.1 1.5l3.8 2.5l0.2 0.2l4 3.3l0.7 0.5l3.3 3.4l0.6 0.6l2.9 4l0.5 2.3l0.6 1.7l-0.6 0.6l-4 2l-4 0.7l-4 0.5l-1.2 0.2l-2.8 0.2l-4 0.5l-4 0.6l-4 0.7l-4 1.1l-2.8 0.9l-1.2 0.3l-4 1.6l-4 2.1l-4 2.5l-1.8 1.5l-2.2 1.7l-2.5 2.3l-1.5 1.2l-2.9 2.8l-1.1 0.9l-3.5 3.1l-0.5 0.4l-4 3.1l-4 2.5l-3.5 2l-0.5 0.2l-4 1.8l-4 1.5l-1.7 0.5l-2.3 0.7l-4 1.1l-8 1.8l-2.4 0.4l-1.6 0.3l-4 0.7l-4 0.4l-4 0.1l-4-0.7l-2.1-0.8l-1.9-0.9l-3.8-3.1l-0.2-0.2l-3.3-3.8l-0.7-0.9l-2.5-3.1l-1.5-1.7l-2.4-2.3l-1.6-1.3l-4-2.2l-1.7-0.5l-2.3-0.6l-4-0.3l-4 0.3l-3.1 0.6l-0.9 0.2l-4 1.3l-4 1.8l-1.2 0.7l-2.8 1.6l-3.5 2.4l-0.5 0.4l-4 3l-0.7 0.6l-3.3 2.6l-1.8 1.4l-2.2 1.6l-3.5 2.4l-0.5 0.3l-4 2.5l-2.1 1.2l-1.9 1l-4 2.1l-1.7 0.9l-2.3 1.2l-4 2.1l-1.1 0.7l-2.9 1.8l-3.2 2.2l-0.8 0.6l-3.9 3.4l-0.1 0.1l-3.4 3.9l-0.6 0.7l-2.2 3.3l-1.8 2.9l-0.6 1.1l-2.2 4l-1.2 2.2l-1 1.8l-2.3 4l-0.7 1l-2.2 3l-1.8 2.1l-1.9 1.9l-2.1 1.8l-3.2 2.2l-0.8 0.5l-4 1.9l-4 1.3l-1.1 0.3l-2.9 0.7l-4 0.7l-8 0.8l-4 0.2l-8 0.6l-4 0.4l-4 0.6h-0.2l-3.8 0.9l-4 1.2l-4 1.6l-0.5 0.3l-3.5 2.2l-2.4 1.8l-1.6 1.6l-2.1 2.4l-1.9 2.8l-0.7 1.2l-1.9 4l-1.4 4v0.1l-1 3.9l-0.7 4l-0.6 4l-0.4 4l-0.3 4l-0.2 4l-0.1 4l-0.6 12l-0.1 0.8l-0.2 3.2l-0.3 4l-0.4 4l-0.5 4l-0.7 4l-0.8 4l-1 4l-0.1 0.5l-0.9 3.5l-1.3 4l-1.8 4.8l-1.1 3.2l-1 4l-0.4 4l0.1 4l0.2 4l-0.1 4l-0.8 4l-0.9 2l-0.8 2l-2.8 4l-0.4 0.4l-3.5 3.6l-0.5 0.4l-4 3.6l-4 3.3l-0.7 0.7l-3.3 2.9l-1 1.1l-3 3l-0.9 1l-3.1 3.4l-0.5 0.6l-3.4 4l-0.1 0.1l-3.2 3.9l-0.8 1l-4 4.8l-1.8 2.2l-2.2 2.7l-1.1 1.3l-2.9 3.7l-0.2 0.3l-3.3 4l-0.5 0.7l-3.1 3.3l-0.9 1l-3.9 3l-0.1 0.1l-4 1.5v-457.6z"/>
<path fill="#ff1300" d="M156.6 50.4l-0.5 1.2l-2.6 2.8l-1.4 0.9l-4 0.3l-3.6-1.2l-0.4-0.3l-4-3.6l-0.2-0.1zM229 50.4v4l-0.1 4v16l0.1 4v8l0.1 4v4l-0.1 4v4l-0.4 16l-0.2 4l-0.1 4v8l0.1 4l0.2 4l0.3 4l0.5 4l0.6 4l1 4l1.1 3.5l0.1 0.5l1.5 4l2.2 4l0.2 0.3l2.6 3.7l4 4l1.4 1l4 2.5l0.9 0.5l3.1 1.3l4 1.3l4 0.9l3.5 0.5l0.5 0.1l4 0.1l4-0.1l0.7-0.1l3.3-0.4l4-0.7l4-1.1l4-1.2l4-1.6l4-1.9l2-1.1l2-1.2l4-2.6l0.3-0.2l3.7-2.9l1.3-1.1l2.7-2.6l1.3-1.4l2.7-3.1l0.7-0.9l2.8-4l0.5-0.8l1.9-3.2l2.1-4l1.8-4l2.2-5.5l0.9-2.5l1.4-4l1.3-4l0.4-1.3l0.8-2.7l1.3-4l1.2-4l0.7-2.1l0.6-1.9l1.2-4l1.4-4l0.8-2.3l0.6-1.7l1.4-4l1.7-4l0.3-0.6l1.5-3.4l2-4l0.5-0.9l1.7-3.1l2.3-3.7l0.2-0.3l2.7-4l1.1-1.5l1.9-2.5l2.1-2.7l1.1-1.3l2.9-3.6l0.4-0.4l3.1-4l0.5-0.9l1.8-3.1l1.2-4h249.2l3.8 4l4 1.7l4 1.3l4 1h0.1l3.9 0.7l4 0.6l8 1.6l3.9 1.1h0.1l4 1.5l4 2.2l0.3 0.3l3.7 3.4l0.6 0.6l2.9 4l0.5 1l2.3 3l1.7 2.9v20.5l-0.5 0.6l-3.5 2.5l-1.9 1.5l-2.1 1.2l-4 1.5l-4 0.6l-4 0.1l-4-0.4l-4-0.8l-4-1l-3.6-1.2l-0.4-0.2l-4-1.8l-4-2h-0.1l-3.9-2.6l-2.2-1.4l-1.8-1.5l-3.4-2.5l-0.6-0.5l-4-3.1l-0.7-0.4l-3.3-2.3l-3.7-1.7l-0.3-0.2l-4-1.4l-4-0.9l-4-0.5l-4-0.4l-4-0.1l-4-0.2h-12l-4 0.2l-4 0.3l-4 0.6l-4 0.7l-4 1.1l-2.3 0.8l-1.7 0.5l-4 1.5l-4 1.6l-0.9 0.4l-3.1 1.2l-8 3.2l-4 1.4l-4 1.5l-2.2 0.7l-1.8 0.6l-4 1.3l-4 1.4l-2.1 0.7l-1.9 0.7l-4 1.5l-4 1.7l-0.1 0.1l-3.9 2l-3.4 2l-0.6 0.4l-4 2.8l-1 0.8l-3 2.6l-1.5 1.4l-2.5 2.6l-1.4 1.4l-2.6 3.1l-0.8 0.9l-3.1 4l-0.1 0.1l-2.7 3.9l-1.3 2.2l-1.1 1.8l-1.9 4l-1 3.5l-0.2 0.5l-0.3 4l0.5 2.3l0.4 1.7l2.6 4l1 0.9l4 3.1l4 2.3l3.1 1.7l0.9 0.5l4 2l2.7 1.5l1.3 0.7l4 2.1l2.1 1.2l1.9 1.1l4 2.3l1 0.6l3 2.1l2.8 1.9l1.2 1.1l3.2 2.9l0.8 1.3l1.7 2.7l-0.7 4l-1 0.7l-4 2.1l-2.6 1.2l-1.4 0.4l-4 1.1l-4 1.2l-3.2 1.3l-0.8 0.3l-4 1.6l-3.8 2.1l-0.2 0.1l-4 2.6l-1.6 1.3l-2.4 1.9l-2.1 2.1l-1.9 1.7l-2.2 2.3l-1.8 1.7l-2.3 2.3l-1.7 1.5l-2.8 2.5l-1.2 0.9l-4 2.9l-0.2 0.2l-3.8 2.1l-3.9 1.9h-0.1l-4 1.5l-4 1.1l-4 1l-4 0.8l-4 0.5l-4 0.3h-4l-4-0.4l-3.2-0.8l-0.8-0.3l-4-2.2l-1.8-1.5l-2.2-2.4l-1.3-1.6l-2.7-3.9v-0.1l-3-4l-1-1.3l-3-2.7l-1-0.8l-4-2l-4-1l-4-0.4l-4 0.2h-0.4l-3.6 0.5l-4 0.9l-4 1.2l-3.4 1.4l-4.6 2.3l-2.7 1.7l-1.3 0.8l-4 3l-0.3 0.2l-3.7 3.1l-1 0.9l-3 2.5l-1.7 1.5l-2.3 1.9l-2.6 2.1l-1.4 1l-4 2.8l-0.3 0.2l-3.7 2.4l-2.6 1.6l-1.4 0.8l-4 2.4l-1.2 0.8l-2.8 1.8l-3.2 2.2l-0.8 0.6l-4 3.3l-0.1 0.1l-3.8 4l-0.1 0.1l-2.9 3.9l-1.1 1.6l-1.5 2.4l-2.2 4l-0.3 0.6l-1.8 3.4l-2.2 3.9l-0.1 0.1l-2.6 4l-1.3 1.7l-2 2.3l-2 2l-2.5 2l-1.5 1.1l-4 2.2l-1.8 0.7l-2.2 0.8l-4 1.1l-4 0.7l-4 0.5l-4 0.3l-8 0.4l-4 0.1l-1.2 0.1l-2.8 0.2l-4 0.4l-4 0.5l-4 0.9l-4 1.1l-2.2 0.9l-1.8 0.8l-4 2.3l-1.2 0.9l-2.8 2.5l-1.5 1.5l-2.5 3.3l-0.5 0.7l-2.2 4l-1.3 3.2l-0.3 0.8l-1.3 4l-0.9 4l-0.8 4l-0.6 4l-0.1 1.1l-0.3 2.9l-0.6 8l-0.6 12l-0.3 4l-0.2 4l-0.8 8l-0.5 4l-0.6 4l-0.1 0.4l-0.7 3.6l-0.9 4l-1.3 4l-1.1 3l-2 5l-1.5 4l-0.5 1.9l-0.5 2.1l-0.3 4l0.5 4l0.3 1.4l0.5 2.6l0.5 4l-0.3 4l-0.7 1.8l-0.7 2.2l-2.6 4l-3.5 4l-1.2 1l-3.1 3l-0.9 0.8l-3.4 3.2l-0.6 0.5l-3.4 3.5l-0.6 0.6l-3 3.4l-1 1.1l-2.4 2.9l-1.6 1.9l-1.7 2.1l-2.3 2.7l-1 1.3l-3 3.6l-0.4 0.4l-3.3 4l-0.3 0.3l-3.1 3.7l-0.9 1.2l-2.5 2.8l-1.5 1.9l-4 4.2l-2.5 1.9l-1.5 1.2l-4 1.4v-358h4l4 0.1h4l16-0.4h4l4 0.1l4 0.4l8 1l4 0.6l4 0.4l4 0.2l4-0.1l4-0.5l4-1.1l2.8-1.3l1.2-0.8l3.5-3.2l0.5-0.8l1.8-3.2l1-4l0.2-4l-0.4-4l-1-4l-1.4-4l-0.2-0.4l-1.6-3.6l-1.9-4l-0.5-1.2l-1.5-2.8l-1.6-4l-0.9-3.7l-0.1-0.3l-0.5-4l0.4-4l0.2-1.1l0.4-2.9l0.7-4l0.8-4l0.7-4l0.5-4l0.2-4l-0.2-4l-1-8l-0.3-4zM144.1 77.7l4-1.1l4 0.2l3.1 1.6l0.9 0.4l3.8 3.6l0.2 0.2l2.7 3.8l1.3 2.6l0.6 1.4l0.7 4l-1 4l-0.3 0.5l-3.1 3.5l-0.9 0.6l-4 1.8l-4 0.9l-4 0.1l-4-0.5l-8-1.4l-4-0.4h-4l-4 0.2l-4 0.3v-23.5l4 0.5l4 0.6h4l4-0.9l4-1.4l2.2-0.9z"/>
<path fill="#ff0600" d="M561.4 50.4l2.7 2.1l4 1.3h4l4-0.6l4-0.8l4-0.7l4-0.3l4 0.3l4 1l3.4 1.7l0.6 0.2l4 1.6l4 2l0.3 0.2l3.7 1.8l4 1.6l2.5 0.6l1.5 0.4l4 0.5l4 0.1h8l4 0.2l4 0.3l4 0.4l4 0.8l4 1l0.7 0.3l3.3 1.5l3.6 2.5l0.4 0.4l3.1 3.6l0.9 1.5l1.4 2.5l1.6 4l1 3.7l0.1 0.3l0.7 4l-0.3 4l-0.5 1.2l-0.9 2.8l-2.9 4l-0.2 0.1l-4 2.6l-4 1.2l-0.6 0.1l-3.4 0.2l-4-0.2l-4-0.8l-4-1.2l-4-1.4l-1.2-0.6l-2.8-1.5l-4-2.4l-0.1-0.1l-3.9-3.1l-1.1-0.9l-2.9-2.9l-1.3-1.1l-2.7-2.9l-1.3-1.1l-2.7-2.7l-2.1-1.3l-1.9-1.4l-4-1.6l-4-0.7l-4-0.2l-4-0.1h-4l-4 0.1h-16l-4 0.1l-4 0.2l-4 0.5l-4 0.8l-4 1.2l-2.8 1.1l-1.2 0.4l-4 1.6l-4 1.8l-0.4 0.2l-3.6 1.5l-4 1.8l-1.8 0.7l-2.2 0.9l-4 1.5l-4 1.4l-0.5 0.2l-3.5 1.2l-4 1.2l-4 1.3l-1.1 0.3l-2.9 0.9l-4 1.3l-4 1.5l-0.7 0.3l-3.3 1.5l-4 2.1l-0.7 0.4l-3.3 2.1l-2.6 1.9l-1.4 1.1l-3.4 2.9l-0.6 0.6l-3.5 3.4l-0.5 0.5l-3.3 3.5l-3.5 4l-1.2 1.5l-2.1 2.5l-1.9 2.6l-1 1.4l-2.7 4l-0.3 0.6l-1.9 3.4l-1.7 4l-1 4l-0.3 4l0.6 4l0.3 0.7l1.9 3.3l2.1 2l2.8 2l1.2 0.6l4 1.8l3.9 1.6h0.1l4 1.6l4 1.7l1.6 0.7l2.4 1.1l4 2.1l1.5 0.8l2.5 1.6l3.6 2.4l0.4 0.4l3.5 3.6l0.5 2.4l0.3 1.6l-0.3 0.4l-3.3 3.6l-0.7 0.4l-4 2l-2.5 1.6l-1.5 0.7l-4 2.3l-1.2 1l-2.8 1.9l-4 3.5l-2.5 2.6l-1.5 1.4l-2.2 2.6l-1.8 1.9l-1.8 2.1l-2.2 2.2l-1.7 1.8l-4.6 4l-1.7 1.2l-4 2.7l-0.2 0.1l-3.8 1.8l-4 1.5l-2.2 0.7l-1.8 0.5l-4 0.8l-4 0.5l-4 0.2l-4-0.1l-4-0.7l-3.7-1.2l-0.3-0.1l-4-2.8l-1.2-1.1l-2.8-3.8l-0.2-0.2l-2.2-4l-1.6-3.2l-0.5-0.8l-2.6-4l-0.9-1.2l-3.4-2.8l-0.6-0.4l-4-1.6l-4-0.7l-4-0.3l-4 0.1l-4 0.5l-4 0.6l-4 0.9l-3.3 0.9l-0.7 0.2l-4 1.4l-4 1.8l-1.1 0.6l-2.9 1.6l-3.6 2.4l-0.4 0.3l-4 3.1l-0.7 0.6l-3.3 3l-1 1l-3 2.8l-1.2 1.2l-2.8 2.5l-1.5 1.5l-2.5 2l-2.3 2l-1.7 1.2l-3.7 2.8l-0.3 0.2l-4 2.8l-1.4 1l-2.6 1.7l-3.1 2.3l-0.9 0.7l-4 3.2l-0.1 0.1l-3.9 3.8l-0.2 0.2l-3.3 4l-0.5 0.7l-2.2 3.3l-1.8 3.1l-0.5 0.9l-2.1 4l-1.4 2.6l-0.8 1.4l-2.4 4l-0.8 1.2l-2.1 2.8l-1.9 2.2l-1.9 1.8l-2.1 1.7l-3.6 2.3l-0.4 0.2l-4 1.7l-4 1.2l-4 0.8l-4 0.5l-4 0.3l-4 0.2l-4 0.1h-4l-4 0.1l-4 0.2l-4 0.3l-4 0.5l-4 0.8l-3.9 1.1h-0.1l-4 1.7l-4 2.2l-0.1 0.1l-3.9 3.2l-0.8 0.8l-3.2 3.9l-0.1 0.1l-2.4 4l-1.5 3.2l-0.4 0.8l-1.4 4l-1.1 4l-0.9 4l-0.2 1.3l-0.5 2.7l-0.5 4l-0.4 4l-0.6 8l-0.2 4l-0.1 4l-0.4 8l-0.6 8l-0.4 4l-0.3 2.5l-0.2 1.5l-0.6 4l-0.9 4l-1 4l-1.3 3.6l-0.1 0.4l-3.4 8l-0.5 1.1l-1.1 2.9l-1 4l-0.2 4l0.7 4l1.1 4l0.5 2.1l0.4 1.9l0.1 4l-0.5 1.9l-0.5 2.1l-2.3 4l-1.2 1.4l-2.1 2.6l-1.9 1.8l-2 2.2l-2 1.9l-4 4.2l-1.7 1.9l-2.3 2.7l-1.1 1.3l-2.9 3.6l-0.3 0.4l-3.3 4l-0.4 0.5l-2.9 3.5l-1.1 1.3l-2.3 2.7l-1.7 2l-1.8 2l-2.2 2.7l-1.2 1.3l-2.8 3.2l-0.8 0.8l-3.2 3.3l-1 0.7l-3 2.3l-4 1.4v-334.3h4l24-1.2l8-0.2h4l4 0.1l4 0.2l4 0.1l4 0.2l8 0.2h4l4-0.1l4-0.2l4-0.3l2.9-0.2l1.1-0.1h4l4 0.4l4 1.2l4 2.3l0.3 0.2l3.7 2.7l1.4 1.3l2.6 1.9l2.4 2.1l1.6 1l4 2.8l0.3 0.2l3.7 1.9l4 1.9l0.5 0.2l3.5 1.2l4 1.1l4 0.8l4 0.6l3.2 0.3l0.8 0.1h4l4-0.1h0.2l3.8-0.4l4-0.5l4-0.8l4-1.1l3.9-1.2h0.1l4-1.6l4-1.8l1.1-0.6l2.9-1.6l3.6-2.4l0.4-0.3l4-3.1l0.7-0.6l4-4l3.3-4v-0.1l2.7-3.9l1.3-2.2l1-1.8l2.1-4l0.9-2l2.4-6l1.5-4l0.1-0.3l1.2-3.7l2.6-8l0.2-0.7l1-3.3l2.4-8l0.6-1.7l0.7-2.3l1.3-4l1.4-4l1.5-4l1.6-4l1.5-3.4l0.3-0.6l1.9-4l1.8-3.3l0.4-0.7l2.4-4l1.2-1.8l1.5-2.2l2.5-3.3l0.5-0.7l3.3-4l0.2-0.3l3.2-3.7l0.8-0.9l2.9-3.1l1.1-1.3l2.4-2.7l1.6-2.4l1.1-1.6l1.4-4z"/>
<path fill="#f90000" d="M551.8 50.4l0.3 1.2l1 2.8l3 4l4 2.7l4 1.2l2 0.1l2 0.3l3.7-0.3h0.3l8-0.6h4l4 0.4l1.1 0.2l2.9 1.4l3.6 2.6l-3 4l-0.6 0.2l-4 0.8l-4 0.5l-4 0.1h-4l-4-0.2l-4-0.1l-4 0.2l-4 0.8l-4 1.5l-0.3 0.2l-3.7 1.4l-4 2l-1 0.6l-3 1.5l-4 2.1l-0.7 0.4l-3.3 1.6l-4 1.9l-1 0.5l-3 1.3l-4 1.6l-3 1.1l-1 0.4l-4 1.3l-4 1.2l-12 3.3l-4 1.3l-1.5 0.5l-2.5 0.9l-4 1.8l-2.3 1.3l-1.7 0.9l-4 2.7l-4 3.2l-1.3 1.2l-2.7 2.5l-1.6 1.5l-2.4 2.5l-1.5 1.5l-2.5 2.7l-1.2 1.3l-2.8 3.1l-0.8 0.9l-3.2 3.9l-0.1 0.1l-3.9 5.2l-1.8 2.8l-2.2 3.7l-0.2 0.3l-1.8 4l-1.5 4l-1 4l-0.4 4l0.1 4l0.8 3.4l0.2 0.6l3 4l0.8 0.7l4 2.3l2.6 1l1.4 0.5l4 1.3l4 1.2l3.2 1l0.8 0.3l4 1.7l4 2h0.1l3.9 3.6l0.4 0.4l0.6 4l-1 1.5l-1.4 2.5l-2.6 2.5l-1.2 1.5l-2.8 2.9l-0.8 1.1l-3.2 3.8l-0.1 0.2l-3.1 4l-0.8 0.9l-2.3 3.1l-1.7 2l-1.6 2l-2.4 2.6l-1.4 1.4l-2.6 2.2l-2.2 1.8l-1.8 1.2l-4 2.2l-1.4 0.6l-2.6 1l-4 1l-4 0.7l-4 0.3l-4-0.2l-4-0.7l-4-1.6l-0.9-0.5l-3.1-2.8l-1.1-1.2l-2.3-4l-0.6-1.6l-1-2.4l-1.3-4l-1.4-4l-0.3-0.7l-1.8-3.3l-2.2-2.4l-2.5-1.6l-1.5-0.6l-4-0.9l-4-0.3h-4l-4 0.3l-4 0.4l-4 0.6l-3 0.5l-5 1l-4 1l-4 1.1l-4 1.5l-4 1.7l-3.1 1.7l-0.9 0.5l-4 2.8l-0.9 0.7l-3.1 2.6l-4 4l-1.3 1.4l-2.7 2.9l-0.9 1.1l-3.1 3.3l-0.6 0.7l-4 4l-3.4 3l-1.1 1l-2.9 2.3l-2 1.7l-2 1.5l-3.1 2.5l-0.9 0.7l-4 3.3l-4 3.7l-0.3 0.3l-3.6 4l-0.1 0.1l-2.9 3.9l-1.1 1.8l-1.3 2.2l-2.2 4l-2 4l-2.2 4l-0.3 0.4l-2.4 3.6l-1.6 2.1l-1.7 1.9l-2.3 2.2l-2.4 1.8l-1.6 1.1l-4 1.9l-2.8 1l-1.2 0.4l-4 0.8l-4 0.6l-4 0.3l-4 0.1h-4l-4-0.1h-8l-4 0.1l-4 0.2l-4 0.4l-4 0.7l-2 0.5l-2 0.6l-4 1.5l-3.3 1.9l-0.7 0.4l-4 3.3l-0.3 0.3l-3.4 4l-0.3 0.4l-2.3 3.6l-1.7 3.3l-0.3 0.7l-1.6 4l-1.2 4l-0.9 3.5l-0.9 4.5l-0.6 4l-0.4 4l-0.6 8l-0.2 4l-0.1 4l-0.2 4l-0.1 4l-0.4 8l-0.3 4l-0.2 2.5l-0.1 1.5l-0.5 4l-0.7 4l-0.9 4l-1.2 4l-0.6 1.5l-0.9 2.5l-1.8 4l-1.3 2.8l-0.6 1.2l-1.5 4l-1 4l-0.1 4l0.8 4l1.3 4l1.1 3.8v0.2l0.5 4l-0.5 2.6l-0.2 1.4l-2 4l-1.8 2.2l-1.3 1.8l-3.6 4l-3.1 3.4l-0.5 0.6l-3.4 4l-0.1 0.2l-3.1 3.8l-0.9 1.1l-2.2 2.9l-1.8 2.2l-1.5 1.8l-2.5 3.1l-0.8 0.9l-3.2 3.7l-0.3 0.3l-3.5 4l-0.2 0.2l-3.5 3.8l-0.5 0.6l-3.5 3.4l-0.5 0.5l-4 2.9l-1.8 0.6l-2.2 0.8v-315.5h4l4-0.1l4-0.2l4-0.1l12-0.6l8-0.2h4l8 0.2l8 0.4l8 0.2h4l4-0.1l12-0.6l4 0.1l4 0.2l4 0.6l4 0.8l4 1.1l3.1 1l0.9 0.2l4 1.3l8 2.4l0.3 0.1l3.7 0.9l4 0.8l4 0.7l4 0.5l4 0.4l4 0.3l4 0.1l4-0.1l4-0.3l4-0.4l4-0.6l4-0.7l4-0.9l2.4-0.7l1.6-0.5l4-1.4l4-1.6l4-2l3.9-2.5l0.1-0.1l4-3.1l0.9-0.8l3.1-3.2l0.7-0.8l3.1-4l0.2-0.3l2.3-3.7l1.7-3.1l0.5-0.9l1.8-4l1.7-4l1.5-4l1.4-4l1.1-3.4l0.2-0.6l2.4-8l1.1-4l0.3-0.9l0.9-3.1l2.4-8l0.7-2.1l0.6-1.9l1.3-4l2.1-5.6l1-2.4l1.7-4l1.3-2.8l0.6-1.2l2.1-4l1.3-2.2l1.1-1.8l2.6-4l3-4l1.3-1.6l2-2.4l2-2.3l1.6-1.7l2.4-2.5l4-4l1.6-1.5l2.4-2.5l1.6-1.5l3-4l1.5-4zM632.1 70l4-1l4-0.6l4-0.1l4 0.2l4 0.6l4 1.2l0.2 0.1l3.8 2.3l2 1.7l2 2.4l1 1.6l1.8 4l1 4l0.2 2.7l0.1 1.3l-0.1 0.6l-0.6 3.4l-2 4l-1.4 1.4l-4 2.3l-1.1 0.3l-2.9 0.5l-4-0.1l-2.4-0.4l-1.6-0.3l-4-1.4l-4-1.8l-1-0.5l-3-2.1l-2.5-1.9l-1.5-1.6l-2.3-2.4l-1.7-2.4l-1.2-1.6l-1.9-4l-0.9-3.8l-0.1-0.2l0.1-0.3l0.9-3.7l3.1-2.5l2.6-1.5z"/>
<path fill="#ec0000" d="M546.7 50.4l0.5 4l0.9 3.5l0.2 0.5l1.5 4l0.3 4l-2 3.8l-0.1 0.2l-3.9 3.8l-0.2 0.2l-3.8 2.7l-1.8 1.3l-2.2 1.3l-4 2.2l-0.8 0.5l-3.2 1.5l-4 1.8l-1.9 0.7l-2.1 0.8l-4 1.3l-4 1.2l-4 1l-4 0.9l-8 2l-2.8 0.8l-1.2 0.4l-4 1.4l-4 1.9l-4 2.4l-2.6 1.9l-1.4 1l-3.4 3l-0.6 0.5l-3.6 3.5l-4.4 4.4l-3.4 3.6l-0.6 0.7l-4 4.4l-2.5 2.9l-1.5 1.7l-1.8 2.3l-2.2 2.9l-0.8 1.1l-2.6 4l-0.6 0.9l-1.7 3.1l-2 4l-0.3 0.9l-1.2 3.1l-1.4 4l-1.1 4l-0.3 1.3l-0.6 2.7l-0.6 4l-0.2 4l0.7 4l0.7 1.4l2.3 2.6l1.7 1l4 1.6l4 1.1l1 0.3l3 0.8l4 1.2l4 1.5l1.1 0.5l2.9 2.1l1.8 1.9l1 4l-0.9 4l-1.6 4l-0.3 0.5l-1.7 3.5l-2.2 4l-0.1 0.1l-2.6 3.9l-1.4 1.9l-1.6 2.1l-2.4 2.5l-1.5 1.5l-2.5 1.9l-3 2.1l-1 0.5l-4 1.7l-4 1.1l-4 0.6l-4-0.1l-4-0.8l-4-1.9l-1.6-1.1l-2.4-2.9l-0.8-1.1l-1.6-4l-0.9-4l-0.5-4l-0.2-2.7l-0.1-1.3l-0.4-4l-0.9-4l-2.6-3.3l-1.2-0.7l-2.8-0.9l-4-0.4h-4l-4 0.3l-4 0.4l-4 0.5l-1 0.1l-3 0.4l-8 1.2l-4 0.7l-4 0.6l-4 0.8l-1.7 0.3l-2.3 0.5l-4 0.9l-4 1.1l-3.9 1.5h-0.1l-4 1.9l-3.3 2.1l-0.7 0.5l-4 3.5l-3.5 4l-0.5 0.6l-2.5 3.4l-1.5 2l-1.3 2l-2.7 3.7l-0.2 0.3l-3.2 4l-0.6 0.7l-2.9 3.3l-1.1 1l-3 3l-1 0.8l-3.4 3.2l-0.6 0.5l-4 3.5l-4 3.7l-0.3 0.3l-3.7 3.8l-0.2 0.2l-3.2 4l-0.6 0.8l-2.1 3.2l-1.9 3.3l-0.4 0.7l-2 4l-1.6 3.1l-0.5 0.9l-2.3 4l-1.2 1.8l-1.7 2.2l-2.3 2.5l-1.6 1.5l-2.4 1.8l-3.8 2.2l-0.2 0.1l-4 1.5l-4 0.9l-4 0.6l-4 0.3l-4 0.1l-8-0.2l-12-0.6h-8l-4 0.3l-4 0.5l-2.1 0.5l-1.9 0.5l-4 1.5l-3.5 2l-0.5 0.3l-4 3.4l-0.3 0.3l-3.4 4l-0.3 0.4l-2.4 3.6l-1.6 3.1l-0.5 0.9l-1.7 4l-1.3 4l-0.5 1.9l-0.5 2.1l-0.9 4l-0.6 4l-0.8 8l-0.4 8l-0.3 12v4l-0.1 4l-0.2 4l-0.2 3.3v0.7l-0.4 4l-0.5 4l-0.8 4l-0.9 4l-1.3 4l-0.1 0.2l-1.5 3.8l-1.8 4l-0.7 1.5l-1.1 2.5l-1.6 4l-0.9 4v4l0.8 4l1.3 4l1.4 4l0.1 0.8l0.6 3.2l-0.5 4l-0.1 0.2l-1.6 3.8l-2.4 3.4l-0.4 0.6l-3.2 4l-0.4 0.4l-2.9 3.6l-1.1 1.3l-2 2.7l-2 2.6l-1.1 1.4l-2.9 3.8l-0.1 0.2l-3.2 4l-3.5 4l-1.2 1.4l-2.4 2.6l-1.6 1.8l-2.1 2.2l-1.9 2l-2.2 2l-1.8 1.8l-3.2 2.2l-0.8 0.5l-4 1.4v-292.4l4 0.4l4 0.8l4 1.2l0.5 0.1l3.5 1.1l4 1.2l4 1.1l2 0.6l2 0.5l4 1.2l4 1.5l1.8 0.8l2.2 0.9l4 1.8l2.3 1.3l1.7 0.7l4 1.6l4 1.2l4 0.3l4-1.3l3.2-2.5l0.8-0.8l2.2-3.2l1.8-2.7l0.7-1.3l2.7-4l0.6-0.8l2.8-3.2l1.2-1.1l4-2.9l4-2l4-1.3l3.1-0.7l0.9-0.2l4-0.4l4-0.2l4 0.2l4 0.3l2.3 0.3l1.7 0.2l8 1l4 0.4l4 0.5l8 0.6l8 0.2h4l8-0.4l4-0.3l8-1l4-0.7l2.6-0.5l1.4-0.3l4-1l4-1.2l3.9-1.5l0.1-0.1l4-2l2.8-1.9l1.2-0.9l3.2-3.1l0.8-0.9l2.3-3.1l1.7-2.6l0.8-1.4l2-4l1.2-2.6l0.6-1.4l3-8l0.4-1.3l0.9-2.7l1.2-4l1.1-4l0.8-2.8l0.3-1.2l3.3-12l0.4-1.5l0.7-2.5l1.1-4l1.2-4l1-2.9l0.3-1.1l1.4-4l1.5-4l0.8-1.9l0.9-2.1l1.8-4l1.3-2.5l0.8-1.5l2.3-4l0.9-1.4l1.7-2.6l2.3-3.1l0.7-0.9l3.2-4l0.1-0.1l3.6-3.9l4.4-4.4l3.9-3.6l0.1-0.1l4-3.5l0.5-0.4l3.5-3.2l0.8-0.8l3.2-3.9l0.1-0.1l1.5-4zM644.1 73.8l4-0.2l4 0.6l0.6 0.2l3.4 1.5l3.2 2.5l0.8 1l1.7 3l1.2 4v4l-1.6 4l-1.3 1.4l-4 2.1l-4 0.3l-4-0.9l-4-1.6l-2.3-1.3l-1.7-1.4l-2.7-2.6l-1.3-2.1l-1.1-1.9l-0.8-4l1.2-4l0.7-0.7l4-2.8l1.4-0.5z"/>
<path fill="#df0000" d="M400.1 52.4l0.7-2h141.8l0.2 4l0.5 4l0.2 4l-0.7 4l-2.3 4l-4 4l-0.4 0.3l-4 2.9l-1.3 0.8l-2.7 1.5l-4 2l-1.2 0.5l-2.8 1.1l-4 1.4l-4 1.1l-1.5 0.4l-2.5 0.6l-4 0.8l-8 1.4l-4 0.9l-1.1 0.3l-2.9 0.8l-4 1.5l-4 2l-4 2.7l-1.3 1l-2.7 2.3l-1.8 1.7l-2.2 2.1l-1.9 1.9l-2.1 2.2l-1.7 1.8l-2.3 2.4l-1.4 1.6l-2.6 2.8l-1.1 1.2l-2.9 3.2l-0.7 0.8l-3.3 3.9l-0.1 0.1l-3.1 4l-0.8 1.1l-2 2.9l-2.5 4l-2.2 4l-1.3 2.7l-0.6 1.3l-1.8 4l-1.6 3.9v0.1l-4 10l-0.9 2l-2 4l-1.1 2.1l-1.3 1.9l-2.7 3.2l-0.9 0.8l-3.1 2.2l-4 1.7l-0.3 0.1l-3.7 1.2l-4 1l-8 1.6l-1.1 0.2l-2.9 0.6l-12 2.1l-4 0.6l-8 1l-4 0.4l-4 0.3l-8 0.4h-4l-4-0.3l-4-0.8l-0.8-0.3l-3.2-4v-0.1l-0.1-3.9l0.5-4l0.8-4l2.7-12l0.1-0.5l0.8-3.5l2.7-12l0.5-2.2l0.4-1.8l0.9-4l2-8l0.7-2.6l0.4-1.4l1.1-4l1.2-4l1.3-3.9v-0.1l1.4-4l1.6-4l1-2.2l0.8-1.8l2-4l1.2-2.2l1-1.8l2.6-4l0.4-0.6l2.5-3.4l1.5-2l1.7-2l2.3-2.5l1.4-1.5l2.6-2.6l1.5-1.4l2.5-2.3l2-1.7l2-1.8l2.7-2.2l1.3-1.1l3.6-2.9l0.4-0.3l4-3.6l0.1-0.1l3.1-4zM648.1 85.4l4-0.3l0.8 1.3l-0.8 1.3l-4-0.8l-0.4-0.5zM428.1 193.5l4-1.9l4-0.8l4-0.2l4 0.2l4 0.9l4 1.6l1.6 1.1l2.4 3l0.5 1l0.5 4l-0.7 4l-1.5 4l-2.1 4l-0.7 1l-2.3 3l-1.7 1.6l-2.8 2.4l-1.2 0.8l-4 1.9l-4 1.2l-1.3 0.1l-2.7 0.2l-1.2-0.2l-2.8-0.6l-4-2.1l-1.5-1.3l-2.3-4l-0.2-0.9l-0.6-3.1l-0.1-4l0.6-4l0.1-0.2l1.2-3.8l2.1-4l0.7-1.1l2.9-2.9zM220.1 201.5l4-1.1l4-0.7l4-0.3l4-0.1h4l16 0.8l16 0.4h4l24-0.6h4l4 0.1l4 0.4l4 1l1.9 1l1.8 4l-0.3 4l-1 4l-1.4 4l-1 2.1l-0.8 1.9l-2.1 4l-1.1 1.5l-1.5 2.5l-2.5 3.1l-0.7 0.9l-3.3 3.6l-0.3 0.4l-4 4l-3.7 3.6l-4 4l-0.3 0.4l-3.6 4l-0.1 0.2l-2.8 3.8l-1.2 1.8l-1.3 2.2l-2.1 4l-0.6 1.1l-1.4 2.9l-2.1 4l-0.5 0.8l-2.1 3.2l-1.9 2.5l-1.4 1.5l-2.6 2.4l-2.3 1.6l-1.7 1l-4 1.7l-4 1.1l-1.4 0.2l-2.6 0.4l-4 0.3h-4l-4-0.1l-8-0.6h-0.1l-3.9-0.4l-8-0.8l-4-0.3l-4-0.2h-4l-4 0.2l-4 0.8l-1.9 0.7l-2.1 0.8l-4 2.4l-0.9 0.8l-3.1 2.7l-1.1 1.3l-2.9 3.6l-0.3 0.4l-2.6 4l-1.1 2l-1 2l-1.8 4l-1.2 3.6l-0.1 0.4l-1.2 4l-0.8 4l-0.7 4l-0.8 8l-0.2 4l-0.1 4l-0.1 3.5v20.5l-0.1 4l-0.2 4l-0.4 4l-0.5 4l-0.8 4l-1 4l-1 3.1l-0.3 0.9l-1.6 4l-1.8 4l-0.3 0.7l-1.4 3.3l-1.4 4l-0.8 4l-0.1 4l0.8 4l1.3 4l1.4 4l0.2 0.8l0.7 3.2l-0.2 4l-0.5 1.3l-1 2.7l-2.4 4l-0.6 0.8l-2.3 3.2l-1.7 2.2l-1.2 1.8l-2.8 3.8l-0.1 0.2l-2.9 4l-1 1.2l-2.1 2.8l-1.9 2.4l-1.3 1.6l-2.7 3.1l-0.8 0.9l-3.2 3.5l-0.6 0.5l-3.4 3.5l-0.6 0.5l-3.4 3.1l-1.4 0.9l-2.6 1.7l-4 1.3v-260.7l4 0.1h4l4-0.1l4-0.3l4-0.4l4-0.3l4-0.2l4 0.1l4 0.3l4 0.6l4 0.8l4 1.1l4 1l4 0.9l4 0.6h4l4-0.9l3-1.6l1-0.7l3.1-3.3l0.9-1.1l1.7-2.9l2.3-4l2-4l2-3.4l0.4-0.6l2.8-4l0.8-0.9l3.2-3.1l0.8-0.6l4-2.6l1.8-0.8z"/>
<path fill="#d20000" d="M539 50.4v8l-0.4 4l-1.4 4l-1.1 1.7l-1.7 2.3l-2.3 2.2l-2.2 1.8l-1.8 1.2l-4 2.3l-1 0.5l-3 1.3l-4 1.5l-4 1.1l-0.2 0.1l-3.8 0.8l-4 0.7l-12 1.5l-4 0.7l-4 1l-4 1.6l-3.1 1.7l-0.9 0.5l-4 3.1l-0.4 0.4l-3.6 3.3l-0.6 0.7l-3.4 3.5l-0.4 0.5l-7.2 8l-0.4 0.4l-3.3 3.6l-3.5 4l-1.2 1.4l-2.2 2.6l-1.8 2.2l-1.4 1.8l-2.6 3.6l-0.3 0.4l-2.6 4l-1.1 1.9l-1.2 2.1l-2.1 4l-2 4l-1.9 4l-0.8 1.7l-1.1 2.3l-2 4l-0.9 1.6l-1.4 2.4l-2.6 3.8l-0.2 0.2l-3.6 4l-0.2 0.2l-4 3.1l-1.1 0.7l-2.9 1.6l-4 1.7l-4 1.4l-4 1.2l-8 1.8l-1.7 0.3l-2.3 0.4l-4 0.7l-4 0.5l-4 0.3l-4 0.2l-4-0.1l-4-0.4l-4-0.8l-2.3-0.8l-1.7-0.9l-3.5-3.1l-0.5-0.7l-1.4-3.3l-0.7-4l-0.2-4l0.1-4l0.8-8l1.2-8l0.2-1.1l0.5-2.9l1.6-8l1-4l0.9-3.7l0.1-0.3l1.1-4l1.2-4l1.3-4l1.5-4l1.7-4l1.1-2.5l0.8-1.5l2.1-4l1.1-1.8l1.4-2.2l2.6-3.7l0.2-0.3l3.3-4l0.5-0.6l3.2-3.4l0.8-0.9l3.3-3.1l0.7-0.6l3.9-3.4l0.1-0.1l4-3.3l0.8-0.6l3.2-2.6l1.8-1.4l2.2-1.7l2.8-2.3l1.2-1.1l3.1-2.9l0.9-1.2l2-2.8l1.3-4zM436.1 201l4-0.7l4 0.6l2.3 1.5l1.7 2.4l0.5 1.6l-0.2 4l-2 4l-2.3 2.8l-1.3 1.2l-2.7 1.5l-4 1.1l-4-0.6l-3.1-2l-0.9-1.7l-0.8-2.3l0.3-4l0.5-1.5l1.3-2.5l2.7-3.1l1.3-0.9zM228.1 205.2l4-0.9l4-0.6l4-0.4l8-0.2h4l24 0.6l8 0.4l4 0.3l4 0.5l4 0.6l3.7 0.9l0.3 0.1l4 1.9l2.5 2l1.5 2.7l0.5 1.3l0.4 4l-0.7 4l-0.2 0.5l-1.2 3.5l-2 4l-0.8 1.1l-1.9 2.9l-2.1 2.5l-1.1 1.5l-2.9 3.1l-0.7 0.9l-3.3 3.4l-0.5 0.6l-3.5 3.8l-0.2 0.2l-3.3 4l-0.5 0.7l-2.2 3.3l-2.4 4l-2 4l-1.4 2.9l-0.5 1.1l-2.3 4l-1.2 1.9l-1.6 2.1l-2.4 2.6l-1.7 1.4l-2.3 1.6l-4 2l-1.1 0.4l-2.9 0.9l-4 0.6l-4 0.3l-4 0.1l-4-0.2l-4-0.4l-4-0.5l-4-0.6l-1.1-0.2l-2.9-0.5l-12-2.4l-4-0.7l-4-0.5l-4-0.3l-2.9 0.4l-1.1 0.1l-4 1.5l-3.5 2.4l-0.5 0.3l-3.8 3.7l-0.2 0.2l-3.1 3.8l-0.9 1.2l-1.9 2.8l-2.1 3.6l-0.2 0.4l-2.1 4l-1.7 4v0.1l-1.4 3.9l-1.1 4l-0.9 4l-0.6 3.7v0.3l-0.5 4l-0.4 4l-0.2 4l-0.2 8l0.3 12l0.2 4l0.2 8l-0.2 8l-0.3 4l-0.5 4l-0.8 4l-1 4l-0.6 1.9l-0.7 2.1l-1.5 4l-1.7 4l-0.1 0.2l-1.5 3.8l-1.2 4l-0.7 4v4l0.7 4l1.2 4l1.4 4l0.1 0.5l0.9 3.5v4l-1.2 4l-2.1 4l-1.6 2.5l-0.9 1.5l-2.7 4l-0.4 0.6l-2.3 3.4l-1.7 2.4l-1.1 1.6l-2.9 3.9l-0.1 0.1l-3.3 4l-0.6 0.7l-4 4.4l-3 2.9l-1 1l-3.6 3l-0.4 0.4l-4 2.5l-3.6 1.1l-0.4 0.1v-231.6l1.1-0.5l2.9-1.3l2.9-2.7l1.1-0.8l3.4-3.2l0.6-0.4l4-2.9l1.2-0.7l2.8-1.4l4-1.5l4.4-1.1l3.6-0.5l4-0.2l4 0.2l3 0.5l1 0.2l4 0.9l8 2.2l2.9 0.7l1.1 0.3l4 0.7h4l3.2-1l0.8-0.2l4-2.9l0.8-0.9l3.2-4v-0.1l2.2-3.9l1.8-3.4l0.3-0.6l1.8-4l1.9-3.6l0.2-0.4l2.3-4l1.5-2.1l1.5-1.9l2.5-2.6l1.7-1.4l2.3-1.6l4-2.1l0.6-0.3z"/>
<path fill="#c60000" d="M535.6 50.4l-0.1 4l-0.4 4l-0.9 4l-2.1 4l-3.5 4l-0.5 0.4l-4 2.9l-1.2 0.7l-2.8 1.4l-4 1.6l-3.4 1l-0.6 0.2l-4 0.8l-4 0.5l-4 0.3l-8 0.4l-4 0.3l-4 0.5l-4 1l-4 1.7l-3.6 2.3l-0.4 0.3l-4 3.5l-0.2 0.2l-3.8 4l-3.4 4l-0.6 0.7l-2.8 3.3l-1.2 1.4l-2.2 2.6l-1.8 2.1l-1.6 1.9l-2.4 2.8l-1 1.2l-3 3.5l-3.6 4.5l-0.4 0.6l-2.5 3.4l-1.5 2.3l-1.1 1.7l-2.4 4l-0.5 0.9l-1.7 3.1l-2.1 4l-2 4l-2.1 4l-0.1 0.2l-2.2 3.8l-1.8 3l-0.7 1l-3.1 4l-4.2 4.2l-4 2.9l-1.6 0.9l-2.4 1.3l-4 1.7l-3 1l-1 0.3l-4 1.1l-4 0.9l-4 0.7l-4 0.5l-4 0.3h-4l-4-0.4l-4-0.8l-4-1.7l-1.4-0.9l-2.6-2.5l-1.1-1.5l-1.8-4l-0.9-4l-0.2-1.6l-0.2-2.4l-0.1-4l0.2-4l0.1-1.3l0.2-2.7l0.5-4l0.6-4l0.7-4l1.8-8l0.2-0.7l0.9-3.3l1.2-4l1.4-4l0.5-1.4l1-2.6l1.8-4l1.2-2.4l0.9-1.6l2.4-4l0.7-1.1l2.1-2.9l1.9-2.5l1.3-1.5l2.7-3l4-4l1.2-1l2.8-2.5l1.8-1.5l2.2-1.8l2.8-2.2l1.2-0.9l4-3.1l4-3l1.2-1l2.8-2.3l2-1.7l2-2l1.9-2l2.1-3.3l0.4-0.7l1.1-4zM252.1 206.3h8l4 0.1h0.4l3.6 0.1l8 0.6l4 0.4l4 0.6l4 0.8l4 1.2l0.8 0.3l3.2 1.8l2.8 2.2l1.2 1.9l1 2.1l0.5 4l-0.6 4l-1.5 4l-2.2 4l-1.2 1.6l-1.7 2.4l-2.3 2.8l-1 1.2l-3 3.4l-0.5 0.6l-3.5 4l-3.1 4l-0.9 1.3l-1.8 2.7l-2.1 4l-4.1 8.2l-2.4 3.8l-1.6 2.2l-1.7 1.8l-2.3 1.9l-3.4 2.1l-0.6 0.3l-4 1.4l-4 0.8l-4 0.3h-4l-4-0.3l-4-0.5l-4-0.7l-4-0.9l-1.7-0.4l-2.3-0.7l-4-1.3l-4-1.4l-1.7-0.6l-2.3-1.2l-4-2.1l-1.5-0.7l-2.5-2l-2.9-2l-1.1-1.7l-2.1-2.3l-0.5-4l1.2-4l1.4-2.5l0.5-1.5l1.9-4l1.6-3.2l0.3-0.8l3.4-8l0.3-0.8l1.3-3.2l1.6-4l1.1-2.3l0.8-1.7l2.2-4l1-1.4l1.9-2.6l2.1-2.2l2-1.8l2-1.5l4-2.3l0.4-0.2l3.6-1.4l4-1l4-0.8l4-0.4l4-0.3zM148.1 253.4l4-1.5l4-0.8h4l4 0.6l4 1.2l3.8 1.5l0.2 0.1l4 2.3l2.6 1.6l1.4 1.3l3.2 2.7l0.8 1.7l1.5 2.3l-0.5 4l-1 1.8l-0.8 2.2l-2.4 4l-0.8 1.2l-1.7 2.8l-2.3 3.7l-0.2 0.3l-2.5 4l-1.3 2.3l-1 1.7l-2.1 4l-1.8 4l-1.6 4l-1.3 4l-0.2 0.7l-0.9 3.3l-0.8 4l-0.7 4l-0.4 4l-0.3 4l-0.2 4l-0.1 4v4l0.2 8l0.2 4l1.2 16l0.1 4v4l-0.2 4l-0.5 4l-0.6 4l-0.9 4l-0.1 0.2l-1.2 3.8l-1.4 4l-1.4 3.8l-0.1 0.2l-1.3 4l-1.1 4l-0.5 4v4l0.6 4l1.1 4l1.3 4l1 4l0.2 4l-0.8 4l-0.4 0.8l-1.4 3.2l-2.2 4l-0.4 0.7l-1.9 3.3l-2.1 3.3l-0.4 0.7l-2.8 4l-0.8 1.1l-2.2 2.9l-1.8 2.2l-1.6 1.8l-2.4 2.6l-1.5 1.4l-2.5 2.4l-2 1.6l-2 1.7l-3.9 2.3h-0.1l-4 1.2v-206.1l4-0.9l3.8-2.2l0.2-0.1l3.7-3.9l0.3-0.3l2.4-3.7l1.6-2.9l0.6-1.1l2.2-4l1.2-1.7l1.7-2.3l2.3-2.2l2.3-1.8z"/>
<path fill="#b90000" d="M532.4 50.4l-0.3 4l-0.7 4l-1.6 4l-1.7 2.7l-1.1 1.3l-2.9 2.7l-1.9 1.3l-2.1 1.3l-4 1.8l-2.8 0.9l-1.2 0.3l-4 0.8l-4 0.4l-4 0.1h-4l-4-0.3l-4-0.2h-4l-4 0.2l-4 1l-3.6 1.7l-0.4 0.2l-4 2.9l-4 4l-0.7 0.9l-3.3 4l-3.1 4l-3 4l-1.9 2.4l-1.2 1.6l-6.4 8l-0.4 0.4l-2.9 3.6l-1.1 1.4l-1.9 2.6l-2.1 2.8l-0.8 1.2l-2.6 4l-0.6 0.9l-1.8 3.1l-2.2 3.9l-0.1 0.1l-2.1 4l-1.8 3.4l-0.3 0.6l-2.2 4l-1.5 2.7l-0.8 1.3l-2.6 4l-0.6 0.8l-2.7 3.2l-1.3 1.4l-2.9 2.6l-1.1 0.9l-4 2.6l-1 0.5l-3 1.4l-4 1.5l-3.6 1.1l-0.4 0.1l-4 0.9l-4 0.5l-4 0.3l-4-0.1l-4-0.5l-4-1.1l-0.1-0.1l-3.9-2.3l-1.8-1.7l-2.2-3l-0.5-1l-1.5-4l-0.7-4l-0.4-4v-4l0.2-4l0.4-4l0.6-4l0.7-4l0.9-4l0.3-1.2l0.8-2.8l1.2-4l1.4-4l0.6-1.5l1.1-2.5l1.9-4l1-1.8l1.3-2.2l2.7-4l3.2-4l0.8-0.9l2.9-3.1l1.1-1.1l3.2-2.9l0.8-0.7l4-3.3l4-3.1l4-3l2.6-1.9l1.4-1.1l3.9-2.9l0.1-0.1l4-3.2l0.9-0.7l3.1-2.8l1.2-1.2l2.8-3.2l0.6-0.8l2.2-4l1-4zM244.1 210.4l4-0.5l4-0.3l4-0.2h4l4 0.1l4 0.2l4 0.3l3 0.4l1 0.1l4 0.8l4 1.1l4 1.7l0.7 0.3l3.3 2.6l1.3 1.4l1.8 4l0.2 4l-0.9 4l-1.9 4l-0.5 0.8l-2.1 3.2l-1.9 2.5l-1.2 1.5l-2.8 3.3l-0.6 0.7l-3.3 4l-0.1 0.1l-2.9 3.9l-1.1 1.7l-1.5 2.3l-2.1 4l-0.4 0.9l-1.6 3.1l-2.1 4l-0.3 0.5l-2.6 3.5l-1.4 1.5l-3.2 2.5l-0.8 0.5l-4 1.7l-4 1l-4 0.4l-4-0.1l-4-0.4l-4-0.8l-4-1l-4-1.2l-0.3-0.1l-3.7-1.7l-4-2.1l-0.4-0.2l-3.6-2.9l-1.3-1.1l-2.7-3.9l-0.1-0.1l-1.4-4l-0.4-4l0.2-4l0.7-4l0.9-4l0.1-0.5l0.8-3.5l1.2-4l1.3-4l0.7-1.7l0.9-2.3l2-4l1.1-1.7l1.6-2.3l2.4-2.8l1.3-1.2l2.7-2.1l3-1.9l1-0.5l4-1.6l4-1.1l3.9-0.8zM156.1 268.5l4-0.6l3.2 2.5l0.8 2.5l0.2 1.5l-0.2 1.5l-0.5 2.5l-1.5 4l-2 5l-1.4 3l-1.5 4l-1 4l-0.1 0.6l-0.8 3.4l-0.7 4l-0.5 4l-0.8 8l-0.3 4l-0.4 8l-0.2 8l0.2 8l0.3 4l0.4 4l1.2 8l0.8 4l0.6 4l0.2 1.5l0.3 2.5l0.2 4v4l-0.2 4l-0.3 2.6l-0.2 1.4l-0.8 4l-1 4l-1.1 4l-0.9 2.8l-0.3 1.2l-1.2 4l-0.8 4l-0.4 4v4l0.5 4l1 4l1.2 3.8l0.1 0.2l1 4l0.4 4l-0.6 4l-0.9 2.7l-0.4 1.3l-1.9 4l-1.7 3.3l-0.4 0.7l-2.3 4l-1.3 1.9l-1.4 2.1l-2.6 3.5l-0.4 0.5l-3.6 4l-4 3.8l-0.2 0.2l-3.8 2.9l-4 2.2l-4 1.1v-187.3l4-0.6l4-1.3l2.3-1l1.7-0.8l4-2.2l1.8-1l2.2-1.6l3-2.4l1-1.2l2.5-2.8l1.5-2.6l1-1.4l2.1-4l0.9-1.6l2-2.4z"/>
<path fill="#ac0000" d="M529.1 50.4l-0.4 4l-0.6 2.2l-0.5 1.8l-2.3 4l-1.2 1.5l-2.8 2.5l-1.2 0.9l-4 2.2l-2.7 0.9l-1.3 0.4l-4 0.8l-4 0.3l-4-0.1l-4-0.4l-4-0.6l-2.5-0.4l-5.5-1.1l-4-0.5h-4l-4 0.8l-1.7 0.8l-2.3 1.2l-4 3.2l-4 4.5l-2.3 3.1l-1.7 2.4l-1.1 1.6l-2.6 4l-0.3 0.4l-2.4 3.6l-1.6 2.3l-1.2 1.7l-2.8 4l-3 4l-1 1.4l-1.9 2.6l-2.1 2.8l-0.8 1.2l-2.7 4l-0.5 0.7l-2.1 3.3l-1.9 3.3l-0.4 0.7l-2.2 4l-1.4 2.6l-0.7 1.4l-2.1 4l-1.2 2.2l-1 1.8l-2.3 4l-2.8 4l-1.9 2.5l-1.4 1.5l-2.6 2.6l-1.8 1.4l-2.2 1.6l-4 2.3l-0.3 0.1l-3.7 1.5l-4 1.2l-4 0.8l-4 0.4l-4-0.1l-4-0.6l-4-1.4l-2.9-1.8l-1.1-0.9l-2.5-3.1l-1.5-2.8l-0.5-1.2l-1-4l-0.5-4l-0.2-4l0.2-4l0.4-4l0.6-4l0.8-4l0.2-0.7l0.9-3.3l1.3-4l1.8-4.8l1.5-3.2l2.2-4l0.3-0.5l2.3-3.5l1.7-2.2l1.5-1.8l2.5-2.8l1.2-1.2l2.8-2.6l1.7-1.4l2.3-1.9l2.7-2.1l1.3-1l4-2.9l0.1-0.1l3.9-2.7l1.9-1.3l2.1-1.5l3.4-2.5l0.6-0.4l4-3.1l0.6-0.5l3.4-3l1.1-1l2.9-3l0.9-1l2.9-4l0.2-0.4l1.7-3.6l0.8-4zM244.1 214.1l4-0.7l4-0.5l4-0.3h4l4 0.1l4 0.3l4 0.5l4 0.8l0.3 0.1l3.7 1.2l4 2l1.2 0.8l2.8 3.1l0.6 0.9l1.1 4l-0.4 4l-1.3 3.7l-0.1 0.3l-2.4 4l-3 4l-2.5 3.1l-0.8 0.9l-3.2 4l-3 4l-1 1.6l-1.6 2.4l-2.1 4l-0.3 0.7l-1.9 3.3l-2.1 3.6l-0.3 0.4l-3.7 3.8l-0.3 0.2l-3.7 2l-4 1.3l-4 0.5l-4-0.1l-4-0.7l-4-1l-4-1.5l-1.2-0.5l-2.8-1.7l-3.2-2.3l-0.8-0.8l-2.7-3.2l-1.3-2.7l-0.6-1.3l-0.9-4l-0.4-4l0.1-4l0.3-4l0.5-4l0.9-4l0.1-0.5l1-3.5l1.7-4l1.3-2.4l0.9-1.6l3.1-3.8l0.2-0.2l3.8-3.2l1.3-0.8l2.7-1.5l4-1.6zM124.1 317.8l4-1l4-0.3l3.3 1.9l0.7 0.9l1 3.1l0.3 4l-0.3 4l-0.7 4l-0.3 1.4l-1.3 2.6l-2.1 4l-0.6 1.3l-4 2l-8-1.8v-25.3l0.7-0.2zM124.1 356.3l4-1l4 0.4l3.5 2.7l0.5 0.2l3.8 3.8l0.2 0.1l2.8 3.9l1.2 1.4l1.3 2.6l1.8 4l0.9 2.4l0.4 1.6l0.7 4l0.4 4v4l-0.3 4l-0.5 4l-0.7 3.7l-0.1 0.3l-0.9 4l-0.8 4l-0.6 4l-0.3 4v4l0.5 4l0.9 4l1.2 4l0.1 0.5l0.9 3.5l0.6 4l-0.2 4l-0.9 4l-0.4 0.9l-1.1 3.1l-1.9 4l-1 1.9l-1.1 2.1l-2.6 4l-0.3 0.4l-4 4.8l-2.9 2.8l-1.1 1l-3.9 3l-0.1 0.1l-4 2l-4 0.9v-124.2z"/>
<path fill="#9f0000" d="M525.6 50.4l-0.6 4l-0.9 2.5l-0.7 1.5l-3.2 4l-0.1 0.1l-4 2.7l-2.9 1.2l-1.1 0.4l-4 0.8l-4 0.2l-4-0.2l-4-0.7l-4-1l-4-1.4l-5.6-2.1l-2.4-1.1l-4-1.5l-4-0.7l-4 0.3l-4 1.7l-1.7 1.3l-2.3 1.8l-2 2.2l-2 2.4l-1.1 1.6l-2.5 4l-0.4 0.6l-2 3.4l-2 3.8l-0.1 0.2l-2.2 4l-1.7 3.1l-0.5 0.9l-2.3 4l-2.4 4l-2.5 4l-0.3 0.5l-2.2 3.5l-1.8 2.8l-0.7 1.2l-2.5 4l-0.8 1.4l-1.5 2.6l-2.1 4l-0.4 0.7l-1.7 3.3l-4 8l-2.1 4l-0.2 0.3l-2.2 3.7l-1.8 2.8l-0.9 1.2l-3.1 3.8l-0.2 0.2l-3.8 3.3l-1 0.7l-3 1.9l-4 1.8l-0.9 0.3l-3.1 0.9l-4 0.6l-4 0.1l-4-0.5l-3.2-1.1l-0.8-0.4l-4-3l-0.5-0.6l-2.4-4l-1.1-3l-0.3-1l-0.6-4l-0.1-4l0.1-4l0.5-4l0.4-2.1l0.4-1.9l1.1-4l1.3-4l1.2-3l0.5-1l2.1-4l1.4-2.3l1.2-1.7l2.8-3.7l0.3-0.3l3.7-3.9l0.1-0.1l3.9-3.4l4-3l2.3-1.6l1.7-1.2l4-2.6l0.3-0.2l3.7-2.3l2.7-1.7l1.3-0.8l4-2.6l0.9-0.6l3.1-2.2l2.5-1.8l1.5-1.2l4-3.5l3.3-3.3l0.7-0.9l2.6-3.1l1.4-2.5l0.9-1.5l1.5-4l0.6-4zM244.1 218.2l4-1l4-0.7l4-0.4l4-0.1l4 0.1l4 0.5l4 0.8l3.2 1l0.8 0.3l4 2.4l1.5 1.3l2.4 4l0.1 1.7l0.2 2.3l-0.2 0.5l-1 3.5l-2.1 4l-0.9 1.2l-2 2.8l-2 2.4l-1.3 1.6l-2.7 3.2l-0.7 0.8l-3.1 4l-0.2 0.4l-2.5 3.6l-1.5 2.7l-0.9 1.3l-2.6 4l-0.5 0.7l-3.5 3.3l-0.5 0.4l-4 1.7l-4 0.6l-4-0.2l-4-0.9l-4-1.6l-4-3.1l-1-0.9l-2.8-4l-0.2-0.5l-1.3-3.5l-0.9-4l-0.6-4l-0.2-4l0.2-4l0.6-4l1-4l1.2-2.7l0.6-1.3l2.7-4l0.7-0.7l3.6-3.3l0.4-0.3l4-2.2l3.5-1.5zM124.1 384.3l4-1l4-0.2l4 1.4l1.9 1.9l2.1 2.9l0.4 1.1l1 4l0.3 4v4l-0.3 4l-0.4 4l-0.3 4l-0.1 4v4l0.4 4l0.7 4l1.1 4l1.2 3.5l0.1 0.5l0.9 4l0.2 4l-0.4 4l-1 4l-1.6 4l-1.9 4l-0.3 0.4l-2.5 3.6l-1.5 1.9l-2 2.1l-2 1.9l-2.7 2.1l-1.3 0.9l-4 1.9l-4 0.9v-93.1z"/>
<path fill="#930000" d="M521.8 50.4l-0.9 4l-0.8 1.6l-1.7 2.4l-2.3 2.1l-3.6 1.9l-0.4 0.2l-4 0.9l-4 0.2l-4-0.5l-3.3-0.8l-0.7-0.2l-4-1.7l-3.9-2.1l-0.1-0.1l-4-3.7l-0.2-0.2l-1.9-4zM420.1 86.2l4-0.8l4 0.6l0.4 0.4l1.1 4l-0.4 4l-1 4l-0.1 0.3l-1.4 3.7l-1.5 4l-1.1 2.5l-0.6 1.5l-1.8 4l-1.6 3.9v0.1l-3.6 8l-0.4 1l-1.4 3l-2 4l-0.6 1.1l-1.7 2.9l-2.3 3.5l-0.4 0.5l-3.6 4l-4 3.1l-1.7 0.9l-2.3 1.1l-4 1.2l-4 0.4l-4-0.4l-4-1.5l-1.1-0.8l-2.9-2.9l-0.7-1.1l-1.6-4l-0.8-4l-0.2-4l0.4-4l0.7-4l1.1-4l1.1-3.2l0.3-0.8l2.1-4l1.6-2.7l0.9-1.3l3.1-3.9l0.1-0.1l3.9-3.7l0.3-0.3l3.7-2.8l1.7-1.2l2.3-1.5l4-2.3l4-2l4-1.9l0.7-0.3l3.3-1.4l4-1.5l3.3-1.1zM248.1 221.5l4-1l4-0.6l4-0.1l4 0.3l4 0.7l4 1.3l0.6 0.3l3.4 2.7l1.1 1.3l1.3 4l-0.7 4l-1.7 3.6l-0.2 0.4l-3 4l-0.8 1l-2.7 3l-1.3 1.4l-2.6 2.6l-1.4 1.7l-2.3 2.3l-1.7 2.1l-1.9 1.9l-2.1 2.4l-2.1 1.6l-1.9 1.4l-4 1.1l-4-0.5l-3.7-2l-0.3-0.2l-3.2-3.8l-0.8-1.3l-1.3-2.7l-1.5-4l-1-4l-0.2-2.1l-0.2-1.9l0.2-3l0.1-1l1-4l2-4l0.9-1.1l2.7-2.9l1.3-1l4-2.4l1.3-0.6zM128.1 430.3l4-2.3l0.5 2.4l2.1 4l1.4 1.6l0.9 2.4l2 4l1.1 3l0.2 1l0.4 4l-0.4 4l-0.2 0.8l-1 3.2l-1.9 4l-1.1 1.7l-1.8 2.3l-2.2 2.3l-2.1 1.7l-1.9 1.3l-4 1.8l-4 0.8v-36.6l4-2.2l1.4-1.1l2.6-4z"/>
<path fill="#860000" d="M517.1 50.4l-1 3.1l-0.5 0.9l-3.5 3.1l-2.2 0.9l-1.8 0.5l-4 0.1l-3.7-0.6l-0.3-0.1l-4-2l-2.6-1.9l-1.4-2.3l-0.9-1.7zM400.1 105.1l4-0.9l4 0.2l2.9 2l1.1 2.5l0.3 1.5l-0.1 4l-0.2 1.3l-0.5 2.7l-1.2 4l-1.3 4l-1 2.4l-0.8 1.6l-2.2 4l-1 1.5l-2.2 2.5l-1.8 1.8l-3.1 2.2l-0.9 0.5l-4 1.1l-4-0.1l-3.3-1.5l-0.7-0.5l-2.4-3.5l-1.2-4l-0.2-4l0.7-4l1.3-4l1.7-4l0.1-0.1l2.8-3.9l1.2-1.4l2.8-2.6l1.2-1l4-2.6l0.8-0.4zM252.1 225.5l4-0.8l4-0.1l4 0.5l3.7 1.3l0.3 0.2l3.2 3.8l0.1 4l-1.9 4l-1.4 1.8l-2 2.2l-2 1.9l-2.7 2.1l-1.3 1l-4 2.2l-2.5 0.8l-1.5 0.5l-4-0.1l-0.9-0.4l-3.1-1.8l-1.8-2.2l-2.1-4l-0.4-4l0.3-1.4l0.6-2.6l2.7-4l0.7-0.7l4-2.7l1.2-0.6zM124.1 448.4l4-0.8l4 0.7l1.9 2.1l1.3 4l-0.5 4l-1.9 4l-0.8 1.1l-3 2.9l-1 0.7l-4 1.6l-4 0.6v-20.2z"/>
</g>
<path d="M357.6 54.0L357.6 57.9L347.1 57.9L347.1 63.1L341.9 63.1L341.9 68.2L336.6 68.2L336.6 77.2L320.9 77.2L320.9 82.0L315.6 82.0L315.6 86.7L310.4 86.7L310.4 91.2L299.9 91.2L299.9 86.7L294.6 86.7L294.6 77.0L284.1 77.0L284.1 96.0L289.4 96.0L289.4 105.6L305.1 105.6L305.1 152.9L299.9 152.9L299.9 166.9L294.6 166.9L294.6 180.8L289.4 180.8L289.4 200.2L284.1 200.2L284.1 219.1L278.9 219.1L278.9 223.1L236.9 223.1L236.9 228.0L221.1 228.0L221.1 233.1L210.6 233.1L210.6 237.9L205.4 237.9L205.4 242.3L200.1 242.3L200.1 247.0L194.9 247.0L194.9 251.8L189.6 251.8L189.6 261.2L184.4 261.2L184.4 271.0L179.1 271.0L179.1 279.9L173.9 279.9L173.9 284.9L168.6 284.9L168.6 289.3L163.4 289.3L163.4 298.9L158.1 298.9L158.1 303.8L147.6 303.8L147.6 313.0L142.9 313.0L142.9 317.8L147.6 317.8L147.6 326.9L152.9 326.9L152.9 337.0L147.6 337.0L147.6 355.1L152.9 355.1L152.9 369.8L147.6 369.8L147.6 379.0L142.6 379.0L142.6 402.0L137.1 402.0L137.1 430.7L142.6 430.7L142.6 449.6L137.1 449.6L137.1 458.8L131.9 458.8L131.9 463.9L126.6 463.9L123.0 463.9L123.0 54.0Z" fill="#fff"/>
<path d="M194.9 54.4V563.0M265.6 54.4V563.0M336.2 54.4V563.0M406.9 54.4V563.0M477.6 54.4V563.0M548.2 54.4V563.0M618.9 54.4V563.0M124.1 105.7H676.0M124.1 190.4H676.0M124.1 275.2H676.0M124.1 359.9H676.0M124.1 444.7H676.0M124.1 529.4H676.0" fill="none" stroke="#a6a6a6" stroke-width="1.6" stroke-dasharray="2 4.55"/>
<path d="M125.1 144.2L133.9 148.6L142.7 148.4L149.0 151.5L159.8 151.5L166.7 150.3L161.7 145.5L166.7 141.0L170.5 135.1L176.2 137.6L181.9 142.6L189.2 141.0L193.2 134.7L204.6 129.7L213.9 126.7L218.9 124.2L224.6 120.2L231.6 118.5L238.5 115.4L245.5 117.2L253.0 115.4L259.3 118.5L265.7 119.8L273.2 122.9L280.8 127.0L286.5 132.4L289.0 138.1L290.3 145.7L289.4 154.5L283.5 155.2L285.4 161.9L292.3 165.0L289.1 170.7L287.9 178.0L287.6 190.0L285.5 201.0L283.2 213.0L281.3 217.5L274.5 221.5L265.0 221.8L250.0 223.2L238.4 224.0L230.8 224.5L220.7 226.6L213.1 229.3L205.6 233.1L199.9 237.6L194.2 240.1L191.7 233.4L203.0 230.0L213.1 227.1L215.7 219.5L208.1 217.7L201.8 214.4L200.8 206.6L204.3 200.1L210.6 196.8L204.3 192.1L190.4 189.2L185.4 193.4L179.3 196.5L176.5 204.3L179.0 212.3L184.3 216.5L186.9 224.3L184.4 231.4L177.7 233.0L170.9 235.7L165.5 249.8L168.0 250.7L173.3 248.8L182.0 239.6L189.3 240.5L192.2 245.9L187.4 251.2L188.8 244.4L182.0 244.9L170.9 254.1L166.0 257.0L161.7 263.3L159.2 281.3L184.0 257.5L175.7 270.6L168.0 278.9L157.9 288.4L153.5 296.6L151.6 302.3L144.0 303.9L142.7 313.7L145.3 323.1L147.8 329.3L142.7 334.3L145.3 341.4L148.0 361.6L142.7 379.3L136.4 390.7L135.4 402.0L133.9 410.8L135.8 430.4L138.9 437.0L136.4 444.3L130.1 455.0L125.0 459.4M125.0 403.3L135.4 402.0M289.4 154.5L295.7 153.0L299.9 141.7L302.4 129.0L300.5 121.5L301.5 112.4L295.7 115.0L290.0 111.1L284.6 115.2L279.6 109.4L290.2 98.1L296.5 91.1L307.9 84.8L320.5 76.0L329.3 69.7L340.7 60.8L348.3 55.2M298.8 86.3L307.9 81.3L315.2 77.3L310.4 70.9L312.3 64.6L319.9 61.5L324.9 65.3L325.6 55.2M326.2 55.2L328.7 58.2L330.6 55.2M315.2 77.3L321.0 74.7M285.2 55.2L282.6 67.2L280.1 77.9L281.4 97.2L290.6 97.2M292.1 55.2L292.5 70.9L297.1 77.9L298.8 86.3" fill="none" stroke="#000" stroke-width="1.1" stroke-linejoin="round"/>
</g>
<text x="146.0" y="109.3" font-size="20.6" textLength="13.5" lengthAdjust="spacingAndGlyphs" fill="#4a4a4a" stroke="#fff" stroke-width="0.35">Z</text><text x="174.1" y="109.3" font-size="20.6" textLength="16.3" lengthAdjust="spacingAndGlyphs" fill="#4a4a4a" stroke="#fff" stroke-width="0.35">=</text><text x="205.4" y="109.3" font-size="20.6" textLength="36.4" lengthAdjust="spacingAndGlyphs" fill="#4a4a4a" stroke="#fff" stroke-width="0.35">2.5</text><text x="254.8" y="109.3" font-size="20.6" textLength="20.9" lengthAdjust="spacingAndGlyphs" fill="#4a4a4a" stroke="#fff" stroke-width="0.35">m</text>
<rect x="124.1" y="54.4" width="551.9" height="508.6" fill="none" stroke="#000" stroke-width="2"/>
<path d="M124.2 563.0v4.2M194.9 563.0v4.2M265.6 563.0v4.2M336.2 563.0v4.2M406.9 563.0v4.2M477.6 563.0v4.2M548.2 563.0v4.2M618.9 563.0v4.2M124.1 105.7h-4.2M124.1 190.4h-4.2M124.1 275.2h-4.2M124.1 359.9h-4.2M124.1 444.7h-4.2M124.1 529.4h-4.2" fill="none" stroke="#000" stroke-width="1.6"/>
<g font-size="14" fill="#000" stroke="#000" stroke-width="0.55"><text x="111.7" y="579.1" textLength="25.1" lengthAdjust="spacingAndGlyphs">28.5</text><text x="188.2" y="579.1" textLength="13.5" lengthAdjust="spacingAndGlyphs">29</text><text x="253.1" y="579.1" textLength="25.1" lengthAdjust="spacingAndGlyphs">29.5</text><text x="329.5" y="579.1" textLength="13.5" lengthAdjust="spacingAndGlyphs">30</text><text x="394.4" y="579.1" textLength="25.1" lengthAdjust="spacingAndGlyphs">30.5</text><text x="470.8" y="579.1" textLength="13.5" lengthAdjust="spacingAndGlyphs">31</text><text x="535.7" y="579.1" textLength="25.1" lengthAdjust="spacingAndGlyphs">31.5</text><text x="612.2" y="579.1" textLength="13.5" lengthAdjust="spacingAndGlyphs">32</text><text x="92.8" y="110.7" textLength="25.1" lengthAdjust="spacingAndGlyphs">45.5</text><text x="104.3" y="195.4" textLength="13.5" lengthAdjust="spacingAndGlyphs">45</text><text x="92.8" y="280.2" textLength="25.1" lengthAdjust="spacingAndGlyphs">44.5</text><text x="104.3" y="364.9" textLength="13.5" lengthAdjust="spacingAndGlyphs">44</text><text x="92.8" y="449.7" textLength="25.1" lengthAdjust="spacingAndGlyphs">43.5</text><text x="104.3" y="534.4" textLength="13.5" lengthAdjust="spacingAndGlyphs">43</text></g>
<text x="59.8" y="41.3" font-size="23.4" textLength="42.8" lengthAdjust="spacingAndGlyphs" stroke="#fff" stroke-width="0.3">Sea</text><text x="113.6" y="41.3" font-size="23.4" textLength="57.8" lengthAdjust="spacingAndGlyphs" stroke="#fff" stroke-width="0.3">Level</text><text x="183.6" y="41.3" font-size="23.4" textLength="61.6" lengthAdjust="spacingAndGlyphs" stroke="#fff" stroke-width="0.3">(cm).</text><text x="259.8" y="41.3" font-size="23.4" textLength="51.6" lengthAdjust="spacingAndGlyphs" stroke="#fff" stroke-width="0.3">Date</text><text x="323.6" y="41.3" font-size="23.4" textLength="137.8" lengthAdjust="spacingAndGlyphs" stroke="#fff" stroke-width="0.3">2019.09.16.</text><text x="474.8" y="41.3" font-size="23.4" textLength="51.6" lengthAdjust="spacingAndGlyphs" stroke="#fff" stroke-width="0.3">Time</text><text x="541.1" y="41.3" font-size="23.4" textLength="140.3" lengthAdjust="spacingAndGlyphs" stroke="#fff" stroke-width="0.3">00(h):00(m)</text><text x="694.8" y="41.3" font-size="23.4" textLength="46.1" lengthAdjust="spacingAndGlyphs" stroke="#fff" stroke-width="0.3">GMT</text>
<text x="322.5" y="605.8" font-size="20.2" textLength="88.7" lengthAdjust="spacingAndGlyphs" stroke="#fff" stroke-width="0.15">Longitude</text><text x="421.3" y="605.8" font-size="20.2" textLength="55.7" lengthAdjust="spacingAndGlyphs" stroke="#fff" stroke-width="0.15">(East)</text>
<g transform="translate(81.6 0) rotate(-90)"><text x="-383.7" y="0.0" font-size="20.2" textLength="74.7" lengthAdjust="spacingAndGlyphs" stroke="#fff" stroke-width="0.15">Latitude</text><text x="-299.7" y="0.0" font-size="20.2" textLength="64.9" lengthAdjust="spacingAndGlyphs" stroke="#fff" stroke-width="0.15">(North)</text></g>
<rect x="709" y="61.90" width="13.95" height="493.85" fill="#860000"/><rect x="709" y="67.92" width="13.95" height="487.83" fill="#920000"/><rect x="709" y="73.95" width="13.95" height="481.80" fill="#9f0000"/><rect x="709" y="79.97" width="13.95" height="475.78" fill="#ab0000"/><rect x="709" y="85.99" width="13.95" height="469.76" fill="#b70000"/><rect x="709" y="92.01" width="13.95" height="463.74" fill="#c40000"/><rect x="709" y="98.04" width="13.95" height="457.71" fill="#d00000"/><rect x="709" y="104.06" width="13.95" height="451.69" fill="#dd0000"/><rect x="709" y="110.08" width="13.95" height="445.67" fill="#e90000"/><rect x="709" y="116.10" width="13.95" height="439.65" fill="#f60000"/><rect x="709" y="122.13" width="13.95" height="433.62" fill="#ff0300"/><rect x="709" y="128.15" width="13.95" height="427.60" fill="#ff1000"/><rect x="709" y="134.17" width="13.95" height="421.58" fill="#ff1c00"/><rect x="709" y="140.19" width="13.95" height="415.56" fill="#ff2800"/><rect x="709" y="146.22" width="13.95" height="409.53" fill="#ff3500"/><rect x="709" y="152.24" width="13.95" height="403.51" fill="#ff4100"/><rect x="709" y="158.26" width="13.95" height="397.49" fill="#ff4e00"/><rect x="709" y="164.28" width="13.95" height="391.47" fill="#ff5a00"/><rect x="709" y="170.31" width="13.95" height="385.44" fill="#ff6700"/><rect x="709" y="176.33" width="13.95" height="379.42" fill="#ff7300"/><rect x="709" y="182.35" width="13.95" height="373.40" fill="#ff8000"/><rect x="709" y="188.37" width="13.95" height="367.38" fill="#ff8c00"/><rect x="709" y="194.40" width="13.95" height="361.35" fill="#ff9800"/><rect x="709" y="200.42" width="13.95" height="355.33" fill="#ffa500"/><rect x="709" y="206.44" width="13.95" height="349.31" fill="#ffb100"/><rect x="709" y="212.46" width="13.95" height="343.29" fill="#ffbe00"/><rect x="709" y="218.49" width="13.95" height="337.26" fill="#ffca00"/><rect x="709" y="224.51" width="13.95" height="331.24" fill="#ffd700"/><rect x="709" y="230.53" width="13.95" height="325.22" fill="#ffe300"/><rect x="709" y="236.55" width="13.95" height="319.20" fill="#ffef00"/><rect x="709" y="242.58" width="13.95" height="313.17" fill="#fffc00"/><rect x="709" y="248.60" width="13.95" height="307.15" fill="#f6ff09"/><rect x="709" y="254.62" width="13.95" height="301.13" fill="#e9ff16"/><rect x="709" y="260.64" width="13.95" height="295.11" fill="#ddff22"/><rect x="709" y="266.67" width="13.95" height="289.08" fill="#d0ff2f"/><rect x="709" y="272.69" width="13.95" height="283.06" fill="#c4ff3b"/><rect x="709" y="278.71" width="13.95" height="277.04" fill="#b7ff48"/><rect x="709" y="284.73" width="13.95" height="271.02" fill="#abff54"/><rect x="709" y="290.76" width="13.95" height="264.99" fill="#9fff60"/><rect x="709" y="296.78" width="13.95" height="258.97" fill="#92ff6d"/><rect x="709" y="302.80" width="13.95" height="252.95" fill="#86ff79"/><rect x="709" y="308.82" width="13.95" height="246.93" fill="#79ff86"/><rect x="709" y="314.85" width="13.95" height="240.90" fill="#6dff92"/><rect x="709" y="320.87" width="13.95" height="234.88" fill="#60ff9f"/><rect x="709" y="326.89" width="13.95" height="228.86" fill="#54ffab"/><rect x="709" y="332.92" width="13.95" height="222.83" fill="#48ffb7"/><rect x="709" y="338.94" width="13.95" height="216.81" fill="#3bffc4"/><rect x="709" y="344.96" width="13.95" height="210.79" fill="#2fffd0"/><rect x="709" y="350.98" width="13.95" height="204.77" fill="#22ffdd"/><rect x="709" y="357.01" width="13.95" height="198.74" fill="#16ffe9"/><rect x="709" y="363.03" width="13.95" height="192.72" fill="#09fff6"/><rect x="709" y="369.05" width="13.95" height="186.70" fill="#00fcff"/><rect x="709" y="375.07" width="13.95" height="180.68" fill="#00efff"/><rect x="709" y="381.10" width="13.95" height="174.65" fill="#00e3ff"/><rect x="709" y="387.12" width="13.95" height="168.63" fill="#00d7ff"/><rect x="709" y="393.14" width="13.95" height="162.61" fill="#00caff"/><rect x="709" y="399.16" width="13.95" height="156.59" fill="#00beff"/><rect x="709" y="405.19" width="13.95" height="150.56" fill="#00b1ff"/><rect x="709" y="411.21" width="13.95" height="144.54" fill="#00a5ff"/><rect x="709" y="417.23" width="13.95" height="138.52" fill="#0098ff"/><rect x="709" y="423.25" width="13.95" height="132.50" fill="#008cff"/><rect x="709" y="429.28" width="13.95" height="126.47" fill="#0080ff"/><rect x="709" y="435.30" width="13.95" height="120.45" fill="#0073ff"/><rect x="709" y="441.32" width="13.95" height="114.43" fill="#0067ff"/><rect x="709" y="447.34" width="13.95" height="108.41" fill="#005aff"/><rect x="709" y="453.37" width="13.95" height="102.38" fill="#004eff"/><rect x="709" y="459.39" width="13.95" height="96.36" fill="#0041ff"/><rect x="709" y="465.41" width="13.95" height="90.34" fill="#0035ff"/><rect x="709" y="471.43" width="13.95" height="84.32" fill="#0028ff"/><rect x="709" y="477.46" width="13.95" height="78.29" fill="#001cff"/><rect x="709" y="483.48" width="13.95" height="72.27" fill="#0010ff"/><rect x="709" y="489.50" width="13.95" height="66.25" fill="#0003ff"/><rect x="709" y="495.52" width="13.95" height="60.23" fill="#0000f6"/><rect x="709" y="501.55" width="13.95" height="54.20" fill="#0000e9"/><rect x="709" y="507.57" width="13.95" height="48.18" fill="#0000dd"/><rect x="709" y="513.59" width="13.95" height="42.16" fill="#0000d0"/><rect x="709" y="519.61" width="13.95" height="36.14" fill="#0000c4"/><rect x="709" y="525.64" width="13.95" height="30.11" fill="#0000b7"/><rect x="709" y="531.66" width="13.95" height="24.09" fill="#0000ab"/><rect x="709" y="537.68" width="13.95" height="18.07" fill="#00009f"/><rect x="709" y="543.70" width="13.95" height="12.05" fill="#000092"/><rect x="709" y="549.73" width="13.95" height="6.02" fill="#000086"/>
<g font-size="14" fill="#000" stroke="#000" stroke-width="0.25"><text x="734.3" y="73.2" textLength="33.4" lengthAdjust="spacingAndGlyphs">−0.0</text><text x="734.3" y="189.1" textLength="33.4" lengthAdjust="spacingAndGlyphs">−0.0</text><text x="734.3" y="311.4" textLength="33.4" lengthAdjust="spacingAndGlyphs">−0.1</text><text x="734.3" y="433.8" textLength="33.4" lengthAdjust="spacingAndGlyphs">−0.2</text><text x="734.3" y="554.3" textLength="33.4" lengthAdjust="spacingAndGlyphs">−0.2</text></g>
</svg>
</body></html>
